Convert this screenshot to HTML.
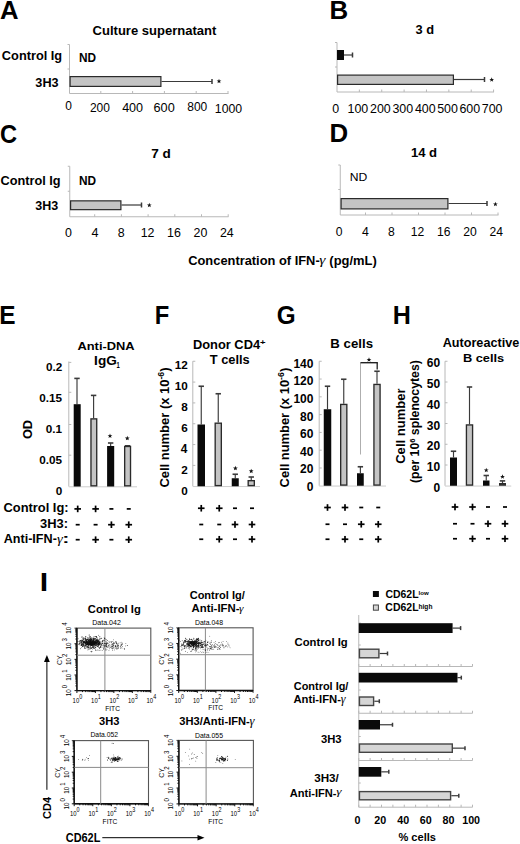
<!DOCTYPE html>
<html><head><meta charset="utf-8"><style>
html,body{margin:0;padding:0;background:#fff;}
body{width:520px;height:844px;overflow:hidden;}
svg{display:block;font-family:"Liberation Sans",sans-serif;}
</style></head><body>
<svg width="520" height="844" viewBox="0 0 520 844">
<rect width="520" height="844" fill="#fff"/>
<text x="0.06" y="18.75" font-size="25.51" font-weight="700" textLength="18.54" lengthAdjust="spacingAndGlyphs" fill="#000">A</text>
<text x="329.42" y="18.75" font-size="25.87" font-weight="700" textLength="18.71" lengthAdjust="spacingAndGlyphs" fill="#000">B</text>
<text x="-0.05" y="142.50" font-size="26.43" font-weight="700" textLength="17.09" lengthAdjust="spacingAndGlyphs" fill="#000">C</text>
<text x="329.62" y="141.90" font-size="25.51" font-weight="700" textLength="18.67" lengthAdjust="spacingAndGlyphs" fill="#000">D</text>
<text x="-0.69" y="324.20" font-size="25.94" font-weight="700" textLength="16.29" lengthAdjust="spacingAndGlyphs" fill="#000">E</text>
<text x="154.86" y="324.20" font-size="25.94" font-weight="700" textLength="14.49" lengthAdjust="spacingAndGlyphs" fill="#000">F</text>
<text x="276.83" y="324.20" font-size="25.57" font-weight="700" textLength="18.90" lengthAdjust="spacingAndGlyphs" fill="#000">G</text>
<text x="392.67" y="324.20" font-size="25.51" font-weight="700" textLength="18.12" lengthAdjust="spacingAndGlyphs" fill="#000">H</text>
<text x="39.83" y="590.80" font-size="25.94" font-weight="700" textLength="8.43" lengthAdjust="spacingAndGlyphs" fill="#000">I</text>
<text x="92.58" y="35.20" font-size="12.28" font-weight="700" textLength="123.67" lengthAdjust="spacingAndGlyphs" fill="#000">Culture supernatant</text>
<text x="1.89" y="60.30" font-size="12.69" font-weight="700" textLength="60.26" lengthAdjust="spacingAndGlyphs" fill="#000">Control Ig</text>
<text x="79.03" y="61.50" font-size="12.17" font-weight="700" textLength="17.09" lengthAdjust="spacingAndGlyphs" fill="#000">ND</text>
<text x="35.38" y="86.60" font-size="12.43" font-weight="700" textLength="23.25" lengthAdjust="spacingAndGlyphs" fill="#000">3H3</text>
<line x1="69.50" y1="44.50" x2="69.50" y2="93.50" stroke="#b8b8b8" stroke-width="1.00"/>
<line x1="67.50" y1="44.50" x2="69.50" y2="44.50" stroke="#b8b8b8" stroke-width="1.00"/>
<line x1="67.50" y1="69.00" x2="69.50" y2="69.00" stroke="#b8b8b8" stroke-width="1.00"/>
<line x1="69.50" y1="93.50" x2="228.50" y2="93.50" stroke="#b8b8b8" stroke-width="1.00"/>
<line x1="100.80" y1="91.00" x2="100.80" y2="93.50" stroke="#b8b8b8" stroke-width="1.00"/>
<line x1="132.60" y1="91.00" x2="132.60" y2="93.50" stroke="#b8b8b8" stroke-width="1.00"/>
<line x1="164.40" y1="91.00" x2="164.40" y2="93.50" stroke="#b8b8b8" stroke-width="1.00"/>
<line x1="196.20" y1="91.00" x2="196.20" y2="93.50" stroke="#b8b8b8" stroke-width="1.00"/>
<line x1="228.00" y1="91.00" x2="228.00" y2="93.50" stroke="#b8b8b8" stroke-width="1.00"/>
<text x="65.27" y="110.30" font-size="12.00" font-weight="400" textLength="6.67" lengthAdjust="spacingAndGlyphs" fill="#000">0</text>
<text x="89.90" y="111.90" font-size="12.00" font-weight="400" textLength="20.02" lengthAdjust="spacingAndGlyphs" fill="#000">200</text>
<text x="122.13" y="111.70" font-size="12.57" font-weight="400" textLength="20.98" lengthAdjust="spacingAndGlyphs" fill="#000">400</text>
<text x="153.50" y="111.70" font-size="12.71" font-weight="400" textLength="21.21" lengthAdjust="spacingAndGlyphs" fill="#000">600</text>
<text x="187.28" y="111.40" font-size="12.00" font-weight="400" textLength="20.02" lengthAdjust="spacingAndGlyphs" fill="#000">800</text>
<text x="214.87" y="112.50" font-size="12.29" font-weight="400" textLength="27.33" lengthAdjust="spacingAndGlyphs" fill="#000">1000</text>
<rect x="70.10" y="76.60" width="90.80" height="9.80" fill="#c4c4c4" stroke="#2a2a2a" stroke-width="1.20"/>
<line x1="161.50" y1="81.50" x2="212.00" y2="81.50" stroke="#3a3a3a" stroke-width="1.20"/>
<line x1="212.00" y1="79.00" x2="212.00" y2="84.00" stroke="#3a3a3a" stroke-width="1.50"/>
<polygon points="219.00,78.75 219.62,80.40 221.38,80.48 220.00,81.57 220.47,83.27 219.00,82.30 217.53,83.27 218.00,81.57 216.62,80.48 218.38,80.40" fill="#111"/>
<text x="415.58" y="33.80" font-size="12.28" font-weight="700" textLength="18.55" lengthAdjust="spacingAndGlyphs" fill="#000">3 d</text>
<line x1="337.00" y1="42.50" x2="337.00" y2="92.00" stroke="#b8b8b8" stroke-width="1.00"/>
<line x1="335.00" y1="42.50" x2="337.00" y2="42.50" stroke="#b8b8b8" stroke-width="1.00"/>
<line x1="335.00" y1="67.00" x2="337.00" y2="67.00" stroke="#b8b8b8" stroke-width="1.00"/>
<line x1="337.00" y1="92.00" x2="494.00" y2="92.00" stroke="#b8b8b8" stroke-width="1.00"/>
<line x1="359.37" y1="89.50" x2="359.37" y2="92.00" stroke="#b8b8b8" stroke-width="1.00"/>
<line x1="381.74" y1="89.50" x2="381.74" y2="92.00" stroke="#b8b8b8" stroke-width="1.00"/>
<line x1="404.11" y1="89.50" x2="404.11" y2="92.00" stroke="#b8b8b8" stroke-width="1.00"/>
<line x1="426.48" y1="89.50" x2="426.48" y2="92.00" stroke="#b8b8b8" stroke-width="1.00"/>
<line x1="448.85" y1="89.50" x2="448.85" y2="92.00" stroke="#b8b8b8" stroke-width="1.00"/>
<line x1="471.22" y1="89.50" x2="471.22" y2="92.00" stroke="#b8b8b8" stroke-width="1.00"/>
<line x1="493.59" y1="89.50" x2="493.59" y2="92.00" stroke="#b8b8b8" stroke-width="1.00"/>
<text x="332.30" y="112.60" font-size="12.43" font-weight="400" textLength="6.91" lengthAdjust="spacingAndGlyphs" fill="#000">0</text>
<text x="347.54" y="112.60" font-size="12.43" font-weight="400" textLength="20.74" lengthAdjust="spacingAndGlyphs" fill="#000">100</text>
<text x="370.04" y="112.60" font-size="12.43" font-weight="400" textLength="20.74" lengthAdjust="spacingAndGlyphs" fill="#000">200</text>
<text x="392.45" y="112.60" font-size="12.43" font-weight="400" textLength="20.74" lengthAdjust="spacingAndGlyphs" fill="#000">300</text>
<text x="414.90" y="112.60" font-size="12.43" font-weight="400" textLength="20.74" lengthAdjust="spacingAndGlyphs" fill="#000">400</text>
<text x="437.15" y="112.60" font-size="12.43" font-weight="400" textLength="20.74" lengthAdjust="spacingAndGlyphs" fill="#000">500</text>
<text x="459.44" y="112.60" font-size="12.43" font-weight="400" textLength="20.74" lengthAdjust="spacingAndGlyphs" fill="#000">600</text>
<text x="481.79" y="112.60" font-size="12.43" font-weight="400" textLength="20.74" lengthAdjust="spacingAndGlyphs" fill="#000">700</text>
<rect x="337.00" y="50.00" width="7.00" height="10.00" fill="#0a0a0a"/>
<line x1="344.00" y1="55.00" x2="352.50" y2="55.00" stroke="#3a3a3a" stroke-width="1.20"/>
<line x1="352.50" y1="52.50" x2="352.50" y2="57.50" stroke="#3a3a3a" stroke-width="1.50"/>
<rect x="337.60" y="75.10" width="115.80" height="9.30" fill="#c4c4c4" stroke="#2a2a2a" stroke-width="1.20"/>
<line x1="454.00" y1="79.50" x2="484.50" y2="79.50" stroke="#3a3a3a" stroke-width="1.20"/>
<line x1="484.50" y1="77.00" x2="484.50" y2="82.00" stroke="#3a3a3a" stroke-width="1.50"/>
<polygon points="491.70,77.25 492.32,78.90 494.08,78.98 492.70,80.07 493.17,81.77 491.70,80.80 490.23,81.77 490.70,80.07 489.32,78.98 491.08,78.90" fill="#111"/>
<text x="151.29" y="157.80" font-size="12.69" font-weight="700" textLength="19.59" lengthAdjust="spacingAndGlyphs" fill="#000">7 d</text>
<text x="0.49" y="185.40" font-size="13.10" font-weight="700" textLength="60.15" lengthAdjust="spacingAndGlyphs" fill="#000">Control Ig</text>
<text x="79.03" y="185.00" font-size="12.03" font-weight="700" textLength="17.09" lengthAdjust="spacingAndGlyphs" fill="#000">ND</text>
<text x="35.29" y="209.90" font-size="12.00" font-weight="700" textLength="22.94" lengthAdjust="spacingAndGlyphs" fill="#000">3H3</text>
<line x1="69.75" y1="166.25" x2="69.75" y2="216.75" stroke="#b8b8b8" stroke-width="1.00"/>
<line x1="67.75" y1="166.25" x2="69.75" y2="166.25" stroke="#b8b8b8" stroke-width="1.00"/>
<line x1="67.75" y1="191.25" x2="69.75" y2="191.25" stroke="#b8b8b8" stroke-width="1.00"/>
<line x1="69.75" y1="216.75" x2="228.50" y2="216.75" stroke="#b8b8b8" stroke-width="1.00"/>
<line x1="94.70" y1="214.25" x2="94.70" y2="216.75" stroke="#b8b8b8" stroke-width="1.00"/>
<line x1="121.40" y1="214.25" x2="121.40" y2="216.75" stroke="#b8b8b8" stroke-width="1.00"/>
<line x1="148.10" y1="214.25" x2="148.10" y2="216.75" stroke="#b8b8b8" stroke-width="1.00"/>
<line x1="174.80" y1="214.25" x2="174.80" y2="216.75" stroke="#b8b8b8" stroke-width="1.00"/>
<line x1="201.50" y1="214.25" x2="201.50" y2="216.75" stroke="#b8b8b8" stroke-width="1.00"/>
<line x1="228.20" y1="214.25" x2="228.20" y2="216.75" stroke="#b8b8b8" stroke-width="1.00"/>
<text x="65.05" y="236.60" font-size="12.43" font-weight="400" textLength="6.91" lengthAdjust="spacingAndGlyphs" fill="#000">0</text>
<text x="91.43" y="236.60" font-size="12.61" font-weight="400" textLength="7.01" lengthAdjust="spacingAndGlyphs" fill="#000">4</text>
<text x="117.82" y="236.60" font-size="12.43" font-weight="400" textLength="6.91" lengthAdjust="spacingAndGlyphs" fill="#000">8</text>
<text x="140.65" y="236.60" font-size="12.43" font-weight="400" textLength="13.82" lengthAdjust="spacingAndGlyphs" fill="#000">12</text>
<text x="167.02" y="236.60" font-size="12.43" font-weight="400" textLength="13.82" lengthAdjust="spacingAndGlyphs" fill="#000">16</text>
<text x="193.54" y="236.60" font-size="12.43" font-weight="400" textLength="13.82" lengthAdjust="spacingAndGlyphs" fill="#000">20</text>
<text x="219.88" y="236.60" font-size="12.43" font-weight="400" textLength="13.82" lengthAdjust="spacingAndGlyphs" fill="#000">24</text>
<rect x="70.60" y="200.85" width="50.30" height="8.80" fill="#c4c4c4" stroke="#2a2a2a" stroke-width="1.20"/>
<line x1="121.50" y1="205.00" x2="141.50" y2="205.00" stroke="#3a3a3a" stroke-width="1.20"/>
<line x1="141.50" y1="202.50" x2="141.50" y2="207.50" stroke="#3a3a3a" stroke-width="1.50"/>
<polygon points="149.30,202.75 149.92,204.40 151.68,204.48 150.30,205.57 150.77,207.27 149.30,206.30 147.83,207.27 148.30,205.57 146.92,204.48 148.68,204.40" fill="#111"/>
<text x="410.90" y="156.50" font-size="12.41" font-weight="700" textLength="26.22" lengthAdjust="spacingAndGlyphs" fill="#000">14 d</text>
<text x="349.78" y="181.25" font-size="11.59" font-weight="400" textLength="17.57" lengthAdjust="spacingAndGlyphs" fill="#000">ND</text>
<line x1="340.25" y1="165.00" x2="340.25" y2="215.00" stroke="#b8b8b8" stroke-width="1.00"/>
<line x1="338.25" y1="165.00" x2="340.25" y2="165.00" stroke="#b8b8b8" stroke-width="1.00"/>
<line x1="338.25" y1="189.50" x2="340.25" y2="189.50" stroke="#b8b8b8" stroke-width="1.00"/>
<line x1="340.25" y1="215.00" x2="498.50" y2="215.00" stroke="#b8b8b8" stroke-width="1.00"/>
<line x1="365.50" y1="212.50" x2="365.50" y2="215.00" stroke="#b8b8b8" stroke-width="1.00"/>
<line x1="392.00" y1="212.50" x2="392.00" y2="215.00" stroke="#b8b8b8" stroke-width="1.00"/>
<line x1="418.50" y1="212.50" x2="418.50" y2="215.00" stroke="#b8b8b8" stroke-width="1.00"/>
<line x1="445.00" y1="212.50" x2="445.00" y2="215.00" stroke="#b8b8b8" stroke-width="1.00"/>
<line x1="471.50" y1="212.50" x2="471.50" y2="215.00" stroke="#b8b8b8" stroke-width="1.00"/>
<line x1="498.00" y1="212.50" x2="498.00" y2="215.00" stroke="#b8b8b8" stroke-width="1.00"/>
<text x="335.73" y="235.80" font-size="12.14" font-weight="400" textLength="6.75" lengthAdjust="spacingAndGlyphs" fill="#000">0</text>
<text x="361.91" y="235.80" font-size="12.32" font-weight="400" textLength="6.85" lengthAdjust="spacingAndGlyphs" fill="#000">4</text>
<text x="388.10" y="235.80" font-size="12.14" font-weight="400" textLength="6.75" lengthAdjust="spacingAndGlyphs" fill="#000">8</text>
<text x="410.81" y="235.80" font-size="12.14" font-weight="400" textLength="13.51" lengthAdjust="spacingAndGlyphs" fill="#000">12</text>
<text x="436.98" y="235.80" font-size="12.14" font-weight="400" textLength="13.51" lengthAdjust="spacingAndGlyphs" fill="#000">16</text>
<text x="463.30" y="235.80" font-size="12.14" font-weight="400" textLength="13.51" lengthAdjust="spacingAndGlyphs" fill="#000">20</text>
<text x="489.44" y="235.80" font-size="12.14" font-weight="400" textLength="13.51" lengthAdjust="spacingAndGlyphs" fill="#000">24</text>
<rect x="341.10" y="198.60" width="106.80" height="10.30" fill="#c4c4c4" stroke="#2a2a2a" stroke-width="1.20"/>
<line x1="448.50" y1="203.50" x2="487.00" y2="203.50" stroke="#3a3a3a" stroke-width="1.20"/>
<line x1="487.00" y1="201.00" x2="487.00" y2="206.00" stroke="#3a3a3a" stroke-width="1.50"/>
<polygon points="495.40,201.75 496.02,203.40 497.78,203.48 496.40,204.57 496.87,206.27 495.40,205.30 493.93,206.27 494.40,204.57 493.02,203.48 494.78,203.40" fill="#111"/>
<text x="188.24" y="264.50" font-size="12.41" font-weight="700" textLength="131.43" lengthAdjust="spacingAndGlyphs" fill="#000">Concentration of IFN-</text>
<text x="319.29" y="263.95" font-size="11.85" font-family="Liberation Serif" font-style="italic" textLength="6.19" lengthAdjust="spacingAndGlyphs">γ</text>
<text x="329.35" y="264.50" font-size="12.83" font-weight="700" textLength="47.49" lengthAdjust="spacingAndGlyphs" fill="#000">(pg/mL)</text>
<text x="77.48" y="349.60" font-size="11.45" font-weight="700" textLength="57.19" lengthAdjust="spacingAndGlyphs" fill="#000">Anti-DNA</text>
<text x="94.12" y="364.80" font-size="12.00" font-weight="700" textLength="22.62" lengthAdjust="spacingAndGlyphs" fill="#000">IgG</text>
<text x="116.52" y="368.20" font-size="8.84" font-weight="700" textLength="3.23" lengthAdjust="spacingAndGlyphs" fill="#000">1</text>
<line x1="68.80" y1="361.50" x2="68.80" y2="486.50" stroke="#b8b8b8" stroke-width="1.00"/>
<line x1="68.80" y1="486.80" x2="137.00" y2="486.80" stroke="#cdcdcd" stroke-width="1.00"/>
<line x1="68.80" y1="362.40" x2="71.30" y2="362.40" stroke="#b8b8b8" stroke-width="1.00"/>
<line x1="68.80" y1="392.30" x2="71.30" y2="392.30" stroke="#b8b8b8" stroke-width="1.00"/>
<line x1="68.80" y1="424.50" x2="71.30" y2="424.50" stroke="#b8b8b8" stroke-width="1.00"/>
<line x1="68.80" y1="455.20" x2="71.30" y2="455.20" stroke="#b8b8b8" stroke-width="1.00"/>
<text x="45.89" y="370.70" font-size="11.71" font-weight="700" textLength="16.28" lengthAdjust="spacingAndGlyphs" fill="#000">0.2</text>
<text x="39.21" y="401.85" font-size="11.71" font-weight="700" textLength="22.80" lengthAdjust="spacingAndGlyphs" fill="#000">0.15</text>
<text x="45.71" y="433.20" font-size="11.71" font-weight="700" textLength="16.28" lengthAdjust="spacingAndGlyphs" fill="#000">0.1</text>
<text x="39.21" y="463.85" font-size="11.71" font-weight="700" textLength="22.80" lengthAdjust="spacingAndGlyphs" fill="#000">0.05</text>
<text x="55.67" y="495.10" font-size="11.71" font-weight="700" textLength="6.52" lengthAdjust="spacingAndGlyphs" fill="#000">0</text>
<line x1="77.00" y1="404.20" x2="77.00" y2="378.40" stroke="#3a3a3a" stroke-width="1.15"/>
<line x1="74.30" y1="378.40" x2="79.70" y2="378.40" stroke="#3a3a3a" stroke-width="1.60"/>
<rect x="73.70" y="404.20" width="7.00" height="82.30" fill="#0a0a0a"/>
<line x1="93.60" y1="418.20" x2="93.60" y2="395.40" stroke="#3a3a3a" stroke-width="1.15"/>
<line x1="90.90" y1="395.40" x2="96.30" y2="395.40" stroke="#3a3a3a" stroke-width="1.60"/>
<rect x="90.97" y="418.88" width="5.75" height="66.95" fill="#c4c4c4" stroke="#2a2a2a" stroke-width="1.35"/>
<line x1="110.65" y1="446.00" x2="110.65" y2="443.00" stroke="#3a3a3a" stroke-width="1.15"/>
<line x1="107.95" y1="443.00" x2="113.35" y2="443.00" stroke="#3a3a3a" stroke-width="1.60"/>
<rect x="107.10" y="446.00" width="7.10" height="40.50" fill="#0a0a0a"/>
<line x1="127.60" y1="445.80" x2="127.60" y2="445.80" stroke="#3a3a3a" stroke-width="1.15"/>
<line x1="124.90" y1="445.80" x2="130.30" y2="445.80" stroke="#3a3a3a" stroke-width="1.60"/>
<rect x="124.67" y="446.48" width="5.85" height="39.35" fill="#c4c4c4" stroke="#2a2a2a" stroke-width="1.35"/>
<polygon points="110.00,433.55 110.62,435.20 112.38,435.28 111.00,436.37 111.47,438.07 110.00,437.10 108.53,438.07 109.00,436.37 107.62,435.28 109.38,435.20" fill="#111"/>
<polygon points="127.30,435.85 127.92,437.50 129.68,437.58 128.30,438.67 128.77,440.37 127.30,439.40 125.83,440.37 126.30,438.67 124.92,437.58 126.68,437.50" fill="#111"/>
<g transform="translate(32.3,438.6) rotate(-90)">
<text x="-0.51" y="0.00" font-size="13.14" font-weight="700" textLength="19.23" lengthAdjust="spacingAndGlyphs" fill="#000">OD</text>
</g>
<text x="3.48" y="512.30" font-size="12.55" font-weight="700" textLength="65.09" lengthAdjust="spacingAndGlyphs" fill="#000">Control Ig:</text>
<text x="40.08" y="527.90" font-size="11.86" font-weight="700" textLength="27.98" lengthAdjust="spacingAndGlyphs" fill="#000">3H3:</text>
<text x="3.69" y="542.60" font-size="12.14" font-weight="700" textLength="53.17" lengthAdjust="spacingAndGlyphs" fill="#000">Anti-IFN-</text>
<text x="57.01" y="542.53" font-size="12.89" font-family="Liberation Serif" font-style="italic" textLength="5.79" lengthAdjust="spacingAndGlyphs">γ</text>
<text x="62.26" y="542.60" font-size="12.67" font-weight="700" textLength="7.14" lengthAdjust="spacingAndGlyphs" fill="#000">:</text>
<rect x="74.40" y="508.05" width="6.60" height="1.70" fill="#000"/>
<rect x="76.85" y="505.60" width="1.70" height="6.60" fill="#000"/>
<rect x="92.30" y="508.05" width="6.60" height="1.70" fill="#000"/>
<rect x="94.75" y="505.60" width="1.70" height="6.60" fill="#000"/>
<rect x="109.40" y="508.05" width="4.00" height="1.70" fill="#000"/>
<rect x="126.75" y="508.05" width="4.00" height="1.70" fill="#000"/>
<rect x="75.70" y="523.85" width="4.00" height="1.70" fill="#000"/>
<rect x="93.60" y="523.85" width="4.00" height="1.70" fill="#000"/>
<rect x="108.10" y="523.85" width="6.60" height="1.70" fill="#000"/>
<rect x="110.55" y="521.40" width="1.70" height="6.60" fill="#000"/>
<rect x="125.45" y="523.85" width="6.60" height="1.70" fill="#000"/>
<rect x="127.90" y="521.40" width="1.70" height="6.60" fill="#000"/>
<rect x="75.70" y="538.85" width="4.00" height="1.70" fill="#000"/>
<rect x="92.30" y="538.85" width="6.60" height="1.70" fill="#000"/>
<rect x="94.75" y="536.40" width="1.70" height="6.60" fill="#000"/>
<rect x="109.40" y="538.85" width="4.00" height="1.70" fill="#000"/>
<rect x="125.45" y="538.85" width="6.60" height="1.70" fill="#000"/>
<rect x="127.90" y="536.40" width="1.70" height="6.60" fill="#000"/>
<text x="192.96" y="348.80" font-size="12.00" font-weight="700" textLength="67.13" lengthAdjust="spacingAndGlyphs" fill="#000">Donor CD4</text>
<text x="260.02" y="344.60" font-size="7.86" font-weight="700" textLength="5.55" lengthAdjust="spacingAndGlyphs" fill="#000">+</text>
<text x="209.87" y="364.30" font-size="12.00" font-weight="700" textLength="39.88" lengthAdjust="spacingAndGlyphs" fill="#000">T cells</text>
<line x1="192.80" y1="361.25" x2="192.80" y2="486.25" stroke="#b8b8b8" stroke-width="1.00"/>
<line x1="192.80" y1="486.55" x2="260.00" y2="486.55" stroke="#cdcdcd" stroke-width="1.00"/>
<line x1="192.80" y1="361.25" x2="195.30" y2="361.25" stroke="#b8b8b8" stroke-width="1.00"/>
<line x1="192.80" y1="382.08" x2="195.30" y2="382.08" stroke="#b8b8b8" stroke-width="1.00"/>
<line x1="192.80" y1="402.91" x2="195.30" y2="402.91" stroke="#b8b8b8" stroke-width="1.00"/>
<line x1="192.80" y1="423.74" x2="195.30" y2="423.74" stroke="#b8b8b8" stroke-width="1.00"/>
<line x1="192.80" y1="444.57" x2="195.30" y2="444.57" stroke="#b8b8b8" stroke-width="1.00"/>
<line x1="192.80" y1="465.40" x2="195.30" y2="465.40" stroke="#b8b8b8" stroke-width="1.00"/>
<text x="174.87" y="368.70" font-size="11.71" font-weight="700" textLength="13.03" lengthAdjust="spacingAndGlyphs" fill="#000">12</text>
<text x="174.87" y="389.68" font-size="11.71" font-weight="700" textLength="13.03" lengthAdjust="spacingAndGlyphs" fill="#000">10</text>
<text x="181.25" y="410.66" font-size="11.71" font-weight="700" textLength="6.52" lengthAdjust="spacingAndGlyphs" fill="#000">8</text>
<text x="181.31" y="431.64" font-size="11.71" font-weight="700" textLength="6.52" lengthAdjust="spacingAndGlyphs" fill="#000">6</text>
<text x="180.86" y="452.62" font-size="11.88" font-weight="700" textLength="6.61" lengthAdjust="spacingAndGlyphs" fill="#000">4</text>
<text x="181.37" y="473.60" font-size="11.71" font-weight="700" textLength="6.52" lengthAdjust="spacingAndGlyphs" fill="#000">2</text>
<text x="181.37" y="494.58" font-size="11.71" font-weight="700" textLength="6.52" lengthAdjust="spacingAndGlyphs" fill="#000">0</text>
<line x1="201.25" y1="424.50" x2="201.25" y2="386.25" stroke="#3a3a3a" stroke-width="1.15"/>
<line x1="198.55" y1="386.25" x2="203.95" y2="386.25" stroke="#3a3a3a" stroke-width="1.60"/>
<rect x="197.50" y="424.50" width="7.50" height="61.75" fill="#0a0a0a"/>
<line x1="218.25" y1="422.50" x2="218.25" y2="393.75" stroke="#3a3a3a" stroke-width="1.15"/>
<line x1="215.55" y1="393.75" x2="220.95" y2="393.75" stroke="#3a3a3a" stroke-width="1.60"/>
<rect x="215.18" y="423.18" width="6.15" height="62.40" fill="#c4c4c4" stroke="#2a2a2a" stroke-width="1.35"/>
<line x1="235.25" y1="478.25" x2="235.25" y2="474.25" stroke="#3a3a3a" stroke-width="1.15"/>
<line x1="232.55" y1="474.25" x2="237.95" y2="474.25" stroke="#3a3a3a" stroke-width="1.60"/>
<rect x="231.75" y="478.25" width="7.00" height="8.00" fill="#0a0a0a"/>
<line x1="251.25" y1="480.00" x2="251.25" y2="477.00" stroke="#3a3a3a" stroke-width="1.15"/>
<line x1="248.55" y1="477.00" x2="253.95" y2="477.00" stroke="#3a3a3a" stroke-width="1.60"/>
<rect x="248.18" y="480.68" width="6.15" height="4.90" fill="#c4c4c4" stroke="#2a2a2a" stroke-width="1.35"/>
<polygon points="235.40,465.85 236.02,467.50 237.78,467.58 236.40,468.67 236.87,470.37 235.40,469.40 233.93,470.37 234.40,468.67 233.02,467.58 234.78,467.50" fill="#111"/>
<polygon points="251.20,468.65 251.82,470.30 253.58,470.38 252.20,471.47 252.67,473.17 251.20,472.20 249.73,473.17 250.20,471.47 248.82,470.38 250.58,470.30" fill="#111"/>
<rect x="197.95" y="507.40" width="6.60" height="1.70" fill="#000"/>
<rect x="200.40" y="504.95" width="1.70" height="6.60" fill="#000"/>
<rect x="215.95" y="507.40" width="6.60" height="1.70" fill="#000"/>
<rect x="218.40" y="504.95" width="1.70" height="6.60" fill="#000"/>
<rect x="233.00" y="507.40" width="4.00" height="1.70" fill="#000"/>
<rect x="250.00" y="507.40" width="4.00" height="1.70" fill="#000"/>
<rect x="199.25" y="523.65" width="4.00" height="1.70" fill="#000"/>
<rect x="217.25" y="523.65" width="4.00" height="1.70" fill="#000"/>
<rect x="231.70" y="523.65" width="6.60" height="1.70" fill="#000"/>
<rect x="234.15" y="521.20" width="1.70" height="6.60" fill="#000"/>
<rect x="248.70" y="523.65" width="6.60" height="1.70" fill="#000"/>
<rect x="251.15" y="521.20" width="1.70" height="6.60" fill="#000"/>
<rect x="199.25" y="538.40" width="4.00" height="1.70" fill="#000"/>
<rect x="215.95" y="538.40" width="6.60" height="1.70" fill="#000"/>
<rect x="218.40" y="535.95" width="1.70" height="6.60" fill="#000"/>
<rect x="233.00" y="538.40" width="4.00" height="1.70" fill="#000"/>
<rect x="248.70" y="538.40" width="6.60" height="1.70" fill="#000"/>
<rect x="251.15" y="535.95" width="1.70" height="6.60" fill="#000"/>
<text x="330.39" y="348.25" font-size="12.07" font-weight="700" textLength="42.63" lengthAdjust="spacingAndGlyphs" fill="#000">B cells</text>
<line x1="319.20" y1="361.25" x2="319.20" y2="485.75" stroke="#b8b8b8" stroke-width="1.00"/>
<line x1="319.20" y1="486.05" x2="386.00" y2="486.05" stroke="#cdcdcd" stroke-width="1.00"/>
<line x1="319.20" y1="361.25" x2="321.70" y2="361.25" stroke="#b8b8b8" stroke-width="1.00"/>
<line x1="319.20" y1="379.04" x2="321.70" y2="379.04" stroke="#b8b8b8" stroke-width="1.00"/>
<line x1="319.20" y1="396.83" x2="321.70" y2="396.83" stroke="#b8b8b8" stroke-width="1.00"/>
<line x1="319.20" y1="414.62" x2="321.70" y2="414.62" stroke="#b8b8b8" stroke-width="1.00"/>
<line x1="319.20" y1="432.41" x2="321.70" y2="432.41" stroke="#b8b8b8" stroke-width="1.00"/>
<line x1="319.20" y1="450.20" x2="321.70" y2="450.20" stroke="#b8b8b8" stroke-width="1.00"/>
<line x1="319.20" y1="467.99" x2="321.70" y2="467.99" stroke="#b8b8b8" stroke-width="1.00"/>
<text x="293.40" y="367.75" font-size="12.00" font-weight="700" textLength="20.02" lengthAdjust="spacingAndGlyphs" fill="#000">140</text>
<text x="293.40" y="385.35" font-size="12.00" font-weight="700" textLength="20.02" lengthAdjust="spacingAndGlyphs" fill="#000">120</text>
<text x="293.40" y="402.95" font-size="12.00" font-weight="700" textLength="20.02" lengthAdjust="spacingAndGlyphs" fill="#000">100</text>
<text x="300.06" y="420.55" font-size="12.00" font-weight="700" textLength="13.35" lengthAdjust="spacingAndGlyphs" fill="#000">80</text>
<text x="300.06" y="438.15" font-size="12.00" font-weight="700" textLength="13.35" lengthAdjust="spacingAndGlyphs" fill="#000">60</text>
<text x="300.06" y="455.75" font-size="12.00" font-weight="700" textLength="13.35" lengthAdjust="spacingAndGlyphs" fill="#000">40</text>
<text x="300.06" y="473.35" font-size="12.00" font-weight="700" textLength="13.35" lengthAdjust="spacingAndGlyphs" fill="#000">20</text>
<text x="306.72" y="490.95" font-size="12.00" font-weight="700" textLength="6.67" lengthAdjust="spacingAndGlyphs" fill="#000">0</text>
<line x1="327.50" y1="409.25" x2="327.50" y2="386.25" stroke="#3a3a3a" stroke-width="1.15"/>
<line x1="324.80" y1="386.25" x2="330.20" y2="386.25" stroke="#3a3a3a" stroke-width="1.60"/>
<rect x="323.75" y="409.25" width="7.50" height="76.50" fill="#0a0a0a"/>
<line x1="343.75" y1="403.75" x2="343.75" y2="379.25" stroke="#3a3a3a" stroke-width="1.15"/>
<line x1="341.05" y1="379.25" x2="346.45" y2="379.25" stroke="#3a3a3a" stroke-width="1.60"/>
<rect x="340.68" y="404.43" width="6.15" height="80.65" fill="#c4c4c4" stroke="#2a2a2a" stroke-width="1.35"/>
<line x1="360.38" y1="473.25" x2="360.38" y2="466.75" stroke="#3a3a3a" stroke-width="1.15"/>
<line x1="357.68" y1="466.75" x2="363.07" y2="466.75" stroke="#3a3a3a" stroke-width="1.60"/>
<rect x="357.00" y="473.25" width="6.75" height="12.50" fill="#0a0a0a"/>
<line x1="377.00" y1="383.75" x2="377.00" y2="371.25" stroke="#3a3a3a" stroke-width="1.15"/>
<line x1="374.30" y1="371.25" x2="379.70" y2="371.25" stroke="#3a3a3a" stroke-width="1.60"/>
<rect x="373.93" y="384.43" width="6.15" height="100.65" fill="#c4c4c4" stroke="#2a2a2a" stroke-width="1.35"/>
<line x1="360.50" y1="362.50" x2="360.50" y2="454.50" stroke="#999" stroke-width="0.80"/>
<line x1="360.50" y1="362.70" x2="377.80" y2="362.70" stroke="#222" stroke-width="1.40"/>
<line x1="377.20" y1="362.50" x2="377.20" y2="369.40" stroke="#222" stroke-width="1.30"/>
<polygon points="369.00,357.25 369.62,358.90 371.38,358.98 370.00,360.07 370.47,361.77 369.00,360.80 367.53,361.77 368.00,360.07 366.62,358.98 368.38,358.90" fill="#111"/>
<rect x="324.20" y="506.65" width="6.60" height="1.70" fill="#000"/>
<rect x="326.65" y="504.20" width="1.70" height="6.60" fill="#000"/>
<rect x="341.70" y="506.65" width="6.60" height="1.70" fill="#000"/>
<rect x="344.15" y="504.20" width="1.70" height="6.60" fill="#000"/>
<rect x="359.25" y="506.65" width="4.00" height="1.70" fill="#000"/>
<rect x="376.25" y="506.65" width="4.00" height="1.70" fill="#000"/>
<rect x="325.50" y="523.40" width="4.00" height="1.70" fill="#000"/>
<rect x="343.00" y="523.40" width="4.00" height="1.70" fill="#000"/>
<rect x="357.95" y="523.40" width="6.60" height="1.70" fill="#000"/>
<rect x="360.40" y="520.95" width="1.70" height="6.60" fill="#000"/>
<rect x="374.95" y="523.40" width="6.60" height="1.70" fill="#000"/>
<rect x="377.40" y="520.95" width="1.70" height="6.60" fill="#000"/>
<rect x="325.50" y="538.40" width="4.00" height="1.70" fill="#000"/>
<rect x="341.70" y="538.40" width="6.60" height="1.70" fill="#000"/>
<rect x="344.15" y="535.95" width="1.70" height="6.60" fill="#000"/>
<rect x="359.25" y="538.40" width="4.00" height="1.70" fill="#000"/>
<rect x="374.95" y="538.40" width="6.60" height="1.70" fill="#000"/>
<rect x="377.40" y="535.95" width="1.70" height="6.60" fill="#000"/>
<text x="442.68" y="346.75" font-size="12.76" font-weight="700" textLength="76.54" lengthAdjust="spacingAndGlyphs" fill="#000">Autoreactive</text>
<text x="462.92" y="362.00" font-size="11.38" font-weight="700" textLength="41.34" lengthAdjust="spacingAndGlyphs" fill="#000">B cells</text>
<line x1="445.00" y1="361.25" x2="445.00" y2="485.75" stroke="#b8b8b8" stroke-width="1.00"/>
<line x1="445.00" y1="486.05" x2="511.25" y2="486.05" stroke="#cdcdcd" stroke-width="1.00"/>
<line x1="445.00" y1="361.25" x2="447.50" y2="361.25" stroke="#b8b8b8" stroke-width="1.00"/>
<line x1="445.00" y1="382.00" x2="447.50" y2="382.00" stroke="#b8b8b8" stroke-width="1.00"/>
<line x1="445.00" y1="402.75" x2="447.50" y2="402.75" stroke="#b8b8b8" stroke-width="1.00"/>
<line x1="445.00" y1="423.50" x2="447.50" y2="423.50" stroke="#b8b8b8" stroke-width="1.00"/>
<line x1="445.00" y1="444.25" x2="447.50" y2="444.25" stroke="#b8b8b8" stroke-width="1.00"/>
<line x1="445.00" y1="465.00" x2="447.50" y2="465.00" stroke="#b8b8b8" stroke-width="1.00"/>
<text x="426.76" y="366.80" font-size="12.00" font-weight="700" textLength="13.35" lengthAdjust="spacingAndGlyphs" fill="#000">60</text>
<text x="426.76" y="387.70" font-size="12.00" font-weight="700" textLength="13.35" lengthAdjust="spacingAndGlyphs" fill="#000">50</text>
<text x="426.76" y="408.60" font-size="12.00" font-weight="700" textLength="13.35" lengthAdjust="spacingAndGlyphs" fill="#000">40</text>
<text x="426.76" y="429.50" font-size="12.00" font-weight="700" textLength="13.35" lengthAdjust="spacingAndGlyphs" fill="#000">30</text>
<text x="426.76" y="450.40" font-size="12.00" font-weight="700" textLength="13.35" lengthAdjust="spacingAndGlyphs" fill="#000">20</text>
<text x="426.76" y="471.30" font-size="12.00" font-weight="700" textLength="13.35" lengthAdjust="spacingAndGlyphs" fill="#000">10</text>
<text x="433.42" y="492.20" font-size="12.00" font-weight="700" textLength="6.67" lengthAdjust="spacingAndGlyphs" fill="#000">0</text>
<line x1="453.50" y1="457.50" x2="453.50" y2="451.25" stroke="#3a3a3a" stroke-width="1.15"/>
<line x1="450.80" y1="451.25" x2="456.20" y2="451.25" stroke="#3a3a3a" stroke-width="1.60"/>
<rect x="450.00" y="457.50" width="7.00" height="28.25" fill="#0a0a0a"/>
<line x1="469.50" y1="424.25" x2="469.50" y2="387.00" stroke="#3a3a3a" stroke-width="1.15"/>
<line x1="466.80" y1="387.00" x2="472.20" y2="387.00" stroke="#3a3a3a" stroke-width="1.60"/>
<rect x="466.43" y="424.93" width="6.15" height="60.15" fill="#c4c4c4" stroke="#2a2a2a" stroke-width="1.35"/>
<line x1="486.25" y1="480.50" x2="486.25" y2="475.50" stroke="#3a3a3a" stroke-width="1.15"/>
<line x1="483.55" y1="475.50" x2="488.95" y2="475.50" stroke="#3a3a3a" stroke-width="1.60"/>
<rect x="483.00" y="480.50" width="6.50" height="5.25" fill="#0a0a0a"/>
<line x1="502.50" y1="483.00" x2="502.50" y2="480.90" stroke="#3a3a3a" stroke-width="1.15"/>
<line x1="499.80" y1="480.90" x2="505.20" y2="480.90" stroke="#3a3a3a" stroke-width="1.60"/>
<rect x="499.68" y="483.68" width="5.65" height="1.40" fill="#c4c4c4" stroke="#2a2a2a" stroke-width="1.35"/>
<polygon points="486.25,467.75 486.87,469.40 488.63,469.48 487.25,470.57 487.72,472.27 486.25,471.30 484.78,472.27 485.25,470.57 483.87,469.48 485.63,469.40" fill="#111"/>
<polygon points="502.50,474.25 503.12,475.90 504.88,475.98 503.50,477.07 503.97,478.77 502.50,477.80 501.03,478.77 501.50,477.07 500.12,475.98 501.88,475.90" fill="#111"/>
<rect x="451.70" y="506.15" width="6.60" height="1.70" fill="#000"/>
<rect x="454.15" y="503.70" width="1.70" height="6.60" fill="#000"/>
<rect x="469.20" y="506.15" width="6.60" height="1.70" fill="#000"/>
<rect x="471.65" y="503.70" width="1.70" height="6.60" fill="#000"/>
<rect x="486.00" y="506.15" width="4.00" height="1.70" fill="#000"/>
<rect x="503.00" y="506.15" width="4.00" height="1.70" fill="#000"/>
<rect x="453.00" y="522.90" width="4.00" height="1.70" fill="#000"/>
<rect x="470.50" y="522.90" width="4.00" height="1.70" fill="#000"/>
<rect x="484.70" y="522.90" width="6.60" height="1.70" fill="#000"/>
<rect x="487.15" y="520.45" width="1.70" height="6.60" fill="#000"/>
<rect x="501.70" y="522.90" width="6.60" height="1.70" fill="#000"/>
<rect x="504.15" y="520.45" width="1.70" height="6.60" fill="#000"/>
<rect x="453.00" y="537.90" width="4.00" height="1.70" fill="#000"/>
<rect x="469.20" y="537.90" width="6.60" height="1.70" fill="#000"/>
<rect x="471.65" y="535.45" width="1.70" height="6.60" fill="#000"/>
<rect x="486.00" y="537.90" width="4.00" height="1.70" fill="#000"/>
<rect x="501.70" y="537.90" width="6.60" height="1.70" fill="#000"/>
<rect x="504.15" y="535.45" width="1.70" height="6.60" fill="#000"/>
<g transform="translate(168.50,487.60) rotate(-90)">
<text x="0" y="0" font-size="12.2" font-weight="700" textLength="120.20" lengthAdjust="spacingAndGlyphs">Cell number (x 10<tspan dy="-4.6" font-size="8.3">-6</tspan><tspan dy="4.6">)</tspan></text>
</g>
<g transform="translate(289.00,487.40) rotate(-90)">
<text x="0" y="0" font-size="12.2" font-weight="700" textLength="119.60" lengthAdjust="spacingAndGlyphs">Cell number (x 10<tspan dy="-4.6" font-size="8.3">-6</tspan><tspan dy="4.6">)</tspan></text>
</g>
<g transform="translate(405.30,463.80) rotate(-90)">
<text x="0" y="0" font-size="12" font-weight="700" textLength="75.4" lengthAdjust="spacingAndGlyphs">Cell number</text>
</g>
<g transform="translate(419.20,483.00) rotate(-90)">
<text x="0" y="0" font-size="12" font-weight="700" textLength="122.8" lengthAdjust="spacingAndGlyphs">(per 10<tspan dy="-4.5" font-size="7.5">6</tspan><tspan dy="4.5"> splenocytes)</tspan></text>
</g>
<text x="87.80" y="613.00" font-size="10.00" font-weight="700" textLength="52.94" lengthAdjust="spacingAndGlyphs" fill="#000">Control Ig</text>
<text x="92.24" y="624.70" font-size="7.57" font-weight="400" textLength="28.61" lengthAdjust="spacingAndGlyphs" fill="#000">Data.042</text>
<rect x="76.90" y="628.10" width="73.90" height="62.50" fill="none" stroke="#555" stroke-width="1.10"/>
<line x1="76.90" y1="628.10" x2="76.90" y2="690.60" stroke="#111" stroke-width="1.40"/>
<line x1="76.90" y1="690.60" x2="150.80" y2="690.60" stroke="#111" stroke-width="1.40"/>
<line x1="104.90" y1="628.10" x2="104.90" y2="690.60" stroke="#8a8a8a" stroke-width="1.00"/>
<line x1="76.90" y1="655.20" x2="150.80" y2="655.20" stroke="#8a8a8a" stroke-width="1.00"/>
<line x1="74.50" y1="690.60" x2="76.90" y2="690.60" stroke="#111" stroke-width="1.00"/>
<line x1="76.90" y1="690.60" x2="76.90" y2="693.00" stroke="#111" stroke-width="1.00"/>
<line x1="75.40" y1="685.90" x2="76.90" y2="685.90" stroke="#111" stroke-width="1.00"/>
<line x1="82.46" y1="690.60" x2="82.46" y2="692.10" stroke="#111" stroke-width="1.00"/>
<line x1="75.40" y1="683.14" x2="76.90" y2="683.14" stroke="#111" stroke-width="1.00"/>
<line x1="85.71" y1="690.60" x2="85.71" y2="692.10" stroke="#111" stroke-width="1.00"/>
<line x1="75.40" y1="681.19" x2="76.90" y2="681.19" stroke="#111" stroke-width="1.00"/>
<line x1="88.02" y1="690.60" x2="88.02" y2="692.10" stroke="#111" stroke-width="1.00"/>
<line x1="75.40" y1="679.68" x2="76.90" y2="679.68" stroke="#111" stroke-width="1.00"/>
<line x1="89.81" y1="690.60" x2="89.81" y2="692.10" stroke="#111" stroke-width="1.00"/>
<line x1="75.40" y1="678.44" x2="76.90" y2="678.44" stroke="#111" stroke-width="1.00"/>
<line x1="91.28" y1="690.60" x2="91.28" y2="692.10" stroke="#111" stroke-width="1.00"/>
<line x1="75.40" y1="677.40" x2="76.90" y2="677.40" stroke="#111" stroke-width="1.00"/>
<line x1="92.51" y1="690.60" x2="92.51" y2="692.10" stroke="#111" stroke-width="1.00"/>
<line x1="75.40" y1="676.49" x2="76.90" y2="676.49" stroke="#111" stroke-width="1.00"/>
<line x1="93.58" y1="690.60" x2="93.58" y2="692.10" stroke="#111" stroke-width="1.00"/>
<line x1="75.40" y1="675.69" x2="76.90" y2="675.69" stroke="#111" stroke-width="1.00"/>
<line x1="94.53" y1="690.60" x2="94.53" y2="692.10" stroke="#111" stroke-width="1.00"/>
<line x1="74.50" y1="674.98" x2="76.90" y2="674.98" stroke="#111" stroke-width="1.00"/>
<line x1="95.38" y1="690.60" x2="95.38" y2="693.00" stroke="#111" stroke-width="1.00"/>
<line x1="75.40" y1="670.27" x2="76.90" y2="670.27" stroke="#111" stroke-width="1.00"/>
<line x1="100.94" y1="690.60" x2="100.94" y2="692.10" stroke="#111" stroke-width="1.00"/>
<line x1="75.40" y1="667.52" x2="76.90" y2="667.52" stroke="#111" stroke-width="1.00"/>
<line x1="104.19" y1="690.60" x2="104.19" y2="692.10" stroke="#111" stroke-width="1.00"/>
<line x1="75.40" y1="665.57" x2="76.90" y2="665.57" stroke="#111" stroke-width="1.00"/>
<line x1="106.50" y1="690.60" x2="106.50" y2="692.10" stroke="#111" stroke-width="1.00"/>
<line x1="75.40" y1="664.05" x2="76.90" y2="664.05" stroke="#111" stroke-width="1.00"/>
<line x1="108.29" y1="690.60" x2="108.29" y2="692.10" stroke="#111" stroke-width="1.00"/>
<line x1="75.40" y1="662.82" x2="76.90" y2="662.82" stroke="#111" stroke-width="1.00"/>
<line x1="109.75" y1="690.60" x2="109.75" y2="692.10" stroke="#111" stroke-width="1.00"/>
<line x1="75.40" y1="661.77" x2="76.90" y2="661.77" stroke="#111" stroke-width="1.00"/>
<line x1="110.99" y1="690.60" x2="110.99" y2="692.10" stroke="#111" stroke-width="1.00"/>
<line x1="75.40" y1="660.86" x2="76.90" y2="660.86" stroke="#111" stroke-width="1.00"/>
<line x1="112.06" y1="690.60" x2="112.06" y2="692.10" stroke="#111" stroke-width="1.00"/>
<line x1="75.40" y1="660.06" x2="76.90" y2="660.06" stroke="#111" stroke-width="1.00"/>
<line x1="113.00" y1="690.60" x2="113.00" y2="692.10" stroke="#111" stroke-width="1.00"/>
<line x1="74.50" y1="659.35" x2="76.90" y2="659.35" stroke="#111" stroke-width="1.00"/>
<line x1="113.85" y1="690.60" x2="113.85" y2="693.00" stroke="#111" stroke-width="1.00"/>
<line x1="75.40" y1="654.65" x2="76.90" y2="654.65" stroke="#111" stroke-width="1.00"/>
<line x1="119.41" y1="690.60" x2="119.41" y2="692.10" stroke="#111" stroke-width="1.00"/>
<line x1="75.40" y1="651.89" x2="76.90" y2="651.89" stroke="#111" stroke-width="1.00"/>
<line x1="122.66" y1="690.60" x2="122.66" y2="692.10" stroke="#111" stroke-width="1.00"/>
<line x1="75.40" y1="649.94" x2="76.90" y2="649.94" stroke="#111" stroke-width="1.00"/>
<line x1="124.97" y1="690.60" x2="124.97" y2="692.10" stroke="#111" stroke-width="1.00"/>
<line x1="75.40" y1="648.43" x2="76.90" y2="648.43" stroke="#111" stroke-width="1.00"/>
<line x1="126.76" y1="690.60" x2="126.76" y2="692.10" stroke="#111" stroke-width="1.00"/>
<line x1="75.40" y1="647.19" x2="76.90" y2="647.19" stroke="#111" stroke-width="1.00"/>
<line x1="128.23" y1="690.60" x2="128.23" y2="692.10" stroke="#111" stroke-width="1.00"/>
<line x1="75.40" y1="646.15" x2="76.90" y2="646.15" stroke="#111" stroke-width="1.00"/>
<line x1="129.46" y1="690.60" x2="129.46" y2="692.10" stroke="#111" stroke-width="1.00"/>
<line x1="75.40" y1="645.24" x2="76.90" y2="645.24" stroke="#111" stroke-width="1.00"/>
<line x1="130.53" y1="690.60" x2="130.53" y2="692.10" stroke="#111" stroke-width="1.00"/>
<line x1="75.40" y1="644.44" x2="76.90" y2="644.44" stroke="#111" stroke-width="1.00"/>
<line x1="131.48" y1="690.60" x2="131.48" y2="692.10" stroke="#111" stroke-width="1.00"/>
<line x1="74.50" y1="643.73" x2="76.90" y2="643.73" stroke="#111" stroke-width="1.00"/>
<line x1="132.33" y1="690.60" x2="132.33" y2="693.00" stroke="#111" stroke-width="1.00"/>
<line x1="75.40" y1="639.02" x2="76.90" y2="639.02" stroke="#111" stroke-width="1.00"/>
<line x1="137.89" y1="690.60" x2="137.89" y2="692.10" stroke="#111" stroke-width="1.00"/>
<line x1="75.40" y1="636.27" x2="76.90" y2="636.27" stroke="#111" stroke-width="1.00"/>
<line x1="141.14" y1="690.60" x2="141.14" y2="692.10" stroke="#111" stroke-width="1.00"/>
<line x1="75.40" y1="634.32" x2="76.90" y2="634.32" stroke="#111" stroke-width="1.00"/>
<line x1="143.45" y1="690.60" x2="143.45" y2="692.10" stroke="#111" stroke-width="1.00"/>
<line x1="75.40" y1="632.80" x2="76.90" y2="632.80" stroke="#111" stroke-width="1.00"/>
<line x1="145.24" y1="690.60" x2="145.24" y2="692.10" stroke="#111" stroke-width="1.00"/>
<line x1="75.40" y1="631.57" x2="76.90" y2="631.57" stroke="#111" stroke-width="1.00"/>
<line x1="146.70" y1="690.60" x2="146.70" y2="692.10" stroke="#111" stroke-width="1.00"/>
<line x1="75.40" y1="630.52" x2="76.90" y2="630.52" stroke="#111" stroke-width="1.00"/>
<line x1="147.94" y1="690.60" x2="147.94" y2="692.10" stroke="#111" stroke-width="1.00"/>
<line x1="75.40" y1="629.61" x2="76.90" y2="629.61" stroke="#111" stroke-width="1.00"/>
<line x1="149.01" y1="690.60" x2="149.01" y2="692.10" stroke="#111" stroke-width="1.00"/>
<line x1="75.40" y1="628.81" x2="76.90" y2="628.81" stroke="#111" stroke-width="1.00"/>
<line x1="149.95" y1="690.60" x2="149.95" y2="692.10" stroke="#111" stroke-width="1.00"/>
<line x1="74.50" y1="628.10" x2="76.90" y2="628.10" stroke="#111" stroke-width="0.80"/>
<line x1="150.80" y1="690.60" x2="150.80" y2="693.00" stroke="#111" stroke-width="0.80"/>
<g transform="translate(71.30,692.80) rotate(-90) scale(0.85,1)" fill="#000"><text x="0" y="0" font-size="7.4" text-anchor="middle">10</text><text x="5.3" y="-3.9" font-size="7.2">0</text></g>
<g transform="translate(71.30,677.18) rotate(-90) scale(0.85,1)" fill="#000"><text x="0" y="0" font-size="7.4" text-anchor="middle">10</text><text x="5.3" y="-3.9" font-size="7.2">1</text></g>
<g transform="translate(71.30,661.55) rotate(-90) scale(0.85,1)" fill="#000"><text x="0" y="0" font-size="7.4" text-anchor="middle">10</text><text x="5.3" y="-3.9" font-size="7.2">2</text></g>
<g transform="translate(71.30,645.93) rotate(-90) scale(0.85,1)" fill="#000"><text x="0" y="0" font-size="7.4" text-anchor="middle">10</text><text x="5.3" y="-3.9" font-size="7.2">3</text></g>
<g transform="translate(71.30,630.30) rotate(-90) scale(0.85,1)" fill="#000"><text x="0" y="0" font-size="7.4" text-anchor="middle">10</text><text x="5.3" y="-3.9" font-size="7.2">4</text></g>
<g transform="translate(62.30,660.15) rotate(-90)"><text x="0" y="0" font-size="7" text-anchor="middle" fill="#222">CY</text></g>
<g transform="translate(75.90,702.70) scale(0.78,1)" fill="#000"><text x="0" y="0" font-size="7.6" text-anchor="middle">10</text><text x="4.4" y="-3.9" font-size="7">0</text></g>
<g transform="translate(94.38,702.70) scale(0.78,1)" fill="#000"><text x="0" y="0" font-size="7.6" text-anchor="middle">10</text><text x="4.4" y="-3.9" font-size="7">1</text></g>
<g transform="translate(112.85,702.70) scale(0.78,1)" fill="#000"><text x="0" y="0" font-size="7.6" text-anchor="middle">10</text><text x="4.4" y="-3.9" font-size="7">2</text></g>
<g transform="translate(131.33,702.70) scale(0.78,1)" fill="#000"><text x="0" y="0" font-size="7.6" text-anchor="middle">10</text><text x="4.4" y="-3.9" font-size="7">3</text></g>
<g transform="translate(149.80,702.70) scale(0.78,1)" fill="#000"><text x="0" y="0" font-size="7.6" text-anchor="middle">10</text><text x="4.4" y="-3.9" font-size="7">4</text></g>
<text x="105.17" y="710.80" font-size="7.71" font-weight="400" textLength="14.81" lengthAdjust="spacingAndGlyphs" fill="#000">FITC</text>
<circle cx="89.77" cy="643.63" r="0.50" fill="#111"/>
<circle cx="89.91" cy="641.81" r="0.50" fill="#111"/>
<circle cx="86.54" cy="642.03" r="0.50" fill="#111"/>
<circle cx="96.34" cy="643.43" r="0.50" fill="#111"/>
<circle cx="95.98" cy="643.05" r="0.50" fill="#111"/>
<circle cx="92.89" cy="642.91" r="0.50" fill="#111"/>
<circle cx="83.00" cy="644.38" r="0.50" fill="#111"/>
<circle cx="93.43" cy="643.60" r="0.50" fill="#111"/>
<circle cx="82.88" cy="638.66" r="0.50" fill="#111"/>
<circle cx="86.73" cy="641.47" r="0.50" fill="#111"/>
<circle cx="92.47" cy="642.40" r="0.50" fill="#111"/>
<circle cx="93.50" cy="641.09" r="0.50" fill="#111"/>
<circle cx="92.48" cy="643.37" r="0.50" fill="#111"/>
<circle cx="87.83" cy="646.28" r="0.50" fill="#111"/>
<circle cx="93.67" cy="645.13" r="0.50" fill="#111"/>
<circle cx="88.02" cy="640.87" r="0.50" fill="#111"/>
<circle cx="89.35" cy="642.27" r="0.50" fill="#111"/>
<circle cx="94.03" cy="643.05" r="0.50" fill="#111"/>
<circle cx="88.85" cy="640.39" r="0.50" fill="#111"/>
<circle cx="88.50" cy="645.19" r="0.50" fill="#111"/>
<circle cx="87.12" cy="643.04" r="0.50" fill="#111"/>
<circle cx="93.05" cy="639.22" r="0.50" fill="#111"/>
<circle cx="91.23" cy="645.37" r="0.50" fill="#111"/>
<circle cx="81.33" cy="641.79" r="0.50" fill="#111"/>
<circle cx="90.49" cy="640.70" r="0.50" fill="#111"/>
<circle cx="93.39" cy="642.36" r="0.50" fill="#111"/>
<circle cx="83.97" cy="644.32" r="0.50" fill="#111"/>
<circle cx="94.21" cy="644.58" r="0.50" fill="#111"/>
<circle cx="97.91" cy="643.30" r="0.50" fill="#111"/>
<circle cx="91.57" cy="639.64" r="0.50" fill="#111"/>
<circle cx="93.95" cy="641.15" r="0.50" fill="#111"/>
<circle cx="88.83" cy="639.72" r="0.50" fill="#111"/>
<circle cx="86.36" cy="641.33" r="0.50" fill="#111"/>
<circle cx="97.19" cy="638.03" r="0.50" fill="#111"/>
<circle cx="84.00" cy="643.03" r="0.50" fill="#111"/>
<circle cx="97.93" cy="643.77" r="0.50" fill="#111"/>
<circle cx="81.88" cy="636.96" r="0.50" fill="#111"/>
<circle cx="92.72" cy="640.88" r="0.50" fill="#111"/>
<circle cx="85.63" cy="644.65" r="0.50" fill="#111"/>
<circle cx="96.29" cy="642.85" r="0.50" fill="#111"/>
<circle cx="92.18" cy="643.46" r="0.50" fill="#111"/>
<circle cx="98.65" cy="643.86" r="0.50" fill="#111"/>
<circle cx="93.49" cy="643.71" r="0.50" fill="#111"/>
<circle cx="83.47" cy="645.32" r="0.50" fill="#111"/>
<circle cx="95.58" cy="643.67" r="0.50" fill="#111"/>
<circle cx="81.53" cy="641.11" r="0.50" fill="#111"/>
<circle cx="95.04" cy="638.52" r="0.50" fill="#111"/>
<circle cx="90.12" cy="644.74" r="0.50" fill="#111"/>
<circle cx="84.71" cy="646.04" r="0.50" fill="#111"/>
<circle cx="93.65" cy="642.17" r="0.50" fill="#111"/>
<circle cx="92.56" cy="643.93" r="0.50" fill="#111"/>
<circle cx="91.58" cy="645.02" r="0.50" fill="#111"/>
<circle cx="87.82" cy="641.59" r="0.50" fill="#111"/>
<circle cx="96.00" cy="642.56" r="0.50" fill="#111"/>
<circle cx="86.77" cy="644.58" r="0.50" fill="#111"/>
<circle cx="98.03" cy="641.52" r="0.50" fill="#111"/>
<circle cx="84.38" cy="642.20" r="0.50" fill="#111"/>
<circle cx="90.28" cy="641.84" r="0.50" fill="#111"/>
<circle cx="97.74" cy="640.24" r="0.50" fill="#111"/>
<circle cx="97.05" cy="639.71" r="0.50" fill="#111"/>
<circle cx="87.22" cy="643.89" r="0.50" fill="#111"/>
<circle cx="96.42" cy="644.39" r="0.50" fill="#111"/>
<circle cx="92.66" cy="642.81" r="0.50" fill="#111"/>
<circle cx="91.73" cy="643.77" r="0.50" fill="#111"/>
<circle cx="90.15" cy="643.11" r="0.50" fill="#111"/>
<circle cx="93.75" cy="642.50" r="0.50" fill="#111"/>
<circle cx="94.67" cy="643.74" r="0.50" fill="#111"/>
<circle cx="100.65" cy="643.21" r="0.50" fill="#111"/>
<circle cx="88.95" cy="641.68" r="0.50" fill="#111"/>
<circle cx="90.94" cy="644.53" r="0.50" fill="#111"/>
<circle cx="89.38" cy="643.35" r="0.50" fill="#111"/>
<circle cx="99.82" cy="636.86" r="0.50" fill="#111"/>
<circle cx="85.61" cy="643.04" r="0.50" fill="#111"/>
<circle cx="92.91" cy="643.02" r="0.50" fill="#111"/>
<circle cx="88.93" cy="643.94" r="0.50" fill="#111"/>
<circle cx="92.35" cy="641.35" r="0.50" fill="#111"/>
<circle cx="102.66" cy="643.28" r="0.50" fill="#111"/>
<circle cx="88.34" cy="642.28" r="0.50" fill="#111"/>
<circle cx="89.92" cy="642.36" r="0.50" fill="#111"/>
<circle cx="77.91" cy="641.43" r="0.50" fill="#111"/>
<circle cx="95.84" cy="639.93" r="0.50" fill="#111"/>
<circle cx="90.68" cy="644.60" r="0.50" fill="#111"/>
<circle cx="95.11" cy="645.78" r="0.50" fill="#111"/>
<circle cx="82.83" cy="641.72" r="0.50" fill="#111"/>
<circle cx="89.36" cy="643.87" r="0.50" fill="#111"/>
<circle cx="96.24" cy="636.60" r="0.50" fill="#111"/>
<circle cx="96.23" cy="639.32" r="0.50" fill="#111"/>
<circle cx="94.28" cy="639.22" r="0.50" fill="#111"/>
<circle cx="91.84" cy="645.13" r="0.50" fill="#111"/>
<circle cx="90.28" cy="642.92" r="0.50" fill="#111"/>
<circle cx="94.83" cy="642.81" r="0.50" fill="#111"/>
<circle cx="90.58" cy="645.87" r="0.50" fill="#111"/>
<circle cx="96.03" cy="641.85" r="0.50" fill="#111"/>
<circle cx="104.18" cy="639.98" r="0.50" fill="#111"/>
<circle cx="95.39" cy="641.92" r="0.50" fill="#111"/>
<circle cx="91.64" cy="644.05" r="0.50" fill="#111"/>
<circle cx="92.07" cy="643.91" r="0.50" fill="#111"/>
<circle cx="83.67" cy="639.18" r="0.50" fill="#111"/>
<circle cx="93.95" cy="640.38" r="0.50" fill="#111"/>
<circle cx="86.07" cy="639.27" r="0.50" fill="#111"/>
<circle cx="97.08" cy="644.14" r="0.50" fill="#111"/>
<circle cx="98.07" cy="640.44" r="0.50" fill="#111"/>
<circle cx="91.00" cy="639.99" r="0.50" fill="#111"/>
<circle cx="94.68" cy="646.00" r="0.50" fill="#111"/>
<circle cx="86.73" cy="645.93" r="0.50" fill="#111"/>
<circle cx="95.74" cy="642.11" r="0.50" fill="#111"/>
<circle cx="81.53" cy="645.59" r="0.50" fill="#111"/>
<circle cx="90.54" cy="641.17" r="0.50" fill="#111"/>
<circle cx="92.92" cy="643.40" r="0.50" fill="#111"/>
<circle cx="98.19" cy="640.26" r="0.50" fill="#111"/>
<circle cx="96.45" cy="645.77" r="0.50" fill="#111"/>
<circle cx="97.97" cy="642.10" r="0.50" fill="#111"/>
<circle cx="87.43" cy="644.74" r="0.50" fill="#111"/>
<circle cx="91.55" cy="642.77" r="0.50" fill="#111"/>
<circle cx="97.84" cy="641.92" r="0.50" fill="#111"/>
<circle cx="79.98" cy="641.65" r="0.50" fill="#111"/>
<circle cx="82.10" cy="644.30" r="0.50" fill="#111"/>
<circle cx="92.52" cy="641.16" r="0.50" fill="#111"/>
<circle cx="90.95" cy="644.33" r="0.50" fill="#111"/>
<circle cx="91.38" cy="645.42" r="0.50" fill="#111"/>
<circle cx="90.71" cy="644.79" r="0.50" fill="#111"/>
<circle cx="98.16" cy="646.04" r="0.50" fill="#111"/>
<circle cx="87.78" cy="644.44" r="0.50" fill="#111"/>
<circle cx="82.00" cy="640.12" r="0.50" fill="#111"/>
<circle cx="81.58" cy="644.85" r="0.50" fill="#111"/>
<circle cx="85.09" cy="642.47" r="0.50" fill="#111"/>
<circle cx="90.08" cy="642.44" r="0.50" fill="#111"/>
<circle cx="88.16" cy="643.01" r="0.50" fill="#111"/>
<circle cx="99.60" cy="642.60" r="0.50" fill="#111"/>
<circle cx="93.55" cy="644.70" r="0.50" fill="#111"/>
<circle cx="90.05" cy="639.73" r="0.50" fill="#111"/>
<circle cx="88.33" cy="644.86" r="0.50" fill="#111"/>
<circle cx="83.10" cy="641.18" r="0.50" fill="#111"/>
<circle cx="95.84" cy="644.24" r="0.50" fill="#111"/>
<circle cx="91.04" cy="644.27" r="0.50" fill="#111"/>
<circle cx="91.80" cy="639.91" r="0.50" fill="#111"/>
<circle cx="83.49" cy="641.09" r="0.50" fill="#111"/>
<circle cx="95.43" cy="641.26" r="0.50" fill="#111"/>
<circle cx="86.67" cy="640.80" r="0.50" fill="#111"/>
<circle cx="83.65" cy="642.24" r="0.50" fill="#111"/>
<circle cx="85.34" cy="643.30" r="0.50" fill="#111"/>
<circle cx="79.67" cy="643.22" r="0.50" fill="#111"/>
<circle cx="87.92" cy="638.23" r="0.50" fill="#111"/>
<circle cx="94.48" cy="641.89" r="0.50" fill="#111"/>
<circle cx="80.30" cy="640.57" r="0.50" fill="#111"/>
<circle cx="92.40" cy="641.49" r="0.50" fill="#111"/>
<circle cx="94.74" cy="644.14" r="0.50" fill="#111"/>
<circle cx="94.20" cy="643.22" r="0.50" fill="#111"/>
<circle cx="97.40" cy="643.95" r="0.50" fill="#111"/>
<circle cx="93.17" cy="637.92" r="0.50" fill="#111"/>
<circle cx="95.30" cy="645.38" r="0.50" fill="#111"/>
<circle cx="89.57" cy="641.47" r="0.50" fill="#111"/>
<circle cx="100.31" cy="638.63" r="0.50" fill="#111"/>
<circle cx="93.25" cy="647.83" r="0.50" fill="#111"/>
<circle cx="86.55" cy="644.02" r="0.50" fill="#111"/>
<circle cx="100.05" cy="642.24" r="0.50" fill="#111"/>
<circle cx="93.69" cy="644.49" r="0.50" fill="#111"/>
<circle cx="86.65" cy="642.30" r="0.50" fill="#111"/>
<circle cx="92.41" cy="644.32" r="0.50" fill="#111"/>
<circle cx="90.83" cy="642.07" r="0.50" fill="#111"/>
<circle cx="86.12" cy="641.71" r="0.50" fill="#111"/>
<circle cx="95.28" cy="642.72" r="0.50" fill="#111"/>
<circle cx="86.91" cy="640.65" r="0.50" fill="#111"/>
<circle cx="103.80" cy="645.01" r="0.50" fill="#111"/>
<circle cx="94.06" cy="636.80" r="0.50" fill="#111"/>
<circle cx="93.98" cy="643.56" r="0.50" fill="#111"/>
<circle cx="99.08" cy="643.44" r="0.50" fill="#111"/>
<circle cx="90.68" cy="643.65" r="0.50" fill="#111"/>
<circle cx="81.67" cy="644.77" r="0.50" fill="#111"/>
<circle cx="92.56" cy="640.96" r="0.50" fill="#111"/>
<circle cx="97.36" cy="646.48" r="0.50" fill="#111"/>
<circle cx="84.27" cy="641.03" r="0.50" fill="#111"/>
<circle cx="92.40" cy="642.90" r="0.50" fill="#111"/>
<circle cx="89.09" cy="640.36" r="0.50" fill="#111"/>
<circle cx="101.18" cy="644.78" r="0.50" fill="#111"/>
<circle cx="85.27" cy="639.54" r="0.50" fill="#111"/>
<circle cx="99.18" cy="644.68" r="0.50" fill="#111"/>
<circle cx="99.74" cy="644.28" r="0.50" fill="#111"/>
<circle cx="86.81" cy="643.07" r="0.50" fill="#111"/>
<circle cx="80.63" cy="640.85" r="0.50" fill="#111"/>
<circle cx="90.72" cy="643.65" r="0.50" fill="#111"/>
<circle cx="87.51" cy="642.23" r="0.50" fill="#111"/>
<circle cx="93.20" cy="643.33" r="0.50" fill="#111"/>
<circle cx="94.06" cy="642.96" r="0.50" fill="#111"/>
<circle cx="89.45" cy="644.24" r="0.50" fill="#111"/>
<circle cx="91.24" cy="640.68" r="0.50" fill="#111"/>
<circle cx="88.00" cy="642.50" r="0.50" fill="#111"/>
<circle cx="90.47" cy="642.85" r="0.50" fill="#111"/>
<circle cx="91.00" cy="642.89" r="0.50" fill="#111"/>
<circle cx="90.36" cy="639.73" r="0.50" fill="#111"/>
<circle cx="93.02" cy="644.82" r="0.50" fill="#111"/>
<circle cx="93.09" cy="642.08" r="0.50" fill="#111"/>
<circle cx="93.14" cy="640.38" r="0.50" fill="#111"/>
<circle cx="81.90" cy="642.63" r="0.50" fill="#111"/>
<circle cx="86.53" cy="644.13" r="0.50" fill="#111"/>
<circle cx="85.80" cy="636.72" r="0.50" fill="#111"/>
<circle cx="86.01" cy="645.97" r="0.50" fill="#111"/>
<circle cx="89.17" cy="639.49" r="0.50" fill="#111"/>
<circle cx="87.34" cy="643.65" r="0.50" fill="#111"/>
<circle cx="93.38" cy="642.89" r="0.50" fill="#111"/>
<circle cx="98.12" cy="644.05" r="0.50" fill="#111"/>
<circle cx="90.90" cy="643.81" r="0.50" fill="#111"/>
<circle cx="98.94" cy="644.64" r="0.50" fill="#111"/>
<circle cx="95.91" cy="640.12" r="0.50" fill="#111"/>
<circle cx="90.29" cy="644.11" r="0.50" fill="#111"/>
<circle cx="89.58" cy="644.85" r="0.50" fill="#111"/>
<circle cx="93.86" cy="644.50" r="0.50" fill="#111"/>
<circle cx="89.98" cy="648.10" r="0.50" fill="#111"/>
<circle cx="96.95" cy="642.03" r="0.50" fill="#111"/>
<circle cx="91.43" cy="648.21" r="0.50" fill="#111"/>
<circle cx="89.35" cy="644.42" r="0.50" fill="#111"/>
<circle cx="95.71" cy="642.51" r="0.50" fill="#111"/>
<circle cx="85.40" cy="642.91" r="0.50" fill="#111"/>
<circle cx="92.73" cy="644.99" r="0.50" fill="#111"/>
<circle cx="94.76" cy="642.55" r="0.50" fill="#111"/>
<circle cx="95.10" cy="643.69" r="0.50" fill="#111"/>
<circle cx="91.99" cy="642.62" r="0.50" fill="#111"/>
<circle cx="89.83" cy="644.01" r="0.50" fill="#111"/>
<circle cx="85.94" cy="641.12" r="0.50" fill="#111"/>
<circle cx="91.02" cy="639.28" r="0.50" fill="#111"/>
<circle cx="88.91" cy="638.08" r="0.50" fill="#111"/>
<circle cx="87.72" cy="643.75" r="0.50" fill="#111"/>
<circle cx="93.72" cy="642.38" r="0.50" fill="#111"/>
<circle cx="89.89" cy="639.38" r="0.50" fill="#111"/>
<circle cx="99.77" cy="643.64" r="0.50" fill="#111"/>
<circle cx="96.25" cy="640.56" r="0.50" fill="#111"/>
<circle cx="90.11" cy="638.50" r="0.50" fill="#111"/>
<circle cx="94.75" cy="644.56" r="0.50" fill="#111"/>
<circle cx="81.89" cy="642.39" r="0.50" fill="#111"/>
<circle cx="94.03" cy="638.62" r="0.50" fill="#111"/>
<circle cx="82.24" cy="640.16" r="0.50" fill="#111"/>
<circle cx="87.98" cy="639.41" r="0.50" fill="#111"/>
<circle cx="91.15" cy="643.05" r="0.50" fill="#111"/>
<circle cx="94.04" cy="644.04" r="0.50" fill="#111"/>
<circle cx="98.21" cy="645.06" r="0.50" fill="#111"/>
<circle cx="84.70" cy="641.39" r="0.50" fill="#111"/>
<circle cx="85.91" cy="640.13" r="0.50" fill="#111"/>
<circle cx="90.61" cy="642.51" r="0.50" fill="#111"/>
<circle cx="93.35" cy="639.01" r="0.50" fill="#111"/>
<circle cx="85.06" cy="642.45" r="0.50" fill="#111"/>
<circle cx="90.04" cy="641.82" r="0.50" fill="#111"/>
<circle cx="90.70" cy="640.83" r="0.50" fill="#111"/>
<circle cx="94.37" cy="643.28" r="0.50" fill="#111"/>
<circle cx="90.58" cy="641.02" r="0.50" fill="#111"/>
<circle cx="90.16" cy="636.51" r="0.50" fill="#111"/>
<circle cx="86.29" cy="642.58" r="0.50" fill="#111"/>
<circle cx="83.78" cy="642.94" r="0.50" fill="#111"/>
<circle cx="91.71" cy="639.47" r="0.50" fill="#111"/>
<circle cx="89.80" cy="641.81" r="0.50" fill="#111"/>
<circle cx="93.21" cy="643.85" r="0.50" fill="#111"/>
<circle cx="90.83" cy="640.63" r="0.50" fill="#111"/>
<circle cx="90.31" cy="642.36" r="0.50" fill="#111"/>
<circle cx="94.53" cy="643.15" r="0.50" fill="#111"/>
<circle cx="87.53" cy="639.52" r="0.50" fill="#111"/>
<circle cx="89.21" cy="640.87" r="0.50" fill="#111"/>
<circle cx="85.66" cy="642.24" r="0.50" fill="#111"/>
<circle cx="88.64" cy="642.73" r="0.50" fill="#111"/>
<circle cx="93.51" cy="641.59" r="0.50" fill="#111"/>
<circle cx="102.16" cy="641.79" r="0.50" fill="#111"/>
<circle cx="96.29" cy="642.77" r="0.50" fill="#111"/>
<circle cx="96.36" cy="637.27" r="0.50" fill="#111"/>
<circle cx="87.39" cy="643.04" r="0.50" fill="#111"/>
<circle cx="93.89" cy="647.64" r="0.50" fill="#111"/>
<circle cx="92.55" cy="645.32" r="0.50" fill="#111"/>
<circle cx="94.68" cy="644.58" r="0.50" fill="#111"/>
<circle cx="93.45" cy="642.16" r="0.50" fill="#111"/>
<circle cx="93.44" cy="640.13" r="0.50" fill="#111"/>
<circle cx="96.67" cy="640.26" r="0.50" fill="#111"/>
<circle cx="92.20" cy="647.17" r="0.50" fill="#111"/>
<circle cx="89.93" cy="642.54" r="0.50" fill="#111"/>
<circle cx="96.58" cy="642.56" r="0.50" fill="#111"/>
<circle cx="87.12" cy="643.07" r="0.50" fill="#111"/>
<circle cx="93.79" cy="644.06" r="0.50" fill="#111"/>
<circle cx="87.29" cy="646.36" r="0.50" fill="#111"/>
<circle cx="99.00" cy="642.54" r="0.50" fill="#111"/>
<circle cx="92.29" cy="641.56" r="0.50" fill="#111"/>
<circle cx="97.79" cy="640.95" r="0.50" fill="#111"/>
<circle cx="94.24" cy="641.44" r="0.50" fill="#111"/>
<circle cx="87.67" cy="644.08" r="0.50" fill="#111"/>
<circle cx="97.40" cy="642.48" r="0.50" fill="#111"/>
<circle cx="87.75" cy="644.29" r="0.50" fill="#111"/>
<circle cx="90.76" cy="643.18" r="0.50" fill="#111"/>
<circle cx="98.31" cy="644.99" r="0.50" fill="#111"/>
<circle cx="88.50" cy="647.52" r="0.50" fill="#111"/>
<circle cx="91.02" cy="644.23" r="0.50" fill="#111"/>
<circle cx="87.89" cy="642.40" r="0.50" fill="#111"/>
<circle cx="82.60" cy="646.43" r="0.50" fill="#111"/>
<circle cx="97.56" cy="639.83" r="0.50" fill="#111"/>
<circle cx="83.78" cy="638.93" r="0.50" fill="#111"/>
<circle cx="96.64" cy="641.49" r="0.50" fill="#111"/>
<circle cx="90.71" cy="641.81" r="0.50" fill="#111"/>
<circle cx="90.42" cy="640.11" r="0.50" fill="#111"/>
<circle cx="91.12" cy="639.34" r="0.50" fill="#111"/>
<circle cx="90.66" cy="643.18" r="0.50" fill="#111"/>
<circle cx="93.24" cy="641.99" r="0.50" fill="#111"/>
<circle cx="86.66" cy="642.85" r="0.50" fill="#111"/>
<circle cx="88.67" cy="645.94" r="0.50" fill="#111"/>
<circle cx="94.69" cy="642.25" r="0.50" fill="#111"/>
<circle cx="88.74" cy="640.95" r="0.50" fill="#111"/>
<circle cx="86.50" cy="641.72" r="0.50" fill="#111"/>
<circle cx="92.41" cy="643.63" r="0.50" fill="#111"/>
<circle cx="93.73" cy="647.12" r="0.50" fill="#111"/>
<circle cx="87.62" cy="642.53" r="0.50" fill="#111"/>
<circle cx="104.41" cy="638.39" r="0.50" fill="#111"/>
<circle cx="88.50" cy="642.87" r="0.50" fill="#111"/>
<circle cx="91.74" cy="643.40" r="0.50" fill="#111"/>
<circle cx="89.85" cy="643.31" r="0.50" fill="#111"/>
<circle cx="91.25" cy="644.20" r="0.50" fill="#111"/>
<circle cx="81.92" cy="640.55" r="0.50" fill="#111"/>
<circle cx="90.99" cy="640.23" r="0.50" fill="#111"/>
<circle cx="85.99" cy="643.88" r="0.50" fill="#111"/>
<circle cx="87.88" cy="643.90" r="0.50" fill="#111"/>
<circle cx="94.58" cy="643.17" r="0.50" fill="#111"/>
<circle cx="93.44" cy="642.27" r="0.50" fill="#111"/>
<circle cx="84.24" cy="642.43" r="0.50" fill="#111"/>
<circle cx="93.18" cy="641.34" r="0.50" fill="#111"/>
<circle cx="90.52" cy="644.15" r="0.50" fill="#111"/>
<circle cx="86.79" cy="643.91" r="0.50" fill="#111"/>
<circle cx="99.94" cy="641.28" r="0.50" fill="#111"/>
<circle cx="91.70" cy="642.17" r="0.50" fill="#111"/>
<circle cx="98.39" cy="643.20" r="0.50" fill="#111"/>
<circle cx="95.31" cy="640.98" r="0.50" fill="#111"/>
<circle cx="90.92" cy="642.48" r="0.50" fill="#111"/>
<circle cx="82.48" cy="645.67" r="0.50" fill="#111"/>
<circle cx="95.32" cy="638.65" r="0.50" fill="#111"/>
<circle cx="94.57" cy="642.21" r="0.50" fill="#111"/>
<circle cx="93.15" cy="643.31" r="0.50" fill="#111"/>
<circle cx="83.80" cy="642.03" r="0.50" fill="#111"/>
<circle cx="98.16" cy="641.24" r="0.50" fill="#111"/>
<circle cx="86.09" cy="639.51" r="0.50" fill="#111"/>
<circle cx="85.14" cy="643.24" r="0.50" fill="#111"/>
<circle cx="99.12" cy="643.44" r="0.50" fill="#111"/>
<circle cx="92.18" cy="647.41" r="0.50" fill="#111"/>
<circle cx="88.51" cy="641.02" r="0.50" fill="#111"/>
<circle cx="93.54" cy="643.71" r="0.50" fill="#111"/>
<circle cx="86.13" cy="639.93" r="0.50" fill="#111"/>
<circle cx="92.40" cy="643.04" r="0.50" fill="#111"/>
<circle cx="84.73" cy="642.06" r="0.50" fill="#111"/>
<circle cx="88.40" cy="643.51" r="0.50" fill="#111"/>
<circle cx="90.44" cy="642.31" r="0.50" fill="#111"/>
<circle cx="89.30" cy="644.82" r="0.50" fill="#111"/>
<circle cx="97.68" cy="641.69" r="0.50" fill="#111"/>
<circle cx="95.06" cy="640.83" r="0.50" fill="#111"/>
<circle cx="91.35" cy="644.15" r="0.50" fill="#111"/>
<circle cx="98.27" cy="641.66" r="0.50" fill="#111"/>
<circle cx="90.64" cy="642.93" r="0.50" fill="#111"/>
<circle cx="83.81" cy="642.53" r="0.50" fill="#111"/>
<circle cx="87.76" cy="643.32" r="0.50" fill="#111"/>
<circle cx="85.58" cy="638.15" r="0.50" fill="#111"/>
<circle cx="91.18" cy="643.07" r="0.50" fill="#111"/>
<circle cx="88.37" cy="644.46" r="0.50" fill="#111"/>
<circle cx="89.69" cy="641.17" r="0.50" fill="#111"/>
<circle cx="93.29" cy="639.05" r="0.50" fill="#111"/>
<circle cx="87.75" cy="642.45" r="0.50" fill="#111"/>
<circle cx="95.07" cy="642.14" r="0.50" fill="#111"/>
<circle cx="92.48" cy="641.06" r="0.50" fill="#111"/>
<circle cx="92.45" cy="646.16" r="0.50" fill="#111"/>
<circle cx="87.71" cy="647.71" r="0.50" fill="#111"/>
<circle cx="87.91" cy="642.54" r="0.50" fill="#111"/>
<circle cx="91.83" cy="644.75" r="0.50" fill="#111"/>
<circle cx="85.06" cy="637.88" r="0.50" fill="#111"/>
<circle cx="93.91" cy="644.25" r="0.50" fill="#111"/>
<circle cx="93.99" cy="648.29" r="0.50" fill="#111"/>
<circle cx="91.98" cy="643.06" r="0.50" fill="#111"/>
<circle cx="95.46" cy="643.31" r="0.50" fill="#111"/>
<circle cx="98.99" cy="639.78" r="0.50" fill="#111"/>
<circle cx="89.20" cy="634.92" r="0.50" fill="#111"/>
<circle cx="94.90" cy="641.68" r="0.50" fill="#111"/>
<circle cx="95.44" cy="647.24" r="0.50" fill="#111"/>
<circle cx="90.97" cy="641.94" r="0.50" fill="#111"/>
<circle cx="88.60" cy="640.66" r="0.50" fill="#111"/>
<circle cx="87.97" cy="643.91" r="0.50" fill="#111"/>
<circle cx="91.18" cy="642.65" r="0.50" fill="#111"/>
<circle cx="90.17" cy="644.51" r="0.50" fill="#111"/>
<circle cx="93.37" cy="642.19" r="0.50" fill="#111"/>
<circle cx="94.19" cy="642.17" r="0.50" fill="#111"/>
<circle cx="85.47" cy="645.70" r="0.50" fill="#111"/>
<circle cx="93.23" cy="640.39" r="0.50" fill="#111"/>
<circle cx="96.18" cy="643.26" r="0.50" fill="#111"/>
<circle cx="83.49" cy="646.04" r="0.50" fill="#111"/>
<circle cx="92.60" cy="644.46" r="0.50" fill="#111"/>
<circle cx="91.95" cy="642.17" r="0.50" fill="#111"/>
<circle cx="83.57" cy="644.64" r="0.50" fill="#111"/>
<circle cx="91.14" cy="641.87" r="0.50" fill="#111"/>
<circle cx="92.68" cy="642.67" r="0.50" fill="#111"/>
<circle cx="94.24" cy="641.68" r="0.50" fill="#111"/>
<circle cx="90.82" cy="637.79" r="0.50" fill="#111"/>
<circle cx="88.97" cy="643.99" r="0.50" fill="#111"/>
<circle cx="97.42" cy="641.70" r="0.50" fill="#111"/>
<circle cx="90.42" cy="645.98" r="0.50" fill="#111"/>
<circle cx="89.44" cy="644.11" r="0.50" fill="#111"/>
<circle cx="99.06" cy="642.59" r="0.50" fill="#111"/>
<circle cx="96.89" cy="640.94" r="0.50" fill="#111"/>
<circle cx="92.00" cy="642.33" r="0.50" fill="#111"/>
<circle cx="91.55" cy="644.99" r="0.50" fill="#111"/>
<circle cx="102.47" cy="641.04" r="0.50" fill="#111"/>
<circle cx="88.24" cy="643.59" r="0.50" fill="#111"/>
<circle cx="85.94" cy="643.59" r="0.50" fill="#111"/>
<circle cx="93.75" cy="641.89" r="0.50" fill="#111"/>
<circle cx="93.55" cy="639.09" r="0.50" fill="#111"/>
<circle cx="94.65" cy="639.10" r="0.50" fill="#111"/>
<circle cx="87.66" cy="641.28" r="0.50" fill="#111"/>
<circle cx="89.07" cy="644.39" r="0.50" fill="#111"/>
<circle cx="91.39" cy="641.63" r="0.50" fill="#111"/>
<circle cx="93.61" cy="645.98" r="0.50" fill="#111"/>
<circle cx="91.03" cy="643.30" r="0.50" fill="#111"/>
<circle cx="96.95" cy="643.09" r="0.50" fill="#111"/>
<circle cx="84.84" cy="647.98" r="0.50" fill="#111"/>
<circle cx="101.60" cy="638.13" r="0.50" fill="#111"/>
<circle cx="90.81" cy="643.42" r="0.50" fill="#111"/>
<circle cx="95.64" cy="643.97" r="0.50" fill="#111"/>
<circle cx="89.69" cy="640.18" r="0.50" fill="#111"/>
<circle cx="91.49" cy="644.77" r="0.50" fill="#111"/>
<circle cx="85.77" cy="640.24" r="0.50" fill="#111"/>
<circle cx="90.88" cy="638.24" r="0.50" fill="#111"/>
<circle cx="89.75" cy="641.54" r="0.50" fill="#111"/>
<circle cx="93.16" cy="640.96" r="0.50" fill="#111"/>
<circle cx="86.77" cy="641.63" r="0.50" fill="#111"/>
<circle cx="90.76" cy="641.04" r="0.50" fill="#111"/>
<circle cx="91.06" cy="644.15" r="0.50" fill="#111"/>
<circle cx="90.93" cy="647.26" r="0.42" fill="#111"/>
<circle cx="81.08" cy="641.95" r="0.42" fill="#111"/>
<circle cx="81.38" cy="642.92" r="0.42" fill="#111"/>
<circle cx="87.61" cy="639.60" r="0.42" fill="#111"/>
<circle cx="87.32" cy="642.93" r="0.42" fill="#111"/>
<circle cx="90.97" cy="638.33" r="0.42" fill="#111"/>
<circle cx="89.04" cy="643.52" r="0.42" fill="#111"/>
<circle cx="87.37" cy="644.10" r="0.42" fill="#111"/>
<circle cx="91.52" cy="642.44" r="0.42" fill="#111"/>
<circle cx="89.37" cy="641.98" r="0.42" fill="#111"/>
<circle cx="88.64" cy="640.97" r="0.42" fill="#111"/>
<circle cx="84.46" cy="647.33" r="0.42" fill="#111"/>
<circle cx="87.23" cy="642.60" r="0.42" fill="#111"/>
<circle cx="79.28" cy="641.02" r="0.42" fill="#111"/>
<circle cx="85.97" cy="645.35" r="0.42" fill="#111"/>
<circle cx="87.13" cy="644.31" r="0.42" fill="#111"/>
<circle cx="84.79" cy="646.38" r="0.42" fill="#111"/>
<circle cx="83.05" cy="641.63" r="0.42" fill="#111"/>
<circle cx="89.44" cy="643.16" r="0.42" fill="#111"/>
<circle cx="83.61" cy="641.56" r="0.42" fill="#111"/>
<circle cx="83.72" cy="644.56" r="0.42" fill="#111"/>
<circle cx="86.77" cy="639.98" r="0.42" fill="#111"/>
<circle cx="87.13" cy="643.45" r="0.42" fill="#111"/>
<circle cx="80.00" cy="644.93" r="0.42" fill="#111"/>
<circle cx="83.60" cy="642.16" r="0.42" fill="#111"/>
<circle cx="88.98" cy="646.30" r="0.42" fill="#111"/>
<circle cx="81.56" cy="644.10" r="0.42" fill="#111"/>
<circle cx="80.62" cy="648.79" r="0.42" fill="#111"/>
<circle cx="82.53" cy="645.99" r="0.42" fill="#111"/>
<circle cx="81.76" cy="645.03" r="0.42" fill="#111"/>
<circle cx="96.09" cy="636.65" r="0.42" fill="#111"/>
<circle cx="82.83" cy="644.25" r="0.42" fill="#111"/>
<circle cx="84.54" cy="641.33" r="0.42" fill="#111"/>
<circle cx="95.76" cy="643.20" r="0.42" fill="#111"/>
<circle cx="82.11" cy="643.36" r="0.42" fill="#111"/>
<circle cx="91.30" cy="643.29" r="0.42" fill="#111"/>
<circle cx="78.04" cy="638.76" r="0.42" fill="#111"/>
<circle cx="90.91" cy="644.85" r="0.42" fill="#111"/>
<circle cx="80.92" cy="645.15" r="0.42" fill="#111"/>
<circle cx="87.48" cy="644.62" r="0.42" fill="#111"/>
<circle cx="89.50" cy="644.83" r="0.42" fill="#111"/>
<circle cx="89.41" cy="636.86" r="0.42" fill="#111"/>
<circle cx="85.85" cy="644.23" r="0.42" fill="#111"/>
<circle cx="97.76" cy="640.62" r="0.42" fill="#111"/>
<circle cx="83.35" cy="643.09" r="0.42" fill="#111"/>
<circle cx="89.43" cy="641.89" r="0.42" fill="#111"/>
<circle cx="90.74" cy="641.03" r="0.42" fill="#111"/>
<circle cx="86.33" cy="641.68" r="0.42" fill="#111"/>
<circle cx="85.79" cy="641.27" r="0.42" fill="#111"/>
<circle cx="86.52" cy="641.60" r="0.42" fill="#111"/>
<circle cx="86.00" cy="645.48" r="0.42" fill="#111"/>
<circle cx="80.11" cy="642.72" r="0.42" fill="#111"/>
<circle cx="87.70" cy="644.32" r="0.42" fill="#111"/>
<circle cx="83.32" cy="637.73" r="0.42" fill="#111"/>
<circle cx="91.21" cy="643.82" r="0.42" fill="#111"/>
<circle cx="85.07" cy="642.30" r="0.42" fill="#111"/>
<circle cx="86.32" cy="641.94" r="0.42" fill="#111"/>
<circle cx="79.88" cy="641.15" r="0.42" fill="#111"/>
<circle cx="82.02" cy="641.47" r="0.42" fill="#111"/>
<circle cx="79.21" cy="644.59" r="0.42" fill="#111"/>
<circle cx="78.45" cy="644.65" r="0.42" fill="#111"/>
<circle cx="79.93" cy="643.88" r="0.42" fill="#111"/>
<circle cx="91.87" cy="643.51" r="0.42" fill="#111"/>
<circle cx="81.35" cy="643.12" r="0.42" fill="#111"/>
<circle cx="85.74" cy="638.67" r="0.42" fill="#111"/>
<circle cx="81.96" cy="643.41" r="0.42" fill="#111"/>
<circle cx="82.65" cy="643.20" r="0.42" fill="#111"/>
<circle cx="88.67" cy="644.92" r="0.42" fill="#111"/>
<circle cx="89.53" cy="644.47" r="0.42" fill="#111"/>
<circle cx="83.56" cy="642.95" r="0.42" fill="#111"/>
<circle cx="83.64" cy="642.22" r="0.42" fill="#111"/>
<circle cx="84.10" cy="638.69" r="0.42" fill="#111"/>
<circle cx="83.33" cy="642.94" r="0.42" fill="#111"/>
<circle cx="80.13" cy="642.94" r="0.42" fill="#111"/>
<circle cx="87.58" cy="642.59" r="0.42" fill="#111"/>
<circle cx="95.38" cy="636.48" r="0.42" fill="#111"/>
<circle cx="83.97" cy="638.44" r="0.42" fill="#111"/>
<circle cx="89.90" cy="649.64" r="0.42" fill="#111"/>
<circle cx="87.60" cy="642.24" r="0.42" fill="#111"/>
<circle cx="87.76" cy="637.39" r="0.42" fill="#111"/>
<circle cx="89.26" cy="643.93" r="0.42" fill="#111"/>
<circle cx="85.11" cy="641.53" r="0.42" fill="#111"/>
<circle cx="88.19" cy="641.79" r="0.42" fill="#111"/>
<circle cx="98.78" cy="641.97" r="0.40" fill="#111"/>
<circle cx="79.03" cy="643.41" r="0.40" fill="#111"/>
<circle cx="98.62" cy="645.76" r="0.40" fill="#111"/>
<circle cx="89.99" cy="643.40" r="0.40" fill="#111"/>
<circle cx="101.94" cy="643.94" r="0.40" fill="#111"/>
<circle cx="106.94" cy="649.47" r="0.40" fill="#111"/>
<circle cx="89.73" cy="637.74" r="0.40" fill="#111"/>
<circle cx="103.85" cy="648.09" r="0.40" fill="#111"/>
<circle cx="104.38" cy="645.94" r="0.40" fill="#111"/>
<circle cx="92.05" cy="641.36" r="0.40" fill="#111"/>
<circle cx="104.11" cy="640.77" r="0.40" fill="#111"/>
<circle cx="82.49" cy="640.51" r="0.40" fill="#111"/>
<circle cx="116.94" cy="649.27" r="0.40" fill="#111"/>
<circle cx="91.51" cy="641.31" r="0.40" fill="#111"/>
<circle cx="98.85" cy="641.25" r="0.40" fill="#111"/>
<circle cx="107.48" cy="643.27" r="0.40" fill="#111"/>
<circle cx="88.31" cy="647.43" r="0.40" fill="#111"/>
<circle cx="92.33" cy="644.16" r="0.40" fill="#111"/>
<circle cx="96.90" cy="642.56" r="0.40" fill="#111"/>
<circle cx="99.60" cy="641.42" r="0.40" fill="#111"/>
<circle cx="82.24" cy="636.88" r="0.40" fill="#111"/>
<circle cx="86.87" cy="641.22" r="0.40" fill="#111"/>
<circle cx="96.82" cy="643.67" r="0.40" fill="#111"/>
<circle cx="101.45" cy="643.86" r="0.40" fill="#111"/>
<circle cx="90.65" cy="641.37" r="0.40" fill="#111"/>
<circle cx="80.05" cy="642.99" r="0.40" fill="#111"/>
<circle cx="100.88" cy="645.09" r="0.40" fill="#111"/>
<circle cx="96.03" cy="642.98" r="0.40" fill="#111"/>
<circle cx="104.49" cy="643.55" r="0.40" fill="#111"/>
<circle cx="102.90" cy="645.25" r="0.40" fill="#111"/>
<circle cx="98.71" cy="647.42" r="0.40" fill="#111"/>
<circle cx="92.42" cy="642.42" r="0.40" fill="#111"/>
<circle cx="90.54" cy="641.11" r="0.40" fill="#111"/>
<circle cx="109.45" cy="648.78" r="0.40" fill="#111"/>
<circle cx="97.18" cy="645.20" r="0.40" fill="#111"/>
<circle cx="106.40" cy="645.92" r="0.40" fill="#111"/>
<circle cx="106.64" cy="639.71" r="0.40" fill="#111"/>
<circle cx="91.88" cy="644.86" r="0.40" fill="#111"/>
<circle cx="108.48" cy="643.81" r="0.40" fill="#111"/>
<circle cx="90.13" cy="642.44" r="0.40" fill="#111"/>
<circle cx="91.72" cy="640.93" r="0.40" fill="#111"/>
<circle cx="109.01" cy="641.62" r="0.40" fill="#111"/>
<circle cx="97.16" cy="649.99" r="0.40" fill="#111"/>
<circle cx="106.48" cy="644.51" r="0.40" fill="#111"/>
<circle cx="92.10" cy="644.73" r="0.40" fill="#111"/>
<circle cx="109.97" cy="645.37" r="0.40" fill="#111"/>
<circle cx="107.09" cy="643.79" r="0.40" fill="#111"/>
<circle cx="101.13" cy="642.90" r="0.40" fill="#111"/>
<circle cx="100.42" cy="647.40" r="0.40" fill="#111"/>
<circle cx="85.55" cy="643.31" r="0.40" fill="#111"/>
<circle cx="98.92" cy="641.79" r="0.40" fill="#111"/>
<circle cx="94.54" cy="645.86" r="0.40" fill="#111"/>
<circle cx="113.01" cy="645.39" r="0.40" fill="#111"/>
<circle cx="99.61" cy="638.85" r="0.40" fill="#111"/>
<circle cx="112.42" cy="643.73" r="0.40" fill="#111"/>
<circle cx="96.73" cy="640.14" r="0.40" fill="#111"/>
<circle cx="96.55" cy="640.21" r="0.40" fill="#111"/>
<circle cx="97.57" cy="644.90" r="0.40" fill="#111"/>
<circle cx="97.25" cy="644.34" r="0.40" fill="#111"/>
<circle cx="90.19" cy="647.79" r="0.40" fill="#111"/>
<circle cx="91.77" cy="638.05" r="0.40" fill="#111"/>
<circle cx="95.50" cy="641.21" r="0.40" fill="#111"/>
<circle cx="88.92" cy="642.44" r="0.40" fill="#111"/>
<circle cx="99.33" cy="639.95" r="0.40" fill="#111"/>
<circle cx="95.90" cy="647.78" r="0.40" fill="#111"/>
<circle cx="102.46" cy="643.04" r="0.40" fill="#111"/>
<circle cx="98.02" cy="643.14" r="0.40" fill="#111"/>
<circle cx="96.62" cy="645.70" r="0.40" fill="#111"/>
<circle cx="96.26" cy="636.29" r="0.40" fill="#111"/>
<circle cx="96.83" cy="640.83" r="0.40" fill="#111"/>
<circle cx="102.21" cy="641.67" r="0.40" fill="#111"/>
<circle cx="98.19" cy="650.03" r="0.40" fill="#111"/>
<circle cx="88.62" cy="640.13" r="0.40" fill="#111"/>
<circle cx="85.71" cy="636.32" r="0.40" fill="#111"/>
<circle cx="81.97" cy="644.59" r="0.40" fill="#111"/>
<circle cx="91.90" cy="637.90" r="0.40" fill="#111"/>
<circle cx="85.14" cy="645.35" r="0.40" fill="#111"/>
<circle cx="90.80" cy="642.40" r="0.40" fill="#111"/>
<circle cx="99.64" cy="647.57" r="0.40" fill="#111"/>
<circle cx="112.53" cy="646.60" r="0.40" fill="#111"/>
<circle cx="98.15" cy="644.05" r="0.40" fill="#111"/>
<circle cx="111.42" cy="647.79" r="0.40" fill="#111"/>
<circle cx="94.52" cy="644.87" r="0.40" fill="#111"/>
<circle cx="99.30" cy="643.66" r="0.40" fill="#111"/>
<circle cx="93.00" cy="639.52" r="0.40" fill="#111"/>
<circle cx="92.73" cy="638.87" r="0.40" fill="#111"/>
<circle cx="106.79" cy="645.11" r="0.40" fill="#111"/>
<circle cx="87.35" cy="647.69" r="0.40" fill="#111"/>
<circle cx="104.13" cy="637.77" r="0.40" fill="#111"/>
<circle cx="111.73" cy="645.93" r="0.40" fill="#111"/>
<circle cx="113.51" cy="639.81" r="0.40" fill="#111"/>
<circle cx="101.25" cy="644.77" r="0.40" fill="#111"/>
<circle cx="98.61" cy="644.01" r="0.40" fill="#111"/>
<circle cx="105.43" cy="639.02" r="0.40" fill="#111"/>
<circle cx="87.06" cy="639.32" r="0.40" fill="#111"/>
<circle cx="92.54" cy="641.68" r="0.40" fill="#111"/>
<circle cx="99.94" cy="644.30" r="0.40" fill="#111"/>
<circle cx="97.25" cy="641.47" r="0.40" fill="#111"/>
<circle cx="93.46" cy="646.36" r="0.40" fill="#111"/>
<circle cx="103.11" cy="643.80" r="0.40" fill="#111"/>
<circle cx="94.42" cy="648.16" r="0.40" fill="#111"/>
<circle cx="92.25" cy="645.45" r="0.40" fill="#111"/>
<circle cx="106.23" cy="642.70" r="0.40" fill="#111"/>
<circle cx="103.60" cy="640.15" r="0.40" fill="#111"/>
<circle cx="105.10" cy="644.10" r="0.40" fill="#111"/>
<circle cx="84.31" cy="645.51" r="0.40" fill="#111"/>
<circle cx="89.86" cy="647.35" r="0.40" fill="#111"/>
<circle cx="91.57" cy="643.01" r="0.40" fill="#111"/>
<circle cx="99.26" cy="642.50" r="0.40" fill="#111"/>
<circle cx="99.08" cy="641.84" r="0.40" fill="#111"/>
<circle cx="102.37" cy="643.52" r="0.40" fill="#111"/>
<circle cx="98.69" cy="635.24" r="0.40" fill="#111"/>
<circle cx="106.29" cy="643.60" r="0.40" fill="#111"/>
<circle cx="82.74" cy="643.79" r="0.40" fill="#111"/>
<circle cx="100.74" cy="646.71" r="0.40" fill="#111"/>
<circle cx="88.34" cy="648.14" r="0.40" fill="#111"/>
<circle cx="95.73" cy="650.68" r="0.40" fill="#111"/>
<circle cx="95.83" cy="645.54" r="0.40" fill="#111"/>
<circle cx="94.07" cy="640.15" r="0.40" fill="#111"/>
<circle cx="105.77" cy="646.22" r="0.40" fill="#111"/>
<circle cx="120.77" cy="646.89" r="0.42" fill="#111"/>
<circle cx="105.99" cy="641.34" r="0.42" fill="#111"/>
<circle cx="105.45" cy="643.51" r="0.42" fill="#111"/>
<circle cx="104.29" cy="646.28" r="0.42" fill="#111"/>
<circle cx="112.29" cy="644.41" r="0.42" fill="#111"/>
<circle cx="111.21" cy="644.68" r="0.42" fill="#111"/>
<circle cx="111.49" cy="646.65" r="0.42" fill="#111"/>
<circle cx="116.72" cy="643.49" r="0.42" fill="#111"/>
<circle cx="99.45" cy="648.14" r="0.42" fill="#111"/>
<circle cx="110.80" cy="647.43" r="0.42" fill="#111"/>
<circle cx="98.50" cy="644.27" r="0.42" fill="#111"/>
<circle cx="110.19" cy="641.83" r="0.42" fill="#111"/>
<circle cx="106.39" cy="646.59" r="0.42" fill="#111"/>
<circle cx="117.55" cy="648.51" r="0.42" fill="#111"/>
<circle cx="103.95" cy="641.92" r="0.42" fill="#111"/>
<circle cx="113.64" cy="647.07" r="0.42" fill="#111"/>
<circle cx="111.35" cy="642.14" r="0.42" fill="#111"/>
<circle cx="115.47" cy="646.74" r="0.42" fill="#111"/>
<circle cx="113.87" cy="643.93" r="0.42" fill="#111"/>
<circle cx="112.13" cy="646.74" r="0.42" fill="#111"/>
<circle cx="106.09" cy="640.94" r="0.42" fill="#111"/>
<circle cx="112.30" cy="646.06" r="0.42" fill="#111"/>
<circle cx="110.09" cy="646.96" r="0.42" fill="#111"/>
<circle cx="105.89" cy="644.82" r="0.42" fill="#111"/>
<circle cx="107.86" cy="646.26" r="0.42" fill="#111"/>
<circle cx="121.17" cy="644.45" r="0.42" fill="#111"/>
<circle cx="124.38" cy="648.36" r="0.42" fill="#111"/>
<circle cx="115.53" cy="646.29" r="0.42" fill="#111"/>
<circle cx="122.40" cy="644.60" r="0.42" fill="#111"/>
<circle cx="109.22" cy="642.66" r="0.42" fill="#111"/>
<circle cx="113.31" cy="647.96" r="0.42" fill="#111"/>
<circle cx="113.73" cy="645.93" r="0.42" fill="#111"/>
<circle cx="108.60" cy="645.37" r="0.42" fill="#111"/>
<circle cx="100.02" cy="647.31" r="0.42" fill="#111"/>
<circle cx="107.13" cy="642.57" r="0.42" fill="#111"/>
<circle cx="104.74" cy="643.19" r="0.42" fill="#111"/>
<circle cx="115.99" cy="647.33" r="0.42" fill="#111"/>
<circle cx="100.50" cy="647.04" r="0.42" fill="#111"/>
<circle cx="116.22" cy="643.73" r="0.42" fill="#111"/>
<circle cx="99.59" cy="643.36" r="0.42" fill="#111"/>
<circle cx="105.56" cy="645.75" r="0.42" fill="#111"/>
<circle cx="107.50" cy="640.54" r="0.42" fill="#111"/>
<circle cx="111.64" cy="641.62" r="0.42" fill="#111"/>
<circle cx="116.34" cy="642.34" r="0.42" fill="#111"/>
<circle cx="105.15" cy="643.12" r="0.42" fill="#111"/>
<circle cx="106.20" cy="647.86" r="0.42" fill="#111"/>
<circle cx="115.96" cy="646.32" r="0.42" fill="#111"/>
<circle cx="112.24" cy="641.59" r="0.42" fill="#111"/>
<circle cx="106.36" cy="643.79" r="0.42" fill="#111"/>
<circle cx="103.16" cy="646.12" r="0.42" fill="#111"/>
<circle cx="104.81" cy="643.44" r="0.42" fill="#111"/>
<circle cx="102.69" cy="640.47" r="0.42" fill="#111"/>
<circle cx="114.17" cy="647.93" r="0.42" fill="#111"/>
<circle cx="111.22" cy="642.85" r="0.42" fill="#111"/>
<circle cx="91.06" cy="645.38" r="0.42" fill="#111"/>
<circle cx="118.51" cy="645.65" r="0.42" fill="#111"/>
<circle cx="116.49" cy="648.25" r="0.42" fill="#111"/>
<circle cx="117.89" cy="644.03" r="0.42" fill="#111"/>
<circle cx="117.37" cy="646.71" r="0.42" fill="#111"/>
<circle cx="99.24" cy="644.11" r="0.42" fill="#111"/>
<circle cx="100.03" cy="644.76" r="0.42" fill="#111"/>
<circle cx="114.05" cy="642.65" r="0.42" fill="#111"/>
<circle cx="95.61" cy="647.86" r="0.42" fill="#111"/>
<circle cx="112.64" cy="648.24" r="0.42" fill="#111"/>
<circle cx="100.73" cy="647.33" r="0.42" fill="#111"/>
<circle cx="124.52" cy="649.42" r="0.42" fill="#111"/>
<circle cx="108.53" cy="645.59" r="0.42" fill="#111"/>
<circle cx="108.92" cy="647.20" r="0.42" fill="#111"/>
<circle cx="117.26" cy="645.19" r="0.42" fill="#111"/>
<circle cx="100.49" cy="646.63" r="0.42" fill="#111"/>
<circle cx="106.71" cy="646.38" r="0.42" fill="#111"/>
<circle cx="111.84" cy="648.57" r="0.42" fill="#111"/>
<circle cx="117.96" cy="644.01" r="0.42" fill="#111"/>
<circle cx="112.44" cy="648.88" r="0.42" fill="#111"/>
<circle cx="106.24" cy="645.95" r="0.42" fill="#111"/>
<circle cx="118.34" cy="647.77" r="0.42" fill="#111"/>
<circle cx="113.63" cy="642.10" r="0.42" fill="#111"/>
<circle cx="101.17" cy="645.54" r="0.42" fill="#111"/>
<circle cx="112.71" cy="650.60" r="0.42" fill="#111"/>
<circle cx="103.97" cy="647.50" r="0.42" fill="#111"/>
<circle cx="115.39" cy="641.32" r="0.42" fill="#111"/>
<circle cx="104.27" cy="645.37" r="0.42" fill="#111"/>
<circle cx="106.55" cy="644.66" r="0.42" fill="#111"/>
<circle cx="113.29" cy="643.22" r="0.42" fill="#111"/>
<circle cx="113.26" cy="643.60" r="0.42" fill="#111"/>
<circle cx="106.19" cy="646.18" r="0.42" fill="#111"/>
<circle cx="105.99" cy="645.63" r="0.42" fill="#111"/>
<circle cx="121.20" cy="645.06" r="0.42" fill="#111"/>
<circle cx="108.98" cy="646.62" r="0.42" fill="#111"/>
<circle cx="107.44" cy="647.38" r="0.42" fill="#111"/>
<circle cx="101.02" cy="646.36" r="0.42" fill="#111"/>
<circle cx="106.42" cy="643.24" r="0.42" fill="#111"/>
<circle cx="122.39" cy="643.13" r="0.42" fill="#111"/>
<circle cx="122.30" cy="646.45" r="0.42" fill="#111"/>
<circle cx="120.17" cy="642.85" r="0.42" fill="#111"/>
<circle cx="118.39" cy="648.20" r="0.42" fill="#111"/>
<circle cx="109.19" cy="644.72" r="0.42" fill="#111"/>
<circle cx="127.19" cy="645.39" r="0.42" fill="#111"/>
<circle cx="107.04" cy="643.61" r="0.42" fill="#111"/>
<circle cx="113.12" cy="645.73" r="0.42" fill="#111"/>
<circle cx="120.71" cy="648.60" r="0.40" fill="#111"/>
<circle cx="118.69" cy="646.35" r="0.40" fill="#111"/>
<circle cx="125.84" cy="643.69" r="0.40" fill="#111"/>
<circle cx="124.15" cy="648.80" r="0.40" fill="#111"/>
<circle cx="114.58" cy="643.52" r="0.40" fill="#111"/>
<circle cx="115.85" cy="642.18" r="0.40" fill="#111"/>
<circle cx="121.81" cy="642.16" r="0.40" fill="#111"/>
<circle cx="122.00" cy="648.12" r="0.40" fill="#111"/>
<circle cx="113.54" cy="644.93" r="0.40" fill="#111"/>
<circle cx="112.33" cy="646.90" r="0.40" fill="#111"/>
<circle cx="117.05" cy="645.02" r="0.40" fill="#111"/>
<circle cx="120.22" cy="646.48" r="0.40" fill="#111"/>
<circle cx="118.61" cy="645.53" r="0.40" fill="#111"/>
<circle cx="117.81" cy="645.71" r="0.40" fill="#111"/>
<circle cx="115.31" cy="645.61" r="0.40" fill="#111"/>
<circle cx="112.27" cy="644.62" r="0.40" fill="#111"/>
<circle cx="127.66" cy="645.64" r="0.40" fill="#111"/>
<circle cx="114.96" cy="645.96" r="0.40" fill="#111"/>
<circle cx="116.11" cy="642.53" r="0.40" fill="#111"/>
<circle cx="117.05" cy="646.83" r="0.40" fill="#111"/>
<circle cx="121.54" cy="645.33" r="0.40" fill="#111"/>
<circle cx="116.29" cy="643.56" r="0.40" fill="#111"/>
<circle cx="125.40" cy="645.94" r="0.40" fill="#111"/>
<circle cx="116.19" cy="641.70" r="0.40" fill="#111"/>
<circle cx="114.52" cy="649.96" r="0.40" fill="#111"/>
<circle cx="115.40" cy="645.36" r="0.40" fill="#111"/>
<circle cx="120.84" cy="645.22" r="0.40" fill="#111"/>
<circle cx="118.89" cy="643.03" r="0.40" fill="#111"/>
<circle cx="115.80" cy="648.54" r="0.40" fill="#111"/>
<circle cx="116.97" cy="647.02" r="0.40" fill="#111"/>
<circle cx="113.22" cy="645.01" r="0.40" fill="#111"/>
<circle cx="121.04" cy="647.37" r="0.40" fill="#111"/>
<circle cx="115.51" cy="646.57" r="0.40" fill="#111"/>
<circle cx="121.54" cy="644.17" r="0.40" fill="#111"/>
<circle cx="121.91" cy="643.88" r="0.40" fill="#111"/>
<circle cx="87.84" cy="649.97" r="0.40" fill="#111"/>
<circle cx="86.00" cy="647.81" r="0.40" fill="#111"/>
<circle cx="91.17" cy="651.14" r="0.40" fill="#111"/>
<circle cx="91.36" cy="651.90" r="0.40" fill="#111"/>
<circle cx="84.56" cy="648.03" r="0.40" fill="#111"/>
<circle cx="108.96" cy="650.60" r="0.40" fill="#111"/>
<circle cx="103.51" cy="648.76" r="0.40" fill="#111"/>
<circle cx="102.24" cy="650.39" r="0.40" fill="#111"/>
<circle cx="100.84" cy="650.04" r="0.40" fill="#111"/>
<circle cx="105.86" cy="649.03" r="0.40" fill="#111"/>
<circle cx="86.33" cy="647.78" r="0.40" fill="#111"/>
<circle cx="105.45" cy="648.89" r="0.40" fill="#111"/>
<circle cx="85.61" cy="648.59" r="0.40" fill="#111"/>
<circle cx="90.99" cy="648.09" r="0.40" fill="#111"/>
<circle cx="92.39" cy="649.06" r="0.40" fill="#111"/>
<circle cx="90.04" cy="648.56" r="0.40" fill="#111"/>
<circle cx="95.33" cy="649.31" r="0.40" fill="#111"/>
<circle cx="96.03" cy="650.37" r="0.40" fill="#111"/>
<circle cx="98.06" cy="646.72" r="0.40" fill="#111"/>
<circle cx="90.18" cy="648.81" r="0.40" fill="#111"/>
<circle cx="101.97" cy="647.63" r="0.40" fill="#111"/>
<circle cx="88.57" cy="649.56" r="0.40" fill="#111"/>
<circle cx="91.97" cy="651.49" r="0.40" fill="#111"/>
<circle cx="91.02" cy="651.45" r="0.40" fill="#111"/>
<circle cx="81.81" cy="647.28" r="0.40" fill="#111"/>
<circle cx="105.97" cy="650.65" r="0.40" fill="#111"/>
<circle cx="99.39" cy="650.18" r="0.40" fill="#111"/>
<circle cx="99.36" cy="648.18" r="0.40" fill="#111"/>
<circle cx="103.54" cy="649.20" r="0.40" fill="#111"/>
<text x="189.66" y="598.90" font-size="11.03" font-weight="700" textLength="55.19" lengthAdjust="spacingAndGlyphs" fill="#000">Control Ig/</text>
<text x="191.62" y="612.30" font-size="10.62" font-weight="700" textLength="47.79" lengthAdjust="spacingAndGlyphs" fill="#000">Anti-IFN-</text>
<text x="239.07" y="612.01" font-size="11.11" font-family="Liberation Serif" font-style="italic" textLength="4.49" lengthAdjust="spacingAndGlyphs">γ</text>
<text x="195.05" y="624.90" font-size="6.71" font-weight="400" textLength="27.97" lengthAdjust="spacingAndGlyphs" fill="#000">Data.048</text>
<rect x="178.70" y="627.80" width="74.40" height="62.70" fill="none" stroke="#555" stroke-width="1.10"/>
<line x1="178.70" y1="627.80" x2="178.70" y2="690.50" stroke="#111" stroke-width="1.40"/>
<line x1="178.70" y1="690.50" x2="253.10" y2="690.50" stroke="#111" stroke-width="1.40"/>
<line x1="205.40" y1="627.80" x2="205.40" y2="690.50" stroke="#8a8a8a" stroke-width="1.00"/>
<line x1="178.70" y1="654.70" x2="253.10" y2="654.70" stroke="#8a8a8a" stroke-width="1.00"/>
<line x1="176.30" y1="690.50" x2="178.70" y2="690.50" stroke="#111" stroke-width="1.00"/>
<line x1="178.70" y1="690.50" x2="178.70" y2="692.90" stroke="#111" stroke-width="1.00"/>
<line x1="177.20" y1="685.78" x2="178.70" y2="685.78" stroke="#111" stroke-width="1.00"/>
<line x1="184.30" y1="690.50" x2="184.30" y2="692.00" stroke="#111" stroke-width="1.00"/>
<line x1="177.20" y1="683.02" x2="178.70" y2="683.02" stroke="#111" stroke-width="1.00"/>
<line x1="187.57" y1="690.50" x2="187.57" y2="692.00" stroke="#111" stroke-width="1.00"/>
<line x1="177.20" y1="681.06" x2="178.70" y2="681.06" stroke="#111" stroke-width="1.00"/>
<line x1="189.90" y1="690.50" x2="189.90" y2="692.00" stroke="#111" stroke-width="1.00"/>
<line x1="177.20" y1="679.54" x2="178.70" y2="679.54" stroke="#111" stroke-width="1.00"/>
<line x1="191.70" y1="690.50" x2="191.70" y2="692.00" stroke="#111" stroke-width="1.00"/>
<line x1="177.20" y1="678.30" x2="178.70" y2="678.30" stroke="#111" stroke-width="1.00"/>
<line x1="193.17" y1="690.50" x2="193.17" y2="692.00" stroke="#111" stroke-width="1.00"/>
<line x1="177.20" y1="677.25" x2="178.70" y2="677.25" stroke="#111" stroke-width="1.00"/>
<line x1="194.42" y1="690.50" x2="194.42" y2="692.00" stroke="#111" stroke-width="1.00"/>
<line x1="177.20" y1="676.34" x2="178.70" y2="676.34" stroke="#111" stroke-width="1.00"/>
<line x1="195.50" y1="690.50" x2="195.50" y2="692.00" stroke="#111" stroke-width="1.00"/>
<line x1="177.20" y1="675.54" x2="178.70" y2="675.54" stroke="#111" stroke-width="1.00"/>
<line x1="196.45" y1="690.50" x2="196.45" y2="692.00" stroke="#111" stroke-width="1.00"/>
<line x1="176.30" y1="674.83" x2="178.70" y2="674.83" stroke="#111" stroke-width="1.00"/>
<line x1="197.30" y1="690.50" x2="197.30" y2="692.90" stroke="#111" stroke-width="1.00"/>
<line x1="177.20" y1="670.11" x2="178.70" y2="670.11" stroke="#111" stroke-width="1.00"/>
<line x1="202.90" y1="690.50" x2="202.90" y2="692.00" stroke="#111" stroke-width="1.00"/>
<line x1="177.20" y1="667.35" x2="178.70" y2="667.35" stroke="#111" stroke-width="1.00"/>
<line x1="206.17" y1="690.50" x2="206.17" y2="692.00" stroke="#111" stroke-width="1.00"/>
<line x1="177.20" y1="665.39" x2="178.70" y2="665.39" stroke="#111" stroke-width="1.00"/>
<line x1="208.50" y1="690.50" x2="208.50" y2="692.00" stroke="#111" stroke-width="1.00"/>
<line x1="177.20" y1="663.87" x2="178.70" y2="663.87" stroke="#111" stroke-width="1.00"/>
<line x1="210.30" y1="690.50" x2="210.30" y2="692.00" stroke="#111" stroke-width="1.00"/>
<line x1="177.20" y1="662.63" x2="178.70" y2="662.63" stroke="#111" stroke-width="1.00"/>
<line x1="211.77" y1="690.50" x2="211.77" y2="692.00" stroke="#111" stroke-width="1.00"/>
<line x1="177.20" y1="661.58" x2="178.70" y2="661.58" stroke="#111" stroke-width="1.00"/>
<line x1="213.02" y1="690.50" x2="213.02" y2="692.00" stroke="#111" stroke-width="1.00"/>
<line x1="177.20" y1="660.67" x2="178.70" y2="660.67" stroke="#111" stroke-width="1.00"/>
<line x1="214.10" y1="690.50" x2="214.10" y2="692.00" stroke="#111" stroke-width="1.00"/>
<line x1="177.20" y1="659.87" x2="178.70" y2="659.87" stroke="#111" stroke-width="1.00"/>
<line x1="215.05" y1="690.50" x2="215.05" y2="692.00" stroke="#111" stroke-width="1.00"/>
<line x1="176.30" y1="659.15" x2="178.70" y2="659.15" stroke="#111" stroke-width="1.00"/>
<line x1="215.90" y1="690.50" x2="215.90" y2="692.90" stroke="#111" stroke-width="1.00"/>
<line x1="177.20" y1="654.43" x2="178.70" y2="654.43" stroke="#111" stroke-width="1.00"/>
<line x1="221.50" y1="690.50" x2="221.50" y2="692.00" stroke="#111" stroke-width="1.00"/>
<line x1="177.20" y1="651.67" x2="178.70" y2="651.67" stroke="#111" stroke-width="1.00"/>
<line x1="224.77" y1="690.50" x2="224.77" y2="692.00" stroke="#111" stroke-width="1.00"/>
<line x1="177.20" y1="649.71" x2="178.70" y2="649.71" stroke="#111" stroke-width="1.00"/>
<line x1="227.10" y1="690.50" x2="227.10" y2="692.00" stroke="#111" stroke-width="1.00"/>
<line x1="177.20" y1="648.19" x2="178.70" y2="648.19" stroke="#111" stroke-width="1.00"/>
<line x1="228.90" y1="690.50" x2="228.90" y2="692.00" stroke="#111" stroke-width="1.00"/>
<line x1="177.20" y1="646.95" x2="178.70" y2="646.95" stroke="#111" stroke-width="1.00"/>
<line x1="230.37" y1="690.50" x2="230.37" y2="692.00" stroke="#111" stroke-width="1.00"/>
<line x1="177.20" y1="645.90" x2="178.70" y2="645.90" stroke="#111" stroke-width="1.00"/>
<line x1="231.62" y1="690.50" x2="231.62" y2="692.00" stroke="#111" stroke-width="1.00"/>
<line x1="177.20" y1="644.99" x2="178.70" y2="644.99" stroke="#111" stroke-width="1.00"/>
<line x1="232.70" y1="690.50" x2="232.70" y2="692.00" stroke="#111" stroke-width="1.00"/>
<line x1="177.20" y1="644.19" x2="178.70" y2="644.19" stroke="#111" stroke-width="1.00"/>
<line x1="233.65" y1="690.50" x2="233.65" y2="692.00" stroke="#111" stroke-width="1.00"/>
<line x1="176.30" y1="643.47" x2="178.70" y2="643.47" stroke="#111" stroke-width="1.00"/>
<line x1="234.50" y1="690.50" x2="234.50" y2="692.90" stroke="#111" stroke-width="1.00"/>
<line x1="177.20" y1="638.76" x2="178.70" y2="638.76" stroke="#111" stroke-width="1.00"/>
<line x1="240.10" y1="690.50" x2="240.10" y2="692.00" stroke="#111" stroke-width="1.00"/>
<line x1="177.20" y1="636.00" x2="178.70" y2="636.00" stroke="#111" stroke-width="1.00"/>
<line x1="243.37" y1="690.50" x2="243.37" y2="692.00" stroke="#111" stroke-width="1.00"/>
<line x1="177.20" y1="634.04" x2="178.70" y2="634.04" stroke="#111" stroke-width="1.00"/>
<line x1="245.70" y1="690.50" x2="245.70" y2="692.00" stroke="#111" stroke-width="1.00"/>
<line x1="177.20" y1="632.52" x2="178.70" y2="632.52" stroke="#111" stroke-width="1.00"/>
<line x1="247.50" y1="690.50" x2="247.50" y2="692.00" stroke="#111" stroke-width="1.00"/>
<line x1="177.20" y1="631.28" x2="178.70" y2="631.28" stroke="#111" stroke-width="1.00"/>
<line x1="248.97" y1="690.50" x2="248.97" y2="692.00" stroke="#111" stroke-width="1.00"/>
<line x1="177.20" y1="630.23" x2="178.70" y2="630.23" stroke="#111" stroke-width="1.00"/>
<line x1="250.22" y1="690.50" x2="250.22" y2="692.00" stroke="#111" stroke-width="1.00"/>
<line x1="177.20" y1="629.32" x2="178.70" y2="629.32" stroke="#111" stroke-width="1.00"/>
<line x1="251.30" y1="690.50" x2="251.30" y2="692.00" stroke="#111" stroke-width="1.00"/>
<line x1="177.20" y1="628.52" x2="178.70" y2="628.52" stroke="#111" stroke-width="1.00"/>
<line x1="252.25" y1="690.50" x2="252.25" y2="692.00" stroke="#111" stroke-width="1.00"/>
<line x1="176.30" y1="627.80" x2="178.70" y2="627.80" stroke="#111" stroke-width="0.80"/>
<line x1="253.10" y1="690.50" x2="253.10" y2="692.90" stroke="#111" stroke-width="0.80"/>
<g transform="translate(173.10,692.70) rotate(-90) scale(0.85,1)" fill="#000"><text x="0" y="0" font-size="7.4" text-anchor="middle">10</text><text x="5.3" y="-3.9" font-size="7.2">0</text></g>
<g transform="translate(173.10,677.03) rotate(-90) scale(0.85,1)" fill="#000"><text x="0" y="0" font-size="7.4" text-anchor="middle">10</text><text x="5.3" y="-3.9" font-size="7.2">1</text></g>
<g transform="translate(173.10,661.35) rotate(-90) scale(0.85,1)" fill="#000"><text x="0" y="0" font-size="7.4" text-anchor="middle">10</text><text x="5.3" y="-3.9" font-size="7.2">2</text></g>
<g transform="translate(173.10,645.67) rotate(-90) scale(0.85,1)" fill="#000"><text x="0" y="0" font-size="7.4" text-anchor="middle">10</text><text x="5.3" y="-3.9" font-size="7.2">3</text></g>
<g transform="translate(173.10,630.00) rotate(-90) scale(0.85,1)" fill="#000"><text x="0" y="0" font-size="7.4" text-anchor="middle">10</text><text x="5.3" y="-3.9" font-size="7.2">4</text></g>
<g transform="translate(164.10,659.95) rotate(-90)"><text x="0" y="0" font-size="7" text-anchor="middle" fill="#222">CY</text></g>
<g transform="translate(177.70,702.60) scale(0.78,1)" fill="#000"><text x="0" y="0" font-size="7.6" text-anchor="middle">10</text><text x="4.4" y="-3.9" font-size="7">0</text></g>
<g transform="translate(196.30,702.60) scale(0.78,1)" fill="#000"><text x="0" y="0" font-size="7.6" text-anchor="middle">10</text><text x="4.4" y="-3.9" font-size="7">1</text></g>
<g transform="translate(214.90,702.60) scale(0.78,1)" fill="#000"><text x="0" y="0" font-size="7.6" text-anchor="middle">10</text><text x="4.4" y="-3.9" font-size="7">2</text></g>
<g transform="translate(233.50,702.60) scale(0.78,1)" fill="#000"><text x="0" y="0" font-size="7.6" text-anchor="middle">10</text><text x="4.4" y="-3.9" font-size="7">3</text></g>
<g transform="translate(252.10,702.60) scale(0.78,1)" fill="#000"><text x="0" y="0" font-size="7.6" text-anchor="middle">10</text><text x="4.4" y="-3.9" font-size="7">4</text></g>
<text x="208.37" y="709.60" font-size="7.71" font-weight="400" textLength="14.81" lengthAdjust="spacingAndGlyphs" fill="#000">FITC</text>
<circle cx="198.03" cy="643.59" r="0.50" fill="#111"/>
<circle cx="184.42" cy="640.57" r="0.50" fill="#111"/>
<circle cx="198.69" cy="643.10" r="0.50" fill="#111"/>
<circle cx="191.68" cy="643.93" r="0.50" fill="#111"/>
<circle cx="191.54" cy="642.20" r="0.50" fill="#111"/>
<circle cx="193.97" cy="643.72" r="0.50" fill="#111"/>
<circle cx="200.48" cy="643.50" r="0.50" fill="#111"/>
<circle cx="202.15" cy="647.37" r="0.50" fill="#111"/>
<circle cx="201.40" cy="645.74" r="0.50" fill="#111"/>
<circle cx="194.10" cy="643.70" r="0.50" fill="#111"/>
<circle cx="192.84" cy="641.79" r="0.50" fill="#111"/>
<circle cx="193.19" cy="641.99" r="0.50" fill="#111"/>
<circle cx="201.04" cy="644.58" r="0.50" fill="#111"/>
<circle cx="191.45" cy="639.19" r="0.50" fill="#111"/>
<circle cx="193.25" cy="642.48" r="0.50" fill="#111"/>
<circle cx="188.51" cy="640.90" r="0.50" fill="#111"/>
<circle cx="183.15" cy="644.65" r="0.50" fill="#111"/>
<circle cx="193.20" cy="649.08" r="0.50" fill="#111"/>
<circle cx="193.36" cy="643.07" r="0.50" fill="#111"/>
<circle cx="200.14" cy="643.69" r="0.50" fill="#111"/>
<circle cx="194.27" cy="642.58" r="0.50" fill="#111"/>
<circle cx="190.72" cy="646.70" r="0.50" fill="#111"/>
<circle cx="198.10" cy="647.18" r="0.50" fill="#111"/>
<circle cx="191.89" cy="643.47" r="0.50" fill="#111"/>
<circle cx="189.45" cy="645.53" r="0.50" fill="#111"/>
<circle cx="187.09" cy="644.64" r="0.50" fill="#111"/>
<circle cx="198.54" cy="646.50" r="0.50" fill="#111"/>
<circle cx="189.18" cy="645.80" r="0.50" fill="#111"/>
<circle cx="190.22" cy="641.73" r="0.50" fill="#111"/>
<circle cx="187.41" cy="645.94" r="0.50" fill="#111"/>
<circle cx="201.08" cy="642.09" r="0.50" fill="#111"/>
<circle cx="190.01" cy="642.65" r="0.50" fill="#111"/>
<circle cx="205.03" cy="645.61" r="0.50" fill="#111"/>
<circle cx="191.00" cy="639.45" r="0.50" fill="#111"/>
<circle cx="190.41" cy="646.01" r="0.50" fill="#111"/>
<circle cx="202.09" cy="642.81" r="0.50" fill="#111"/>
<circle cx="190.32" cy="642.28" r="0.50" fill="#111"/>
<circle cx="184.83" cy="645.40" r="0.50" fill="#111"/>
<circle cx="188.51" cy="645.74" r="0.50" fill="#111"/>
<circle cx="185.65" cy="640.61" r="0.50" fill="#111"/>
<circle cx="194.83" cy="641.72" r="0.50" fill="#111"/>
<circle cx="197.09" cy="643.42" r="0.50" fill="#111"/>
<circle cx="188.10" cy="644.77" r="0.50" fill="#111"/>
<circle cx="197.37" cy="639.19" r="0.50" fill="#111"/>
<circle cx="201.90" cy="644.49" r="0.50" fill="#111"/>
<circle cx="197.00" cy="639.31" r="0.50" fill="#111"/>
<circle cx="190.19" cy="642.63" r="0.50" fill="#111"/>
<circle cx="198.45" cy="640.19" r="0.50" fill="#111"/>
<circle cx="189.43" cy="638.93" r="0.50" fill="#111"/>
<circle cx="192.39" cy="644.16" r="0.50" fill="#111"/>
<circle cx="185.74" cy="642.10" r="0.50" fill="#111"/>
<circle cx="195.85" cy="646.89" r="0.50" fill="#111"/>
<circle cx="196.55" cy="642.73" r="0.50" fill="#111"/>
<circle cx="188.08" cy="641.34" r="0.50" fill="#111"/>
<circle cx="190.44" cy="643.72" r="0.50" fill="#111"/>
<circle cx="193.27" cy="647.07" r="0.50" fill="#111"/>
<circle cx="194.82" cy="641.04" r="0.50" fill="#111"/>
<circle cx="200.60" cy="645.49" r="0.50" fill="#111"/>
<circle cx="193.96" cy="641.81" r="0.50" fill="#111"/>
<circle cx="184.89" cy="641.15" r="0.50" fill="#111"/>
<circle cx="197.69" cy="641.63" r="0.50" fill="#111"/>
<circle cx="187.43" cy="643.83" r="0.50" fill="#111"/>
<circle cx="194.62" cy="644.73" r="0.50" fill="#111"/>
<circle cx="196.52" cy="646.50" r="0.50" fill="#111"/>
<circle cx="189.64" cy="645.55" r="0.50" fill="#111"/>
<circle cx="188.96" cy="644.93" r="0.50" fill="#111"/>
<circle cx="194.32" cy="643.94" r="0.50" fill="#111"/>
<circle cx="197.95" cy="643.36" r="0.50" fill="#111"/>
<circle cx="198.62" cy="645.33" r="0.50" fill="#111"/>
<circle cx="194.12" cy="642.15" r="0.50" fill="#111"/>
<circle cx="190.03" cy="642.24" r="0.50" fill="#111"/>
<circle cx="192.57" cy="643.35" r="0.50" fill="#111"/>
<circle cx="207.21" cy="644.80" r="0.50" fill="#111"/>
<circle cx="197.04" cy="641.51" r="0.50" fill="#111"/>
<circle cx="190.23" cy="642.70" r="0.50" fill="#111"/>
<circle cx="194.38" cy="641.12" r="0.50" fill="#111"/>
<circle cx="200.91" cy="642.16" r="0.50" fill="#111"/>
<circle cx="198.46" cy="638.26" r="0.50" fill="#111"/>
<circle cx="193.47" cy="644.01" r="0.50" fill="#111"/>
<circle cx="194.38" cy="644.72" r="0.50" fill="#111"/>
<circle cx="194.79" cy="643.76" r="0.50" fill="#111"/>
<circle cx="184.79" cy="641.83" r="0.50" fill="#111"/>
<circle cx="182.72" cy="644.78" r="0.50" fill="#111"/>
<circle cx="194.91" cy="642.97" r="0.50" fill="#111"/>
<circle cx="189.72" cy="642.12" r="0.50" fill="#111"/>
<circle cx="201.99" cy="647.21" r="0.50" fill="#111"/>
<circle cx="193.23" cy="646.23" r="0.50" fill="#111"/>
<circle cx="186.20" cy="639.14" r="0.50" fill="#111"/>
<circle cx="191.28" cy="641.48" r="0.50" fill="#111"/>
<circle cx="190.93" cy="643.81" r="0.50" fill="#111"/>
<circle cx="207.41" cy="641.95" r="0.50" fill="#111"/>
<circle cx="193.73" cy="644.01" r="0.50" fill="#111"/>
<circle cx="193.34" cy="645.45" r="0.50" fill="#111"/>
<circle cx="201.67" cy="640.66" r="0.50" fill="#111"/>
<circle cx="194.24" cy="642.82" r="0.50" fill="#111"/>
<circle cx="195.14" cy="640.03" r="0.50" fill="#111"/>
<circle cx="185.41" cy="638.30" r="0.50" fill="#111"/>
<circle cx="195.92" cy="643.82" r="0.50" fill="#111"/>
<circle cx="193.84" cy="638.19" r="0.50" fill="#111"/>
<circle cx="191.78" cy="641.74" r="0.50" fill="#111"/>
<circle cx="187.00" cy="641.39" r="0.50" fill="#111"/>
<circle cx="196.71" cy="644.60" r="0.50" fill="#111"/>
<circle cx="193.40" cy="644.53" r="0.50" fill="#111"/>
<circle cx="190.72" cy="643.56" r="0.50" fill="#111"/>
<circle cx="193.69" cy="644.62" r="0.50" fill="#111"/>
<circle cx="193.18" cy="643.09" r="0.50" fill="#111"/>
<circle cx="192.88" cy="641.98" r="0.50" fill="#111"/>
<circle cx="203.77" cy="644.53" r="0.50" fill="#111"/>
<circle cx="195.47" cy="648.44" r="0.50" fill="#111"/>
<circle cx="199.95" cy="639.98" r="0.50" fill="#111"/>
<circle cx="196.70" cy="645.24" r="0.50" fill="#111"/>
<circle cx="202.17" cy="646.29" r="0.50" fill="#111"/>
<circle cx="197.04" cy="640.81" r="0.50" fill="#111"/>
<circle cx="189.49" cy="643.99" r="0.50" fill="#111"/>
<circle cx="195.82" cy="641.15" r="0.50" fill="#111"/>
<circle cx="191.73" cy="642.52" r="0.50" fill="#111"/>
<circle cx="193.78" cy="644.14" r="0.50" fill="#111"/>
<circle cx="192.18" cy="640.68" r="0.50" fill="#111"/>
<circle cx="199.22" cy="646.91" r="0.50" fill="#111"/>
<circle cx="193.01" cy="645.65" r="0.50" fill="#111"/>
<circle cx="195.54" cy="644.85" r="0.50" fill="#111"/>
<circle cx="195.71" cy="641.72" r="0.50" fill="#111"/>
<circle cx="196.14" cy="645.62" r="0.50" fill="#111"/>
<circle cx="189.38" cy="647.73" r="0.50" fill="#111"/>
<circle cx="203.11" cy="647.41" r="0.50" fill="#111"/>
<circle cx="202.65" cy="645.03" r="0.50" fill="#111"/>
<circle cx="191.94" cy="642.08" r="0.50" fill="#111"/>
<circle cx="189.76" cy="643.66" r="0.50" fill="#111"/>
<circle cx="193.35" cy="644.87" r="0.50" fill="#111"/>
<circle cx="184.21" cy="648.49" r="0.50" fill="#111"/>
<circle cx="203.97" cy="643.34" r="0.50" fill="#111"/>
<circle cx="196.61" cy="644.45" r="0.50" fill="#111"/>
<circle cx="194.76" cy="642.94" r="0.50" fill="#111"/>
<circle cx="192.94" cy="641.59" r="0.50" fill="#111"/>
<circle cx="194.32" cy="643.35" r="0.50" fill="#111"/>
<circle cx="194.97" cy="641.52" r="0.50" fill="#111"/>
<circle cx="193.68" cy="643.51" r="0.50" fill="#111"/>
<circle cx="196.28" cy="641.06" r="0.50" fill="#111"/>
<circle cx="195.43" cy="645.56" r="0.50" fill="#111"/>
<circle cx="196.25" cy="642.59" r="0.50" fill="#111"/>
<circle cx="191.24" cy="642.88" r="0.50" fill="#111"/>
<circle cx="196.85" cy="646.82" r="0.50" fill="#111"/>
<circle cx="192.77" cy="641.99" r="0.50" fill="#111"/>
<circle cx="195.23" cy="643.85" r="0.50" fill="#111"/>
<circle cx="189.32" cy="641.78" r="0.50" fill="#111"/>
<circle cx="193.03" cy="644.88" r="0.50" fill="#111"/>
<circle cx="188.01" cy="641.16" r="0.50" fill="#111"/>
<circle cx="195.80" cy="640.71" r="0.50" fill="#111"/>
<circle cx="194.00" cy="644.17" r="0.50" fill="#111"/>
<circle cx="192.99" cy="641.16" r="0.50" fill="#111"/>
<circle cx="193.22" cy="642.67" r="0.50" fill="#111"/>
<circle cx="195.05" cy="641.55" r="0.50" fill="#111"/>
<circle cx="198.52" cy="639.71" r="0.50" fill="#111"/>
<circle cx="192.69" cy="643.42" r="0.50" fill="#111"/>
<circle cx="197.92" cy="642.06" r="0.50" fill="#111"/>
<circle cx="196.01" cy="642.15" r="0.50" fill="#111"/>
<circle cx="196.90" cy="647.22" r="0.50" fill="#111"/>
<circle cx="191.66" cy="644.37" r="0.50" fill="#111"/>
<circle cx="189.23" cy="645.54" r="0.50" fill="#111"/>
<circle cx="199.07" cy="643.48" r="0.50" fill="#111"/>
<circle cx="188.28" cy="644.29" r="0.50" fill="#111"/>
<circle cx="198.79" cy="645.80" r="0.50" fill="#111"/>
<circle cx="197.24" cy="639.37" r="0.50" fill="#111"/>
<circle cx="190.37" cy="646.53" r="0.50" fill="#111"/>
<circle cx="187.86" cy="645.89" r="0.50" fill="#111"/>
<circle cx="202.16" cy="645.08" r="0.50" fill="#111"/>
<circle cx="198.65" cy="642.67" r="0.50" fill="#111"/>
<circle cx="187.86" cy="643.17" r="0.50" fill="#111"/>
<circle cx="192.59" cy="643.30" r="0.50" fill="#111"/>
<circle cx="196.71" cy="643.08" r="0.50" fill="#111"/>
<circle cx="194.38" cy="644.33" r="0.50" fill="#111"/>
<circle cx="193.48" cy="647.46" r="0.50" fill="#111"/>
<circle cx="195.54" cy="643.59" r="0.50" fill="#111"/>
<circle cx="192.54" cy="642.02" r="0.50" fill="#111"/>
<circle cx="199.68" cy="643.73" r="0.50" fill="#111"/>
<circle cx="188.54" cy="642.16" r="0.50" fill="#111"/>
<circle cx="192.87" cy="642.42" r="0.50" fill="#111"/>
<circle cx="198.49" cy="640.84" r="0.50" fill="#111"/>
<circle cx="195.76" cy="643.72" r="0.50" fill="#111"/>
<circle cx="188.08" cy="643.50" r="0.50" fill="#111"/>
<circle cx="193.07" cy="644.50" r="0.50" fill="#111"/>
<circle cx="191.43" cy="644.07" r="0.50" fill="#111"/>
<circle cx="185.84" cy="641.02" r="0.50" fill="#111"/>
<circle cx="197.11" cy="645.69" r="0.50" fill="#111"/>
<circle cx="193.44" cy="642.08" r="0.50" fill="#111"/>
<circle cx="198.48" cy="638.80" r="0.50" fill="#111"/>
<circle cx="189.82" cy="644.88" r="0.50" fill="#111"/>
<circle cx="196.50" cy="641.13" r="0.50" fill="#111"/>
<circle cx="184.82" cy="646.59" r="0.50" fill="#111"/>
<circle cx="194.20" cy="641.43" r="0.50" fill="#111"/>
<circle cx="193.75" cy="645.38" r="0.50" fill="#111"/>
<circle cx="181.58" cy="645.84" r="0.50" fill="#111"/>
<circle cx="196.90" cy="638.82" r="0.50" fill="#111"/>
<circle cx="197.05" cy="639.48" r="0.50" fill="#111"/>
<circle cx="198.74" cy="644.28" r="0.50" fill="#111"/>
<circle cx="203.86" cy="642.06" r="0.50" fill="#111"/>
<circle cx="193.52" cy="645.70" r="0.50" fill="#111"/>
<circle cx="190.56" cy="641.85" r="0.50" fill="#111"/>
<circle cx="191.79" cy="643.24" r="0.50" fill="#111"/>
<circle cx="188.52" cy="644.47" r="0.50" fill="#111"/>
<circle cx="196.00" cy="643.56" r="0.50" fill="#111"/>
<circle cx="201.32" cy="642.68" r="0.50" fill="#111"/>
<circle cx="199.51" cy="642.20" r="0.50" fill="#111"/>
<circle cx="196.98" cy="639.14" r="0.50" fill="#111"/>
<circle cx="194.41" cy="643.01" r="0.50" fill="#111"/>
<circle cx="191.22" cy="642.06" r="0.50" fill="#111"/>
<circle cx="191.90" cy="641.82" r="0.50" fill="#111"/>
<circle cx="183.41" cy="642.09" r="0.50" fill="#111"/>
<circle cx="190.97" cy="642.25" r="0.50" fill="#111"/>
<circle cx="188.63" cy="643.10" r="0.50" fill="#111"/>
<circle cx="197.11" cy="642.85" r="0.50" fill="#111"/>
<circle cx="191.23" cy="646.39" r="0.50" fill="#111"/>
<circle cx="197.99" cy="645.43" r="0.50" fill="#111"/>
<circle cx="198.82" cy="642.68" r="0.50" fill="#111"/>
<circle cx="192.90" cy="645.85" r="0.50" fill="#111"/>
<circle cx="190.95" cy="643.14" r="0.50" fill="#111"/>
<circle cx="195.24" cy="644.22" r="0.50" fill="#111"/>
<circle cx="192.23" cy="645.56" r="0.50" fill="#111"/>
<circle cx="192.68" cy="645.00" r="0.50" fill="#111"/>
<circle cx="198.42" cy="644.85" r="0.50" fill="#111"/>
<circle cx="196.87" cy="640.85" r="0.50" fill="#111"/>
<circle cx="187.47" cy="642.04" r="0.50" fill="#111"/>
<circle cx="195.69" cy="646.70" r="0.50" fill="#111"/>
<circle cx="187.88" cy="644.07" r="0.50" fill="#111"/>
<circle cx="189.57" cy="641.79" r="0.50" fill="#111"/>
<circle cx="192.23" cy="644.92" r="0.50" fill="#111"/>
<circle cx="194.48" cy="646.00" r="0.50" fill="#111"/>
<circle cx="188.97" cy="645.36" r="0.50" fill="#111"/>
<circle cx="197.78" cy="643.55" r="0.50" fill="#111"/>
<circle cx="195.70" cy="642.16" r="0.50" fill="#111"/>
<circle cx="183.64" cy="642.99" r="0.42" fill="#111"/>
<circle cx="185.43" cy="651.23" r="0.42" fill="#111"/>
<circle cx="186.06" cy="648.13" r="0.42" fill="#111"/>
<circle cx="188.81" cy="644.78" r="0.42" fill="#111"/>
<circle cx="190.97" cy="642.05" r="0.42" fill="#111"/>
<circle cx="191.67" cy="644.94" r="0.42" fill="#111"/>
<circle cx="181.94" cy="645.50" r="0.42" fill="#111"/>
<circle cx="190.21" cy="645.13" r="0.42" fill="#111"/>
<circle cx="194.34" cy="642.96" r="0.42" fill="#111"/>
<circle cx="190.05" cy="645.87" r="0.42" fill="#111"/>
<circle cx="184.40" cy="647.00" r="0.42" fill="#111"/>
<circle cx="182.20" cy="640.75" r="0.42" fill="#111"/>
<circle cx="190.09" cy="641.28" r="0.42" fill="#111"/>
<circle cx="187.53" cy="639.89" r="0.42" fill="#111"/>
<circle cx="188.28" cy="641.17" r="0.42" fill="#111"/>
<circle cx="189.37" cy="640.17" r="0.42" fill="#111"/>
<circle cx="189.79" cy="643.33" r="0.42" fill="#111"/>
<circle cx="188.26" cy="643.83" r="0.42" fill="#111"/>
<circle cx="188.52" cy="640.70" r="0.42" fill="#111"/>
<circle cx="184.26" cy="642.86" r="0.42" fill="#111"/>
<circle cx="189.71" cy="639.04" r="0.42" fill="#111"/>
<circle cx="184.95" cy="642.47" r="0.42" fill="#111"/>
<circle cx="183.77" cy="644.82" r="0.42" fill="#111"/>
<circle cx="187.44" cy="641.95" r="0.42" fill="#111"/>
<circle cx="184.06" cy="646.02" r="0.42" fill="#111"/>
<circle cx="185.36" cy="645.46" r="0.42" fill="#111"/>
<circle cx="189.80" cy="639.27" r="0.42" fill="#111"/>
<circle cx="183.67" cy="644.01" r="0.42" fill="#111"/>
<circle cx="189.37" cy="645.95" r="0.42" fill="#111"/>
<circle cx="191.21" cy="646.59" r="0.42" fill="#111"/>
<circle cx="186.50" cy="643.47" r="0.42" fill="#111"/>
<circle cx="191.10" cy="642.94" r="0.42" fill="#111"/>
<circle cx="192.23" cy="640.03" r="0.42" fill="#111"/>
<circle cx="190.61" cy="643.57" r="0.42" fill="#111"/>
<circle cx="180.13" cy="646.45" r="0.42" fill="#111"/>
<circle cx="189.24" cy="644.05" r="0.42" fill="#111"/>
<circle cx="183.69" cy="642.84" r="0.42" fill="#111"/>
<circle cx="194.05" cy="641.93" r="0.42" fill="#111"/>
<circle cx="183.20" cy="643.67" r="0.42" fill="#111"/>
<circle cx="186.43" cy="641.72" r="0.42" fill="#111"/>
<circle cx="184.63" cy="646.62" r="0.42" fill="#111"/>
<circle cx="182.23" cy="648.89" r="0.42" fill="#111"/>
<circle cx="185.82" cy="641.27" r="0.42" fill="#111"/>
<circle cx="191.15" cy="645.41" r="0.42" fill="#111"/>
<circle cx="183.83" cy="645.87" r="0.42" fill="#111"/>
<circle cx="180.64" cy="641.69" r="0.42" fill="#111"/>
<circle cx="192.51" cy="643.36" r="0.42" fill="#111"/>
<circle cx="182.79" cy="645.28" r="0.42" fill="#111"/>
<circle cx="206.25" cy="644.93" r="0.40" fill="#111"/>
<circle cx="181.74" cy="643.89" r="0.40" fill="#111"/>
<circle cx="201.76" cy="647.46" r="0.40" fill="#111"/>
<circle cx="214.68" cy="644.19" r="0.40" fill="#111"/>
<circle cx="193.66" cy="644.88" r="0.40" fill="#111"/>
<circle cx="208.86" cy="641.99" r="0.40" fill="#111"/>
<circle cx="209.75" cy="636.20" r="0.40" fill="#111"/>
<circle cx="205.18" cy="642.84" r="0.40" fill="#111"/>
<circle cx="202.13" cy="647.20" r="0.40" fill="#111"/>
<circle cx="187.36" cy="644.72" r="0.40" fill="#111"/>
<circle cx="200.17" cy="646.88" r="0.40" fill="#111"/>
<circle cx="189.63" cy="641.83" r="0.40" fill="#111"/>
<circle cx="180.69" cy="653.13" r="0.40" fill="#111"/>
<circle cx="196.27" cy="644.29" r="0.40" fill="#111"/>
<circle cx="184.55" cy="647.98" r="0.40" fill="#111"/>
<circle cx="193.19" cy="649.59" r="0.40" fill="#111"/>
<circle cx="205.67" cy="645.07" r="0.40" fill="#111"/>
<circle cx="204.54" cy="641.44" r="0.40" fill="#111"/>
<circle cx="195.07" cy="643.16" r="0.40" fill="#111"/>
<circle cx="186.58" cy="645.05" r="0.40" fill="#111"/>
<circle cx="196.70" cy="649.59" r="0.40" fill="#111"/>
<circle cx="189.73" cy="643.51" r="0.40" fill="#111"/>
<circle cx="201.80" cy="646.29" r="0.40" fill="#111"/>
<circle cx="198.25" cy="643.48" r="0.40" fill="#111"/>
<circle cx="202.45" cy="646.15" r="0.40" fill="#111"/>
<circle cx="181.41" cy="644.16" r="0.40" fill="#111"/>
<circle cx="185.63" cy="641.22" r="0.40" fill="#111"/>
<circle cx="199.32" cy="645.19" r="0.40" fill="#111"/>
<circle cx="199.02" cy="642.20" r="0.40" fill="#111"/>
<circle cx="196.19" cy="642.08" r="0.40" fill="#111"/>
<circle cx="201.44" cy="647.20" r="0.40" fill="#111"/>
<circle cx="213.80" cy="649.05" r="0.40" fill="#111"/>
<circle cx="190.75" cy="643.54" r="0.40" fill="#111"/>
<circle cx="189.55" cy="645.98" r="0.40" fill="#111"/>
<circle cx="215.82" cy="647.27" r="0.40" fill="#111"/>
<circle cx="186.37" cy="646.65" r="0.40" fill="#111"/>
<circle cx="198.01" cy="645.96" r="0.40" fill="#111"/>
<circle cx="214.03" cy="642.35" r="0.40" fill="#111"/>
<circle cx="190.37" cy="651.29" r="0.40" fill="#111"/>
<circle cx="201.08" cy="642.51" r="0.40" fill="#111"/>
<circle cx="179.74" cy="640.12" r="0.40" fill="#111"/>
<circle cx="198.40" cy="648.18" r="0.40" fill="#111"/>
<circle cx="196.75" cy="642.78" r="0.40" fill="#111"/>
<circle cx="191.33" cy="651.08" r="0.40" fill="#111"/>
<circle cx="182.11" cy="645.56" r="0.40" fill="#111"/>
<circle cx="198.23" cy="646.97" r="0.40" fill="#111"/>
<circle cx="194.36" cy="646.60" r="0.40" fill="#111"/>
<circle cx="205.34" cy="644.53" r="0.40" fill="#111"/>
<circle cx="193.88" cy="644.40" r="0.40" fill="#111"/>
<circle cx="189.32" cy="644.34" r="0.40" fill="#111"/>
<circle cx="195.28" cy="645.67" r="0.40" fill="#111"/>
<circle cx="210.03" cy="649.18" r="0.40" fill="#111"/>
<circle cx="193.99" cy="646.93" r="0.40" fill="#111"/>
<circle cx="200.65" cy="647.44" r="0.40" fill="#111"/>
<circle cx="198.19" cy="645.85" r="0.40" fill="#111"/>
<circle cx="193.78" cy="642.49" r="0.40" fill="#111"/>
<circle cx="205.85" cy="649.16" r="0.40" fill="#111"/>
<circle cx="203.96" cy="646.39" r="0.40" fill="#111"/>
<circle cx="200.40" cy="643.56" r="0.40" fill="#111"/>
<circle cx="181.95" cy="647.12" r="0.40" fill="#111"/>
<circle cx="199.79" cy="643.23" r="0.40" fill="#111"/>
<circle cx="189.32" cy="649.09" r="0.40" fill="#111"/>
<circle cx="181.76" cy="650.64" r="0.40" fill="#111"/>
<circle cx="203.76" cy="652.59" r="0.40" fill="#111"/>
<circle cx="191.54" cy="644.93" r="0.40" fill="#111"/>
<circle cx="193.44" cy="645.50" r="0.40" fill="#111"/>
<circle cx="196.11" cy="642.60" r="0.40" fill="#111"/>
<circle cx="207.67" cy="642.49" r="0.40" fill="#111"/>
<circle cx="193.43" cy="646.77" r="0.40" fill="#111"/>
<circle cx="193.16" cy="643.61" r="0.40" fill="#111"/>
<circle cx="201.20" cy="643.82" r="0.40" fill="#111"/>
<circle cx="186.78" cy="644.67" r="0.40" fill="#111"/>
<circle cx="196.02" cy="650.46" r="0.40" fill="#111"/>
<circle cx="188.13" cy="648.10" r="0.40" fill="#111"/>
<circle cx="190.93" cy="643.86" r="0.40" fill="#111"/>
<circle cx="195.06" cy="645.87" r="0.40" fill="#111"/>
<circle cx="205.77" cy="650.60" r="0.40" fill="#111"/>
<circle cx="192.27" cy="649.26" r="0.40" fill="#111"/>
<circle cx="206.96" cy="647.60" r="0.40" fill="#111"/>
<circle cx="191.17" cy="647.88" r="0.40" fill="#111"/>
<circle cx="197.03" cy="646.13" r="0.40" fill="#111"/>
<circle cx="195.58" cy="647.13" r="0.40" fill="#111"/>
<circle cx="208.04" cy="648.62" r="0.40" fill="#111"/>
<circle cx="196.15" cy="648.19" r="0.40" fill="#111"/>
<circle cx="211.07" cy="642.01" r="0.40" fill="#111"/>
<circle cx="211.25" cy="640.73" r="0.40" fill="#111"/>
<circle cx="202.88" cy="646.90" r="0.40" fill="#111"/>
<circle cx="211.35" cy="645.89" r="0.40" fill="#111"/>
<circle cx="193.67" cy="642.45" r="0.40" fill="#111"/>
<circle cx="186.74" cy="647.45" r="0.40" fill="#111"/>
<circle cx="195.87" cy="642.70" r="0.40" fill="#111"/>
<circle cx="202.79" cy="642.55" r="0.40" fill="#111"/>
<circle cx="194.07" cy="643.53" r="0.40" fill="#111"/>
<circle cx="212.89" cy="649.68" r="0.40" fill="#111"/>
<circle cx="196.58" cy="639.97" r="0.40" fill="#111"/>
<circle cx="200.49" cy="645.23" r="0.40" fill="#111"/>
<circle cx="201.14" cy="646.81" r="0.40" fill="#111"/>
<circle cx="195.12" cy="647.96" r="0.40" fill="#111"/>
<circle cx="205.53" cy="645.67" r="0.40" fill="#111"/>
<circle cx="194.34" cy="643.46" r="0.40" fill="#111"/>
<circle cx="204.23" cy="641.48" r="0.40" fill="#111"/>
<circle cx="196.56" cy="642.60" r="0.40" fill="#111"/>
<circle cx="185.46" cy="646.93" r="0.40" fill="#111"/>
<circle cx="197.77" cy="645.11" r="0.40" fill="#111"/>
<circle cx="205.87" cy="640.22" r="0.40" fill="#111"/>
<circle cx="197.40" cy="645.92" r="0.40" fill="#111"/>
<circle cx="205.49" cy="641.53" r="0.40" fill="#111"/>
<circle cx="204.44" cy="645.70" r="0.40" fill="#111"/>
<circle cx="210.20" cy="648.64" r="0.40" fill="#111"/>
<circle cx="202.95" cy="651.88" r="0.40" fill="#111"/>
<circle cx="197.99" cy="643.64" r="0.40" fill="#111"/>
<circle cx="194.93" cy="641.99" r="0.40" fill="#111"/>
<circle cx="197.74" cy="638.99" r="0.40" fill="#111"/>
<circle cx="197.24" cy="646.36" r="0.40" fill="#111"/>
<circle cx="206.92" cy="643.89" r="0.40" fill="#111"/>
<circle cx="210.50" cy="642.92" r="0.40" fill="#111"/>
<circle cx="196.79" cy="638.99" r="0.40" fill="#111"/>
<circle cx="191.15" cy="642.47" r="0.40" fill="#111"/>
<circle cx="211.13" cy="646.66" r="0.40" fill="#111"/>
<circle cx="188.30" cy="646.67" r="0.40" fill="#111"/>
<circle cx="202.23" cy="644.27" r="0.40" fill="#111"/>
<circle cx="198.20" cy="644.05" r="0.40" fill="#111"/>
<circle cx="193.23" cy="639.46" r="0.40" fill="#111"/>
<circle cx="197.20" cy="649.01" r="0.40" fill="#111"/>
<circle cx="210.59" cy="644.13" r="0.40" fill="#111"/>
<circle cx="191.44" cy="644.34" r="0.40" fill="#111"/>
<circle cx="205.89" cy="646.10" r="0.40" fill="#111"/>
<circle cx="210.01" cy="646.81" r="0.40" fill="#111"/>
<circle cx="212.59" cy="647.16" r="0.40" fill="#111"/>
<circle cx="211.21" cy="642.70" r="0.40" fill="#111"/>
<circle cx="214.40" cy="647.71" r="0.40" fill="#111"/>
<circle cx="206.44" cy="645.76" r="0.40" fill="#111"/>
<circle cx="219.99" cy="645.16" r="0.40" fill="#111"/>
<circle cx="209.56" cy="650.55" r="0.40" fill="#111"/>
<circle cx="219.66" cy="648.30" r="0.40" fill="#111"/>
<circle cx="207.55" cy="649.66" r="0.40" fill="#111"/>
<circle cx="202.70" cy="644.84" r="0.40" fill="#111"/>
<circle cx="219.04" cy="648.98" r="0.40" fill="#111"/>
<circle cx="207.66" cy="644.51" r="0.40" fill="#111"/>
<circle cx="215.34" cy="641.68" r="0.40" fill="#111"/>
<circle cx="218.35" cy="647.25" r="0.40" fill="#111"/>
<circle cx="210.95" cy="647.20" r="0.40" fill="#111"/>
<circle cx="219.28" cy="646.69" r="0.40" fill="#111"/>
<circle cx="217.55" cy="649.38" r="0.40" fill="#111"/>
<circle cx="210.75" cy="646.36" r="0.40" fill="#111"/>
<circle cx="210.45" cy="648.31" r="0.40" fill="#111"/>
<circle cx="211.23" cy="647.06" r="0.40" fill="#111"/>
<circle cx="214.93" cy="646.15" r="0.40" fill="#111"/>
<circle cx="225.65" cy="645.81" r="0.40" fill="#111"/>
<circle cx="223.61" cy="647.84" r="0.40" fill="#111"/>
<circle cx="222.95" cy="645.63" r="0.40" fill="#111"/>
<circle cx="220.29" cy="647.68" r="0.40" fill="#111"/>
<circle cx="209.84" cy="646.60" r="0.40" fill="#111"/>
<circle cx="213.13" cy="645.92" r="0.40" fill="#111"/>
<circle cx="222.81" cy="644.40" r="0.40" fill="#111"/>
<circle cx="202.62" cy="642.13" r="0.40" fill="#111"/>
<circle cx="210.94" cy="644.57" r="0.40" fill="#111"/>
<circle cx="214.10" cy="647.26" r="0.40" fill="#111"/>
<circle cx="225.90" cy="646.69" r="0.40" fill="#111"/>
<circle cx="217.13" cy="644.37" r="0.40" fill="#111"/>
<circle cx="217.92" cy="649.02" r="0.40" fill="#111"/>
<circle cx="223.06" cy="641.66" r="0.40" fill="#111"/>
<circle cx="220.01" cy="649.51" r="0.40" fill="#111"/>
<circle cx="219.58" cy="642.69" r="0.40" fill="#111"/>
<circle cx="211.93" cy="647.30" r="0.40" fill="#111"/>
<circle cx="216.80" cy="644.20" r="0.40" fill="#111"/>
<circle cx="207.99" cy="648.14" r="0.40" fill="#111"/>
<circle cx="205.00" cy="649.18" r="0.40" fill="#111"/>
<circle cx="214.14" cy="646.67" r="0.40" fill="#111"/>
<circle cx="205.01" cy="644.68" r="0.40" fill="#111"/>
<circle cx="218.64" cy="642.74" r="0.40" fill="#111"/>
<circle cx="227.95" cy="642.89" r="0.40" fill="#111"/>
<circle cx="205.77" cy="646.10" r="0.40" fill="#111"/>
<circle cx="217.24" cy="647.62" r="0.40" fill="#111"/>
<circle cx="211.50" cy="645.54" r="0.40" fill="#111"/>
<circle cx="212.41" cy="644.73" r="0.40" fill="#111"/>
<circle cx="196.65" cy="648.13" r="0.40" fill="#111"/>
<circle cx="215.69" cy="646.35" r="0.40" fill="#111"/>
<circle cx="209.77" cy="646.56" r="0.40" fill="#111"/>
<circle cx="213.91" cy="645.83" r="0.40" fill="#111"/>
<circle cx="221.44" cy="642.19" r="0.40" fill="#111"/>
<circle cx="215.69" cy="643.64" r="0.40" fill="#111"/>
<circle cx="211.86" cy="649.31" r="0.40" fill="#111"/>
<circle cx="206.71" cy="645.78" r="0.40" fill="#111"/>
<circle cx="210.02" cy="648.10" r="0.40" fill="#111"/>
<circle cx="207.41" cy="642.28" r="0.40" fill="#111"/>
<circle cx="217.46" cy="645.22" r="0.40" fill="#111"/>
<circle cx="211.85" cy="648.39" r="0.40" fill="#111"/>
<circle cx="208.03" cy="645.18" r="0.40" fill="#111"/>
<circle cx="214.99" cy="646.91" r="0.40" fill="#111"/>
<circle cx="210.53" cy="648.29" r="0.40" fill="#111"/>
<circle cx="229.07" cy="645.10" r="0.40" fill="#111"/>
<circle cx="226.57" cy="641.34" r="0.40" fill="#111"/>
<circle cx="223.46" cy="645.24" r="0.40" fill="#111"/>
<circle cx="214.92" cy="645.25" r="0.40" fill="#111"/>
<circle cx="209.72" cy="643.18" r="0.40" fill="#111"/>
<circle cx="211.35" cy="648.86" r="0.40" fill="#111"/>
<circle cx="228.38" cy="644.90" r="0.35" fill="#111"/>
<circle cx="221.97" cy="644.29" r="0.35" fill="#111"/>
<circle cx="219.39" cy="648.62" r="0.35" fill="#111"/>
<circle cx="226.55" cy="645.70" r="0.35" fill="#111"/>
<circle cx="222.11" cy="643.73" r="0.35" fill="#111"/>
<circle cx="229.06" cy="646.85" r="0.35" fill="#111"/>
<circle cx="220.34" cy="647.21" r="0.35" fill="#111"/>
<circle cx="219.75" cy="646.61" r="0.35" fill="#111"/>
<circle cx="220.31" cy="644.78" r="0.35" fill="#111"/>
<circle cx="225.90" cy="646.25" r="0.35" fill="#111"/>
<circle cx="227.88" cy="644.05" r="0.35" fill="#111"/>
<circle cx="230.06" cy="647.82" r="0.35" fill="#111"/>
<circle cx="223.96" cy="646.30" r="0.35" fill="#111"/>
<circle cx="221.01" cy="645.24" r="0.35" fill="#111"/>
<circle cx="218.93" cy="645.65" r="0.35" fill="#111"/>
<circle cx="224.77" cy="647.82" r="0.35" fill="#111"/>
<circle cx="227.64" cy="646.91" r="0.35" fill="#111"/>
<circle cx="222.61" cy="645.11" r="0.35" fill="#111"/>
<circle cx="222.69" cy="645.88" r="0.35" fill="#111"/>
<circle cx="216.59" cy="646.83" r="0.35" fill="#111"/>
<circle cx="182.97" cy="649.76" r="0.35" fill="#111"/>
<circle cx="195.17" cy="649.76" r="0.35" fill="#111"/>
<circle cx="207.77" cy="650.36" r="0.35" fill="#111"/>
<circle cx="207.07" cy="652.19" r="0.35" fill="#111"/>
<circle cx="191.18" cy="651.08" r="0.35" fill="#111"/>
<circle cx="204.97" cy="650.02" r="0.35" fill="#111"/>
<circle cx="195.68" cy="649.70" r="0.35" fill="#111"/>
<circle cx="195.45" cy="649.99" r="0.35" fill="#111"/>
<circle cx="195.63" cy="651.94" r="0.35" fill="#111"/>
<circle cx="205.70" cy="650.69" r="0.35" fill="#111"/>
<circle cx="196.55" cy="651.73" r="0.35" fill="#111"/>
<circle cx="192.77" cy="648.98" r="0.35" fill="#111"/>
<circle cx="203.53" cy="649.15" r="0.35" fill="#111"/>
<circle cx="202.15" cy="649.11" r="0.35" fill="#111"/>
<circle cx="209.06" cy="649.00" r="0.35" fill="#111"/>
<circle cx="201.52" cy="652.66" r="0.35" fill="#111"/>
<circle cx="187.62" cy="652.64" r="0.35" fill="#111"/>
<circle cx="188.68" cy="647.96" r="0.35" fill="#111"/>
<circle cx="200.54" cy="651.51" r="0.35" fill="#111"/>
<circle cx="193.44" cy="646.86" r="0.35" fill="#111"/>
<circle cx="194.58" cy="650.06" r="0.35" fill="#111"/>
<circle cx="192.09" cy="650.08" r="0.35" fill="#111"/>
<circle cx="181.25" cy="649.68" r="0.35" fill="#111"/>
<circle cx="208.82" cy="652.73" r="0.35" fill="#111"/>
<circle cx="192.22" cy="649.47" r="0.35" fill="#111"/>
<circle cx="198.04" cy="652.03" r="0.35" fill="#111"/>
<circle cx="200.55" cy="648.82" r="0.35" fill="#111"/>
<circle cx="196.24" cy="650.70" r="0.35" fill="#111"/>
<circle cx="206.05" cy="652.22" r="0.35" fill="#111"/>
<circle cx="199.02" cy="652.25" r="0.35" fill="#111"/>
<text x="99.12" y="724.90" font-size="10.86" font-weight="700" textLength="20.36" lengthAdjust="spacingAndGlyphs" fill="#000">3H3</text>
<text x="90.46" y="737.40" font-size="7.43" font-weight="400" textLength="27.57" lengthAdjust="spacingAndGlyphs" fill="#000">Data.052</text>
<rect x="74.20" y="740.60" width="74.30" height="63.20" fill="none" stroke="#555" stroke-width="1.10"/>
<line x1="74.20" y1="740.60" x2="74.20" y2="803.80" stroke="#111" stroke-width="1.40"/>
<line x1="74.20" y1="803.80" x2="148.50" y2="803.80" stroke="#111" stroke-width="1.40"/>
<line x1="100.70" y1="740.60" x2="100.70" y2="803.80" stroke="#8a8a8a" stroke-width="1.00"/>
<line x1="74.20" y1="767.40" x2="148.50" y2="767.40" stroke="#8a8a8a" stroke-width="1.00"/>
<line x1="71.80" y1="803.80" x2="74.20" y2="803.80" stroke="#111" stroke-width="1.00"/>
<line x1="74.20" y1="803.80" x2="74.20" y2="806.20" stroke="#111" stroke-width="1.00"/>
<line x1="72.70" y1="799.04" x2="74.20" y2="799.04" stroke="#111" stroke-width="1.00"/>
<line x1="79.79" y1="803.80" x2="79.79" y2="805.30" stroke="#111" stroke-width="1.00"/>
<line x1="72.70" y1="796.26" x2="74.20" y2="796.26" stroke="#111" stroke-width="1.00"/>
<line x1="83.06" y1="803.80" x2="83.06" y2="805.30" stroke="#111" stroke-width="1.00"/>
<line x1="72.70" y1="794.29" x2="74.20" y2="794.29" stroke="#111" stroke-width="1.00"/>
<line x1="85.38" y1="803.80" x2="85.38" y2="805.30" stroke="#111" stroke-width="1.00"/>
<line x1="72.70" y1="792.76" x2="74.20" y2="792.76" stroke="#111" stroke-width="1.00"/>
<line x1="87.18" y1="803.80" x2="87.18" y2="805.30" stroke="#111" stroke-width="1.00"/>
<line x1="72.70" y1="791.51" x2="74.20" y2="791.51" stroke="#111" stroke-width="1.00"/>
<line x1="88.65" y1="803.80" x2="88.65" y2="805.30" stroke="#111" stroke-width="1.00"/>
<line x1="72.70" y1="790.45" x2="74.20" y2="790.45" stroke="#111" stroke-width="1.00"/>
<line x1="89.90" y1="803.80" x2="89.90" y2="805.30" stroke="#111" stroke-width="1.00"/>
<line x1="72.70" y1="789.53" x2="74.20" y2="789.53" stroke="#111" stroke-width="1.00"/>
<line x1="90.97" y1="803.80" x2="90.97" y2="805.30" stroke="#111" stroke-width="1.00"/>
<line x1="72.70" y1="788.72" x2="74.20" y2="788.72" stroke="#111" stroke-width="1.00"/>
<line x1="91.93" y1="803.80" x2="91.93" y2="805.30" stroke="#111" stroke-width="1.00"/>
<line x1="71.80" y1="788.00" x2="74.20" y2="788.00" stroke="#111" stroke-width="1.00"/>
<line x1="92.78" y1="803.80" x2="92.78" y2="806.20" stroke="#111" stroke-width="1.00"/>
<line x1="72.70" y1="783.24" x2="74.20" y2="783.24" stroke="#111" stroke-width="1.00"/>
<line x1="98.37" y1="803.80" x2="98.37" y2="805.30" stroke="#111" stroke-width="1.00"/>
<line x1="72.70" y1="780.46" x2="74.20" y2="780.46" stroke="#111" stroke-width="1.00"/>
<line x1="101.64" y1="803.80" x2="101.64" y2="805.30" stroke="#111" stroke-width="1.00"/>
<line x1="72.70" y1="778.49" x2="74.20" y2="778.49" stroke="#111" stroke-width="1.00"/>
<line x1="103.96" y1="803.80" x2="103.96" y2="805.30" stroke="#111" stroke-width="1.00"/>
<line x1="72.70" y1="776.96" x2="74.20" y2="776.96" stroke="#111" stroke-width="1.00"/>
<line x1="105.76" y1="803.80" x2="105.76" y2="805.30" stroke="#111" stroke-width="1.00"/>
<line x1="72.70" y1="775.71" x2="74.20" y2="775.71" stroke="#111" stroke-width="1.00"/>
<line x1="107.23" y1="803.80" x2="107.23" y2="805.30" stroke="#111" stroke-width="1.00"/>
<line x1="72.70" y1="774.65" x2="74.20" y2="774.65" stroke="#111" stroke-width="1.00"/>
<line x1="108.47" y1="803.80" x2="108.47" y2="805.30" stroke="#111" stroke-width="1.00"/>
<line x1="72.70" y1="773.73" x2="74.20" y2="773.73" stroke="#111" stroke-width="1.00"/>
<line x1="109.55" y1="803.80" x2="109.55" y2="805.30" stroke="#111" stroke-width="1.00"/>
<line x1="72.70" y1="772.92" x2="74.20" y2="772.92" stroke="#111" stroke-width="1.00"/>
<line x1="110.50" y1="803.80" x2="110.50" y2="805.30" stroke="#111" stroke-width="1.00"/>
<line x1="71.80" y1="772.20" x2="74.20" y2="772.20" stroke="#111" stroke-width="1.00"/>
<line x1="111.35" y1="803.80" x2="111.35" y2="806.20" stroke="#111" stroke-width="1.00"/>
<line x1="72.70" y1="767.44" x2="74.20" y2="767.44" stroke="#111" stroke-width="1.00"/>
<line x1="116.94" y1="803.80" x2="116.94" y2="805.30" stroke="#111" stroke-width="1.00"/>
<line x1="72.70" y1="764.66" x2="74.20" y2="764.66" stroke="#111" stroke-width="1.00"/>
<line x1="120.21" y1="803.80" x2="120.21" y2="805.30" stroke="#111" stroke-width="1.00"/>
<line x1="72.70" y1="762.69" x2="74.20" y2="762.69" stroke="#111" stroke-width="1.00"/>
<line x1="122.53" y1="803.80" x2="122.53" y2="805.30" stroke="#111" stroke-width="1.00"/>
<line x1="72.70" y1="761.16" x2="74.20" y2="761.16" stroke="#111" stroke-width="1.00"/>
<line x1="124.33" y1="803.80" x2="124.33" y2="805.30" stroke="#111" stroke-width="1.00"/>
<line x1="72.70" y1="759.91" x2="74.20" y2="759.91" stroke="#111" stroke-width="1.00"/>
<line x1="125.80" y1="803.80" x2="125.80" y2="805.30" stroke="#111" stroke-width="1.00"/>
<line x1="72.70" y1="758.85" x2="74.20" y2="758.85" stroke="#111" stroke-width="1.00"/>
<line x1="127.05" y1="803.80" x2="127.05" y2="805.30" stroke="#111" stroke-width="1.00"/>
<line x1="72.70" y1="757.93" x2="74.20" y2="757.93" stroke="#111" stroke-width="1.00"/>
<line x1="128.12" y1="803.80" x2="128.12" y2="805.30" stroke="#111" stroke-width="1.00"/>
<line x1="72.70" y1="757.12" x2="74.20" y2="757.12" stroke="#111" stroke-width="1.00"/>
<line x1="129.08" y1="803.80" x2="129.08" y2="805.30" stroke="#111" stroke-width="1.00"/>
<line x1="71.80" y1="756.40" x2="74.20" y2="756.40" stroke="#111" stroke-width="1.00"/>
<line x1="129.93" y1="803.80" x2="129.93" y2="806.20" stroke="#111" stroke-width="1.00"/>
<line x1="72.70" y1="751.64" x2="74.20" y2="751.64" stroke="#111" stroke-width="1.00"/>
<line x1="135.52" y1="803.80" x2="135.52" y2="805.30" stroke="#111" stroke-width="1.00"/>
<line x1="72.70" y1="748.86" x2="74.20" y2="748.86" stroke="#111" stroke-width="1.00"/>
<line x1="138.79" y1="803.80" x2="138.79" y2="805.30" stroke="#111" stroke-width="1.00"/>
<line x1="72.70" y1="746.89" x2="74.20" y2="746.89" stroke="#111" stroke-width="1.00"/>
<line x1="141.11" y1="803.80" x2="141.11" y2="805.30" stroke="#111" stroke-width="1.00"/>
<line x1="72.70" y1="745.36" x2="74.20" y2="745.36" stroke="#111" stroke-width="1.00"/>
<line x1="142.91" y1="803.80" x2="142.91" y2="805.30" stroke="#111" stroke-width="1.00"/>
<line x1="72.70" y1="744.11" x2="74.20" y2="744.11" stroke="#111" stroke-width="1.00"/>
<line x1="144.38" y1="803.80" x2="144.38" y2="805.30" stroke="#111" stroke-width="1.00"/>
<line x1="72.70" y1="743.05" x2="74.20" y2="743.05" stroke="#111" stroke-width="1.00"/>
<line x1="145.62" y1="803.80" x2="145.62" y2="805.30" stroke="#111" stroke-width="1.00"/>
<line x1="72.70" y1="742.13" x2="74.20" y2="742.13" stroke="#111" stroke-width="1.00"/>
<line x1="146.70" y1="803.80" x2="146.70" y2="805.30" stroke="#111" stroke-width="1.00"/>
<line x1="72.70" y1="741.32" x2="74.20" y2="741.32" stroke="#111" stroke-width="1.00"/>
<line x1="147.65" y1="803.80" x2="147.65" y2="805.30" stroke="#111" stroke-width="1.00"/>
<line x1="71.80" y1="740.60" x2="74.20" y2="740.60" stroke="#111" stroke-width="0.80"/>
<line x1="148.50" y1="803.80" x2="148.50" y2="806.20" stroke="#111" stroke-width="0.80"/>
<g transform="translate(68.60,806.00) rotate(-90) scale(0.85,1)" fill="#000"><text x="0" y="0" font-size="7.4" text-anchor="middle">10</text><text x="5.3" y="-3.9" font-size="7.2">0</text></g>
<g transform="translate(68.60,790.20) rotate(-90) scale(0.85,1)" fill="#000"><text x="0" y="0" font-size="7.4" text-anchor="middle">10</text><text x="5.3" y="-3.9" font-size="7.2">1</text></g>
<g transform="translate(68.60,774.40) rotate(-90) scale(0.85,1)" fill="#000"><text x="0" y="0" font-size="7.4" text-anchor="middle">10</text><text x="5.3" y="-3.9" font-size="7.2">2</text></g>
<g transform="translate(68.60,758.60) rotate(-90) scale(0.85,1)" fill="#000"><text x="0" y="0" font-size="7.4" text-anchor="middle">10</text><text x="5.3" y="-3.9" font-size="7.2">3</text></g>
<g transform="translate(68.60,742.80) rotate(-90) scale(0.85,1)" fill="#000"><text x="0" y="0" font-size="7.4" text-anchor="middle">10</text><text x="5.3" y="-3.9" font-size="7.2">4</text></g>
<g transform="translate(59.60,773.00) rotate(-90)"><text x="0" y="0" font-size="7" text-anchor="middle" fill="#222">CY</text></g>
<g transform="translate(73.20,815.90) scale(0.78,1)" fill="#000"><text x="0" y="0" font-size="7.6" text-anchor="middle">10</text><text x="4.4" y="-3.9" font-size="7">0</text></g>
<g transform="translate(91.78,815.90) scale(0.78,1)" fill="#000"><text x="0" y="0" font-size="7.6" text-anchor="middle">10</text><text x="4.4" y="-3.9" font-size="7">1</text></g>
<g transform="translate(110.35,815.90) scale(0.78,1)" fill="#000"><text x="0" y="0" font-size="7.6" text-anchor="middle">10</text><text x="4.4" y="-3.9" font-size="7">2</text></g>
<g transform="translate(128.93,815.90) scale(0.78,1)" fill="#000"><text x="0" y="0" font-size="7.6" text-anchor="middle">10</text><text x="4.4" y="-3.9" font-size="7">3</text></g>
<g transform="translate(147.50,815.90) scale(0.78,1)" fill="#000"><text x="0" y="0" font-size="7.6" text-anchor="middle">10</text><text x="4.4" y="-3.9" font-size="7">4</text></g>
<text x="102.57" y="824.40" font-size="7.71" font-weight="400" textLength="14.81" lengthAdjust="spacingAndGlyphs" fill="#000">FITC</text>
<circle cx="114.86" cy="760.77" r="0.50" fill="#111"/>
<circle cx="114.77" cy="759.46" r="0.50" fill="#111"/>
<circle cx="118.64" cy="757.95" r="0.50" fill="#111"/>
<circle cx="113.98" cy="756.97" r="0.50" fill="#111"/>
<circle cx="116.47" cy="758.94" r="0.50" fill="#111"/>
<circle cx="115.06" cy="759.57" r="0.50" fill="#111"/>
<circle cx="109.91" cy="758.97" r="0.50" fill="#111"/>
<circle cx="116.25" cy="758.69" r="0.50" fill="#111"/>
<circle cx="118.29" cy="761.02" r="0.50" fill="#111"/>
<circle cx="114.72" cy="757.92" r="0.50" fill="#111"/>
<circle cx="114.26" cy="759.11" r="0.50" fill="#111"/>
<circle cx="117.69" cy="758.01" r="0.50" fill="#111"/>
<circle cx="118.88" cy="757.82" r="0.50" fill="#111"/>
<circle cx="118.38" cy="759.49" r="0.50" fill="#111"/>
<circle cx="117.34" cy="761.49" r="0.50" fill="#111"/>
<circle cx="115.24" cy="758.81" r="0.50" fill="#111"/>
<circle cx="117.37" cy="759.99" r="0.50" fill="#111"/>
<circle cx="112.14" cy="759.32" r="0.50" fill="#111"/>
<circle cx="113.86" cy="759.73" r="0.50" fill="#111"/>
<circle cx="119.94" cy="759.06" r="0.50" fill="#111"/>
<circle cx="115.69" cy="759.21" r="0.50" fill="#111"/>
<circle cx="107.49" cy="759.89" r="0.50" fill="#111"/>
<circle cx="117.62" cy="759.19" r="0.50" fill="#111"/>
<circle cx="114.86" cy="758.16" r="0.50" fill="#111"/>
<circle cx="115.48" cy="760.40" r="0.50" fill="#111"/>
<circle cx="115.71" cy="760.55" r="0.50" fill="#111"/>
<circle cx="108.59" cy="758.47" r="0.50" fill="#111"/>
<circle cx="116.79" cy="758.98" r="0.50" fill="#111"/>
<circle cx="111.22" cy="758.23" r="0.50" fill="#111"/>
<circle cx="119.60" cy="757.51" r="0.50" fill="#111"/>
<circle cx="113.15" cy="757.74" r="0.50" fill="#111"/>
<circle cx="114.41" cy="759.74" r="0.50" fill="#111"/>
<circle cx="117.71" cy="756.66" r="0.50" fill="#111"/>
<circle cx="120.20" cy="758.32" r="0.50" fill="#111"/>
<circle cx="114.31" cy="760.92" r="0.50" fill="#111"/>
<circle cx="115.76" cy="757.57" r="0.50" fill="#111"/>
<circle cx="114.16" cy="758.16" r="0.50" fill="#111"/>
<circle cx="113.09" cy="758.62" r="0.50" fill="#111"/>
<circle cx="118.53" cy="759.40" r="0.50" fill="#111"/>
<circle cx="112.02" cy="762.21" r="0.50" fill="#111"/>
<circle cx="113.15" cy="759.13" r="0.50" fill="#111"/>
<circle cx="116.09" cy="759.88" r="0.50" fill="#111"/>
<circle cx="115.05" cy="759.53" r="0.50" fill="#111"/>
<circle cx="122.06" cy="759.11" r="0.50" fill="#111"/>
<circle cx="112.88" cy="759.38" r="0.50" fill="#111"/>
<circle cx="113.69" cy="758.57" r="0.50" fill="#111"/>
<circle cx="116.54" cy="759.39" r="0.50" fill="#111"/>
<circle cx="115.18" cy="759.98" r="0.50" fill="#111"/>
<circle cx="115.44" cy="757.50" r="0.50" fill="#111"/>
<circle cx="118.53" cy="758.58" r="0.50" fill="#111"/>
<circle cx="119.49" cy="758.25" r="0.50" fill="#111"/>
<circle cx="117.65" cy="759.36" r="0.50" fill="#111"/>
<circle cx="108.23" cy="757.28" r="0.50" fill="#111"/>
<circle cx="112.78" cy="760.62" r="0.50" fill="#111"/>
<circle cx="110.56" cy="760.05" r="0.50" fill="#111"/>
<circle cx="119.15" cy="759.57" r="0.50" fill="#111"/>
<circle cx="117.94" cy="758.43" r="0.50" fill="#111"/>
<circle cx="115.97" cy="759.26" r="0.50" fill="#111"/>
<circle cx="117.21" cy="759.81" r="0.50" fill="#111"/>
<circle cx="115.40" cy="758.19" r="0.50" fill="#111"/>
<circle cx="112.30" cy="760.21" r="0.40" fill="#111"/>
<circle cx="107.03" cy="757.33" r="0.40" fill="#111"/>
<circle cx="113.02" cy="758.54" r="0.40" fill="#111"/>
<circle cx="113.70" cy="754.90" r="0.40" fill="#111"/>
<circle cx="113.36" cy="759.07" r="0.40" fill="#111"/>
<circle cx="118.73" cy="756.08" r="0.40" fill="#111"/>
<circle cx="113.53" cy="760.32" r="0.40" fill="#111"/>
<circle cx="117.35" cy="761.57" r="0.40" fill="#111"/>
<circle cx="120.07" cy="757.69" r="0.40" fill="#111"/>
<circle cx="118.06" cy="758.92" r="0.40" fill="#111"/>
<circle cx="111.14" cy="762.15" r="0.40" fill="#111"/>
<circle cx="111.98" cy="758.02" r="0.40" fill="#111"/>
<circle cx="113.04" cy="758.03" r="0.40" fill="#111"/>
<circle cx="119.84" cy="760.16" r="0.40" fill="#111"/>
<circle cx="121.73" cy="760.21" r="0.40" fill="#111"/>
<circle cx="112.04" cy="761.31" r="0.40" fill="#111"/>
<circle cx="111.85" cy="758.70" r="0.40" fill="#111"/>
<circle cx="114.19" cy="759.57" r="0.40" fill="#111"/>
<circle cx="120.75" cy="758.45" r="0.40" fill="#111"/>
<circle cx="116.69" cy="759.45" r="0.40" fill="#111"/>
<circle cx="108.95" cy="757.60" r="0.40" fill="#111"/>
<circle cx="113.94" cy="760.20" r="0.40" fill="#111"/>
<circle cx="116.54" cy="760.33" r="0.40" fill="#111"/>
<circle cx="115.23" cy="758.72" r="0.40" fill="#111"/>
<circle cx="117.05" cy="757.76" r="0.40" fill="#111"/>
<circle cx="82.83" cy="759.49" r="0.40" fill="#111"/>
<circle cx="82.49" cy="759.21" r="0.40" fill="#111"/>
<circle cx="85.12" cy="759.15" r="0.40" fill="#111"/>
<circle cx="87.83" cy="758.77" r="0.40" fill="#111"/>
<circle cx="86.37" cy="757.36" r="0.40" fill="#111"/>
<circle cx="88.56" cy="758.64" r="0.40" fill="#111"/>
<circle cx="89.56" cy="755.64" r="0.40" fill="#111"/>
<circle cx="84.91" cy="760.37" r="0.40" fill="#111"/>
<circle cx="78.59" cy="759.44" r="0.40" fill="#111"/>
<circle cx="88.36" cy="760.16" r="0.40" fill="#111"/>
<circle cx="82.23" cy="760.35" r="0.40" fill="#111"/>
<circle cx="88.57" cy="758.50" r="0.40" fill="#111"/>
<circle cx="113.44" cy="743.46" r="0.40" fill="#111"/>
<circle cx="112.04" cy="743.15" r="0.40" fill="#111"/>
<circle cx="113.06" cy="743.58" r="0.40" fill="#111"/>
<text x="179.32" y="725.10" font-size="10.34" font-weight="700" textLength="70.50" lengthAdjust="spacingAndGlyphs" fill="#000">3H3/Anti-IFN-</text>
<text x="249.45" y="724.95" font-size="11.41" font-family="Liberation Serif" font-style="italic" textLength="4.99" lengthAdjust="spacingAndGlyphs">γ</text>
<text x="195.05" y="737.60" font-size="7.14" font-weight="400" textLength="27.97" lengthAdjust="spacingAndGlyphs" fill="#000">Data.055</text>
<rect x="178.90" y="740.40" width="74.50" height="63.50" fill="none" stroke="#555" stroke-width="1.10"/>
<line x1="178.90" y1="740.40" x2="178.90" y2="803.90" stroke="#111" stroke-width="1.40"/>
<line x1="178.90" y1="803.90" x2="253.40" y2="803.90" stroke="#111" stroke-width="1.40"/>
<line x1="206.10" y1="740.40" x2="206.10" y2="803.90" stroke="#8a8a8a" stroke-width="1.00"/>
<line x1="178.90" y1="767.70" x2="253.40" y2="767.70" stroke="#8a8a8a" stroke-width="1.00"/>
<line x1="176.50" y1="803.90" x2="178.90" y2="803.90" stroke="#111" stroke-width="1.00"/>
<line x1="178.90" y1="803.90" x2="178.90" y2="806.30" stroke="#111" stroke-width="1.00"/>
<line x1="177.40" y1="799.12" x2="178.90" y2="799.12" stroke="#111" stroke-width="1.00"/>
<line x1="184.51" y1="803.90" x2="184.51" y2="805.40" stroke="#111" stroke-width="1.00"/>
<line x1="177.40" y1="796.33" x2="178.90" y2="796.33" stroke="#111" stroke-width="1.00"/>
<line x1="187.79" y1="803.90" x2="187.79" y2="805.40" stroke="#111" stroke-width="1.00"/>
<line x1="177.40" y1="794.34" x2="178.90" y2="794.34" stroke="#111" stroke-width="1.00"/>
<line x1="190.11" y1="803.90" x2="190.11" y2="805.40" stroke="#111" stroke-width="1.00"/>
<line x1="177.40" y1="792.80" x2="178.90" y2="792.80" stroke="#111" stroke-width="1.00"/>
<line x1="191.92" y1="803.90" x2="191.92" y2="805.40" stroke="#111" stroke-width="1.00"/>
<line x1="177.40" y1="791.55" x2="178.90" y2="791.55" stroke="#111" stroke-width="1.00"/>
<line x1="193.39" y1="803.90" x2="193.39" y2="805.40" stroke="#111" stroke-width="1.00"/>
<line x1="177.40" y1="790.48" x2="178.90" y2="790.48" stroke="#111" stroke-width="1.00"/>
<line x1="194.64" y1="803.90" x2="194.64" y2="805.40" stroke="#111" stroke-width="1.00"/>
<line x1="177.40" y1="789.56" x2="178.90" y2="789.56" stroke="#111" stroke-width="1.00"/>
<line x1="195.72" y1="803.90" x2="195.72" y2="805.40" stroke="#111" stroke-width="1.00"/>
<line x1="177.40" y1="788.75" x2="178.90" y2="788.75" stroke="#111" stroke-width="1.00"/>
<line x1="196.67" y1="803.90" x2="196.67" y2="805.40" stroke="#111" stroke-width="1.00"/>
<line x1="176.50" y1="788.02" x2="178.90" y2="788.02" stroke="#111" stroke-width="1.00"/>
<line x1="197.53" y1="803.90" x2="197.53" y2="806.30" stroke="#111" stroke-width="1.00"/>
<line x1="177.40" y1="783.25" x2="178.90" y2="783.25" stroke="#111" stroke-width="1.00"/>
<line x1="203.13" y1="803.90" x2="203.13" y2="805.40" stroke="#111" stroke-width="1.00"/>
<line x1="177.40" y1="780.45" x2="178.90" y2="780.45" stroke="#111" stroke-width="1.00"/>
<line x1="206.41" y1="803.90" x2="206.41" y2="805.40" stroke="#111" stroke-width="1.00"/>
<line x1="177.40" y1="778.47" x2="178.90" y2="778.47" stroke="#111" stroke-width="1.00"/>
<line x1="208.74" y1="803.90" x2="208.74" y2="805.40" stroke="#111" stroke-width="1.00"/>
<line x1="177.40" y1="776.93" x2="178.90" y2="776.93" stroke="#111" stroke-width="1.00"/>
<line x1="210.54" y1="803.90" x2="210.54" y2="805.40" stroke="#111" stroke-width="1.00"/>
<line x1="177.40" y1="775.67" x2="178.90" y2="775.67" stroke="#111" stroke-width="1.00"/>
<line x1="212.02" y1="803.90" x2="212.02" y2="805.40" stroke="#111" stroke-width="1.00"/>
<line x1="177.40" y1="774.61" x2="178.90" y2="774.61" stroke="#111" stroke-width="1.00"/>
<line x1="213.26" y1="803.90" x2="213.26" y2="805.40" stroke="#111" stroke-width="1.00"/>
<line x1="177.40" y1="773.69" x2="178.90" y2="773.69" stroke="#111" stroke-width="1.00"/>
<line x1="214.35" y1="803.90" x2="214.35" y2="805.40" stroke="#111" stroke-width="1.00"/>
<line x1="177.40" y1="772.88" x2="178.90" y2="772.88" stroke="#111" stroke-width="1.00"/>
<line x1="215.30" y1="803.90" x2="215.30" y2="805.40" stroke="#111" stroke-width="1.00"/>
<line x1="176.50" y1="772.15" x2="178.90" y2="772.15" stroke="#111" stroke-width="1.00"/>
<line x1="216.15" y1="803.90" x2="216.15" y2="806.30" stroke="#111" stroke-width="1.00"/>
<line x1="177.40" y1="767.37" x2="178.90" y2="767.37" stroke="#111" stroke-width="1.00"/>
<line x1="221.76" y1="803.90" x2="221.76" y2="805.40" stroke="#111" stroke-width="1.00"/>
<line x1="177.40" y1="764.58" x2="178.90" y2="764.58" stroke="#111" stroke-width="1.00"/>
<line x1="225.04" y1="803.90" x2="225.04" y2="805.40" stroke="#111" stroke-width="1.00"/>
<line x1="177.40" y1="762.59" x2="178.90" y2="762.59" stroke="#111" stroke-width="1.00"/>
<line x1="227.36" y1="803.90" x2="227.36" y2="805.40" stroke="#111" stroke-width="1.00"/>
<line x1="177.40" y1="761.05" x2="178.90" y2="761.05" stroke="#111" stroke-width="1.00"/>
<line x1="229.17" y1="803.90" x2="229.17" y2="805.40" stroke="#111" stroke-width="1.00"/>
<line x1="177.40" y1="759.80" x2="178.90" y2="759.80" stroke="#111" stroke-width="1.00"/>
<line x1="230.64" y1="803.90" x2="230.64" y2="805.40" stroke="#111" stroke-width="1.00"/>
<line x1="177.40" y1="758.73" x2="178.90" y2="758.73" stroke="#111" stroke-width="1.00"/>
<line x1="231.89" y1="803.90" x2="231.89" y2="805.40" stroke="#111" stroke-width="1.00"/>
<line x1="177.40" y1="757.81" x2="178.90" y2="757.81" stroke="#111" stroke-width="1.00"/>
<line x1="232.97" y1="803.90" x2="232.97" y2="805.40" stroke="#111" stroke-width="1.00"/>
<line x1="177.40" y1="757.00" x2="178.90" y2="757.00" stroke="#111" stroke-width="1.00"/>
<line x1="233.92" y1="803.90" x2="233.92" y2="805.40" stroke="#111" stroke-width="1.00"/>
<line x1="176.50" y1="756.27" x2="178.90" y2="756.27" stroke="#111" stroke-width="1.00"/>
<line x1="234.78" y1="803.90" x2="234.78" y2="806.30" stroke="#111" stroke-width="1.00"/>
<line x1="177.40" y1="751.50" x2="178.90" y2="751.50" stroke="#111" stroke-width="1.00"/>
<line x1="240.38" y1="803.90" x2="240.38" y2="805.40" stroke="#111" stroke-width="1.00"/>
<line x1="177.40" y1="748.70" x2="178.90" y2="748.70" stroke="#111" stroke-width="1.00"/>
<line x1="243.66" y1="803.90" x2="243.66" y2="805.40" stroke="#111" stroke-width="1.00"/>
<line x1="177.40" y1="746.72" x2="178.90" y2="746.72" stroke="#111" stroke-width="1.00"/>
<line x1="245.99" y1="803.90" x2="245.99" y2="805.40" stroke="#111" stroke-width="1.00"/>
<line x1="177.40" y1="745.18" x2="178.90" y2="745.18" stroke="#111" stroke-width="1.00"/>
<line x1="247.79" y1="803.90" x2="247.79" y2="805.40" stroke="#111" stroke-width="1.00"/>
<line x1="177.40" y1="743.92" x2="178.90" y2="743.92" stroke="#111" stroke-width="1.00"/>
<line x1="249.27" y1="803.90" x2="249.27" y2="805.40" stroke="#111" stroke-width="1.00"/>
<line x1="177.40" y1="742.86" x2="178.90" y2="742.86" stroke="#111" stroke-width="1.00"/>
<line x1="250.51" y1="803.90" x2="250.51" y2="805.40" stroke="#111" stroke-width="1.00"/>
<line x1="177.40" y1="741.94" x2="178.90" y2="741.94" stroke="#111" stroke-width="1.00"/>
<line x1="251.60" y1="803.90" x2="251.60" y2="805.40" stroke="#111" stroke-width="1.00"/>
<line x1="177.40" y1="741.13" x2="178.90" y2="741.13" stroke="#111" stroke-width="1.00"/>
<line x1="252.55" y1="803.90" x2="252.55" y2="805.40" stroke="#111" stroke-width="1.00"/>
<line x1="176.50" y1="740.40" x2="178.90" y2="740.40" stroke="#111" stroke-width="0.80"/>
<line x1="253.40" y1="803.90" x2="253.40" y2="806.30" stroke="#111" stroke-width="0.80"/>
<g transform="translate(173.30,806.10) rotate(-90) scale(0.85,1)" fill="#000"><text x="0" y="0" font-size="7.4" text-anchor="middle">10</text><text x="5.3" y="-3.9" font-size="7.2">0</text></g>
<g transform="translate(173.30,790.23) rotate(-90) scale(0.85,1)" fill="#000"><text x="0" y="0" font-size="7.4" text-anchor="middle">10</text><text x="5.3" y="-3.9" font-size="7.2">1</text></g>
<g transform="translate(173.30,774.35) rotate(-90) scale(0.85,1)" fill="#000"><text x="0" y="0" font-size="7.4" text-anchor="middle">10</text><text x="5.3" y="-3.9" font-size="7.2">2</text></g>
<g transform="translate(173.30,758.48) rotate(-90) scale(0.85,1)" fill="#000"><text x="0" y="0" font-size="7.4" text-anchor="middle">10</text><text x="5.3" y="-3.9" font-size="7.2">3</text></g>
<g transform="translate(173.30,742.60) rotate(-90) scale(0.85,1)" fill="#000"><text x="0" y="0" font-size="7.4" text-anchor="middle">10</text><text x="5.3" y="-3.9" font-size="7.2">4</text></g>
<g transform="translate(164.30,772.95) rotate(-90)"><text x="0" y="0" font-size="7" text-anchor="middle" fill="#222">CY</text></g>
<g transform="translate(177.90,816.00) scale(0.78,1)" fill="#000"><text x="0" y="0" font-size="7.6" text-anchor="middle">10</text><text x="4.4" y="-3.9" font-size="7">0</text></g>
<g transform="translate(196.53,816.00) scale(0.78,1)" fill="#000"><text x="0" y="0" font-size="7.6" text-anchor="middle">10</text><text x="4.4" y="-3.9" font-size="7">1</text></g>
<g transform="translate(215.15,816.00) scale(0.78,1)" fill="#000"><text x="0" y="0" font-size="7.6" text-anchor="middle">10</text><text x="4.4" y="-3.9" font-size="7">2</text></g>
<g transform="translate(233.78,816.00) scale(0.78,1)" fill="#000"><text x="0" y="0" font-size="7.6" text-anchor="middle">10</text><text x="4.4" y="-3.9" font-size="7">3</text></g>
<g transform="translate(252.40,816.00) scale(0.78,1)" fill="#000"><text x="0" y="0" font-size="7.6" text-anchor="middle">10</text><text x="4.4" y="-3.9" font-size="7">4</text></g>
<text x="208.37" y="823.70" font-size="7.71" font-weight="400" textLength="14.81" lengthAdjust="spacingAndGlyphs" fill="#000">FITC</text>
<circle cx="224.85" cy="759.24" r="0.50" fill="#111"/>
<circle cx="220.45" cy="758.58" r="0.50" fill="#111"/>
<circle cx="224.30" cy="758.45" r="0.50" fill="#111"/>
<circle cx="222.96" cy="759.30" r="0.50" fill="#111"/>
<circle cx="221.55" cy="756.55" r="0.50" fill="#111"/>
<circle cx="222.33" cy="759.01" r="0.50" fill="#111"/>
<circle cx="222.34" cy="758.07" r="0.50" fill="#111"/>
<circle cx="225.04" cy="758.67" r="0.50" fill="#111"/>
<circle cx="220.43" cy="758.11" r="0.50" fill="#111"/>
<circle cx="222.90" cy="757.75" r="0.50" fill="#111"/>
<circle cx="219.48" cy="760.73" r="0.50" fill="#111"/>
<circle cx="225.29" cy="759.82" r="0.50" fill="#111"/>
<circle cx="225.43" cy="759.38" r="0.50" fill="#111"/>
<circle cx="217.76" cy="759.96" r="0.50" fill="#111"/>
<circle cx="225.12" cy="759.27" r="0.50" fill="#111"/>
<circle cx="217.08" cy="760.00" r="0.50" fill="#111"/>
<circle cx="225.44" cy="758.32" r="0.50" fill="#111"/>
<circle cx="222.32" cy="759.55" r="0.50" fill="#111"/>
<circle cx="221.79" cy="759.86" r="0.50" fill="#111"/>
<circle cx="222.20" cy="759.47" r="0.50" fill="#111"/>
<circle cx="222.21" cy="757.37" r="0.50" fill="#111"/>
<circle cx="219.49" cy="761.87" r="0.50" fill="#111"/>
<circle cx="222.70" cy="760.07" r="0.50" fill="#111"/>
<circle cx="224.87" cy="760.46" r="0.50" fill="#111"/>
<circle cx="223.40" cy="758.22" r="0.50" fill="#111"/>
<circle cx="222.05" cy="756.94" r="0.50" fill="#111"/>
<circle cx="221.53" cy="759.68" r="0.50" fill="#111"/>
<circle cx="216.55" cy="758.99" r="0.50" fill="#111"/>
<circle cx="224.08" cy="760.09" r="0.50" fill="#111"/>
<circle cx="219.66" cy="758.17" r="0.50" fill="#111"/>
<circle cx="217.27" cy="757.81" r="0.50" fill="#111"/>
<circle cx="223.35" cy="760.81" r="0.50" fill="#111"/>
<circle cx="219.11" cy="760.14" r="0.50" fill="#111"/>
<circle cx="223.08" cy="758.32" r="0.50" fill="#111"/>
<circle cx="227.54" cy="756.35" r="0.50" fill="#111"/>
<circle cx="221.83" cy="759.01" r="0.50" fill="#111"/>
<circle cx="227.38" cy="760.55" r="0.50" fill="#111"/>
<circle cx="227.72" cy="758.93" r="0.50" fill="#111"/>
<circle cx="224.48" cy="760.13" r="0.50" fill="#111"/>
<circle cx="223.29" cy="759.15" r="0.50" fill="#111"/>
<circle cx="221.54" cy="758.40" r="0.50" fill="#111"/>
<circle cx="218.89" cy="760.69" r="0.50" fill="#111"/>
<circle cx="217.83" cy="755.36" r="0.40" fill="#111"/>
<circle cx="221.28" cy="758.94" r="0.40" fill="#111"/>
<circle cx="220.86" cy="762.18" r="0.40" fill="#111"/>
<circle cx="219.48" cy="758.54" r="0.40" fill="#111"/>
<circle cx="216.37" cy="758.96" r="0.40" fill="#111"/>
<circle cx="217.87" cy="759.36" r="0.40" fill="#111"/>
<circle cx="235.19" cy="759.69" r="0.40" fill="#111"/>
<circle cx="215.83" cy="762.38" r="0.40" fill="#111"/>
<circle cx="224.20" cy="760.43" r="0.40" fill="#111"/>
<circle cx="223.48" cy="760.43" r="0.40" fill="#111"/>
<circle cx="223.28" cy="761.47" r="0.40" fill="#111"/>
<circle cx="224.90" cy="761.36" r="0.40" fill="#111"/>
<circle cx="217.56" cy="759.00" r="0.40" fill="#111"/>
<circle cx="216.45" cy="760.68" r="0.40" fill="#111"/>
<circle cx="224.04" cy="758.18" r="0.40" fill="#111"/>
<circle cx="222.84" cy="763.60" r="0.40" fill="#111"/>
<circle cx="226.02" cy="757.04" r="0.40" fill="#111"/>
<circle cx="219.55" cy="760.11" r="0.40" fill="#111"/>
<circle cx="219.83" cy="759.68" r="0.40" fill="#111"/>
<circle cx="225.74" cy="759.58" r="0.40" fill="#111"/>
<circle cx="189.59" cy="759.09" r="0.40" fill="#111"/>
<circle cx="195.43" cy="757.33" r="0.40" fill="#111"/>
<circle cx="192.69" cy="752.96" r="0.40" fill="#111"/>
<circle cx="188.72" cy="755.97" r="0.40" fill="#111"/>
<circle cx="189.75" cy="749.07" r="0.40" fill="#111"/>
<circle cx="202.71" cy="753.61" r="0.40" fill="#111"/>
<circle cx="191.76" cy="758.55" r="0.40" fill="#111"/>
<circle cx="181.91" cy="760.92" r="0.40" fill="#111"/>
<circle cx="191.51" cy="758.93" r="0.40" fill="#111"/>
<circle cx="193.19" cy="757.89" r="0.40" fill="#111"/>
<circle cx="196.62" cy="757.00" r="0.40" fill="#111"/>
<circle cx="185.32" cy="752.71" r="0.40" fill="#111"/>
<circle cx="195.76" cy="761.12" r="0.40" fill="#111"/>
<circle cx="192.81" cy="758.55" r="0.40" fill="#111"/>
<circle cx="196.95" cy="758.41" r="0.40" fill="#111"/>
<circle cx="201.80" cy="752.62" r="0.40" fill="#111"/>
<circle cx="197.60" cy="756.48" r="0.40" fill="#111"/>
<circle cx="194.17" cy="754.50" r="0.40" fill="#111"/>
<circle cx="191.41" cy="753.99" r="0.40" fill="#111"/>
<circle cx="189.58" cy="764.34" r="0.40" fill="#111"/>
<line x1="46.90" y1="661.00" x2="46.90" y2="789.80" stroke="#000" stroke-width="1.00"/>
<polygon points="46.9,655 44,662 49.8,662" fill="#000"/>
<g transform="translate(50.8,818.5) rotate(-90)">
<text x="-0.44" y="0.00" font-size="11.00" font-weight="700" textLength="22.10" lengthAdjust="spacingAndGlyphs" fill="#000">CD4</text>
</g>
<text x="65.76" y="842.30" font-size="13.14" font-weight="700" textLength="34.59" lengthAdjust="spacingAndGlyphs" fill="#000">CD62L</text>
<line x1="102.30" y1="837.70" x2="198.50" y2="837.70" stroke="#000" stroke-width="1.00"/>
<polygon points="204.5,837.7 197.5,835 197.5,840.4" fill="#000"/>
<rect x="372.90" y="591.00" width="6.00" height="6.00" fill="#0a0a0a"/>
<rect x="373.40" y="605.00" width="5.00" height="5.20" fill="#d6d6d6" stroke="#444" stroke-width="1.00"/>
<text x="385.38" y="598.00" font-size="10.57" font-weight="700" textLength="33.16" lengthAdjust="spacingAndGlyphs" fill="#000">CD62L</text>
<text x="418.57" y="594.50" font-size="5.93" font-weight="700" textLength="10.21" lengthAdjust="spacingAndGlyphs" fill="#000">low</text>
<text x="385.38" y="611.30" font-size="10.00" font-weight="700" textLength="33.16" lengthAdjust="spacingAndGlyphs" fill="#000">CD62L</text>
<text x="418.54" y="608.50" font-size="6.48" font-weight="700" textLength="13.86" lengthAdjust="spacingAndGlyphs" fill="#000">high</text>
<line x1="358.75" y1="615.00" x2="358.75" y2="807.20" stroke="#b8b8b8" stroke-width="1.00"/>
<line x1="358.75" y1="666.50" x2="472.50" y2="666.50" stroke="#b8b8b8" stroke-width="1.00"/>
<line x1="358.75" y1="664.00" x2="358.75" y2="666.50" stroke="#b8b8b8" stroke-width="1.00"/>
<line x1="370.12" y1="664.00" x2="370.12" y2="666.50" stroke="#b8b8b8" stroke-width="1.00"/>
<line x1="381.50" y1="664.00" x2="381.50" y2="666.50" stroke="#b8b8b8" stroke-width="1.00"/>
<line x1="392.88" y1="664.00" x2="392.88" y2="666.50" stroke="#b8b8b8" stroke-width="1.00"/>
<line x1="404.25" y1="664.00" x2="404.25" y2="666.50" stroke="#b8b8b8" stroke-width="1.00"/>
<line x1="415.62" y1="664.00" x2="415.62" y2="666.50" stroke="#b8b8b8" stroke-width="1.00"/>
<line x1="427.00" y1="664.00" x2="427.00" y2="666.50" stroke="#b8b8b8" stroke-width="1.00"/>
<line x1="438.38" y1="664.00" x2="438.38" y2="666.50" stroke="#b8b8b8" stroke-width="1.00"/>
<line x1="449.75" y1="664.00" x2="449.75" y2="666.50" stroke="#b8b8b8" stroke-width="1.00"/>
<line x1="461.12" y1="664.00" x2="461.12" y2="666.50" stroke="#b8b8b8" stroke-width="1.00"/>
<line x1="472.50" y1="664.00" x2="472.50" y2="666.50" stroke="#b8b8b8" stroke-width="1.00"/>
<line x1="358.75" y1="713.25" x2="472.50" y2="713.25" stroke="#b8b8b8" stroke-width="1.00"/>
<line x1="358.75" y1="710.75" x2="358.75" y2="713.25" stroke="#b8b8b8" stroke-width="1.00"/>
<line x1="370.12" y1="710.75" x2="370.12" y2="713.25" stroke="#b8b8b8" stroke-width="1.00"/>
<line x1="381.50" y1="710.75" x2="381.50" y2="713.25" stroke="#b8b8b8" stroke-width="1.00"/>
<line x1="392.88" y1="710.75" x2="392.88" y2="713.25" stroke="#b8b8b8" stroke-width="1.00"/>
<line x1="404.25" y1="710.75" x2="404.25" y2="713.25" stroke="#b8b8b8" stroke-width="1.00"/>
<line x1="415.62" y1="710.75" x2="415.62" y2="713.25" stroke="#b8b8b8" stroke-width="1.00"/>
<line x1="427.00" y1="710.75" x2="427.00" y2="713.25" stroke="#b8b8b8" stroke-width="1.00"/>
<line x1="438.38" y1="710.75" x2="438.38" y2="713.25" stroke="#b8b8b8" stroke-width="1.00"/>
<line x1="449.75" y1="710.75" x2="449.75" y2="713.25" stroke="#b8b8b8" stroke-width="1.00"/>
<line x1="461.12" y1="710.75" x2="461.12" y2="713.25" stroke="#b8b8b8" stroke-width="1.00"/>
<line x1="472.50" y1="710.75" x2="472.50" y2="713.25" stroke="#b8b8b8" stroke-width="1.00"/>
<line x1="358.75" y1="760.50" x2="472.50" y2="760.50" stroke="#b8b8b8" stroke-width="1.00"/>
<line x1="358.75" y1="758.00" x2="358.75" y2="760.50" stroke="#b8b8b8" stroke-width="1.00"/>
<line x1="370.12" y1="758.00" x2="370.12" y2="760.50" stroke="#b8b8b8" stroke-width="1.00"/>
<line x1="381.50" y1="758.00" x2="381.50" y2="760.50" stroke="#b8b8b8" stroke-width="1.00"/>
<line x1="392.88" y1="758.00" x2="392.88" y2="760.50" stroke="#b8b8b8" stroke-width="1.00"/>
<line x1="404.25" y1="758.00" x2="404.25" y2="760.50" stroke="#b8b8b8" stroke-width="1.00"/>
<line x1="415.62" y1="758.00" x2="415.62" y2="760.50" stroke="#b8b8b8" stroke-width="1.00"/>
<line x1="427.00" y1="758.00" x2="427.00" y2="760.50" stroke="#b8b8b8" stroke-width="1.00"/>
<line x1="438.38" y1="758.00" x2="438.38" y2="760.50" stroke="#b8b8b8" stroke-width="1.00"/>
<line x1="449.75" y1="758.00" x2="449.75" y2="760.50" stroke="#b8b8b8" stroke-width="1.00"/>
<line x1="461.12" y1="758.00" x2="461.12" y2="760.50" stroke="#b8b8b8" stroke-width="1.00"/>
<line x1="472.50" y1="758.00" x2="472.50" y2="760.50" stroke="#b8b8b8" stroke-width="1.00"/>
<line x1="358.75" y1="807.20" x2="472.50" y2="807.20" stroke="#b8b8b8" stroke-width="1.00"/>
<line x1="358.75" y1="804.70" x2="358.75" y2="807.20" stroke="#b8b8b8" stroke-width="1.00"/>
<line x1="370.12" y1="804.70" x2="370.12" y2="807.20" stroke="#b8b8b8" stroke-width="1.00"/>
<line x1="381.50" y1="804.70" x2="381.50" y2="807.20" stroke="#b8b8b8" stroke-width="1.00"/>
<line x1="392.88" y1="804.70" x2="392.88" y2="807.20" stroke="#b8b8b8" stroke-width="1.00"/>
<line x1="404.25" y1="804.70" x2="404.25" y2="807.20" stroke="#b8b8b8" stroke-width="1.00"/>
<line x1="415.62" y1="804.70" x2="415.62" y2="807.20" stroke="#b8b8b8" stroke-width="1.00"/>
<line x1="427.00" y1="804.70" x2="427.00" y2="807.20" stroke="#b8b8b8" stroke-width="1.00"/>
<line x1="438.38" y1="804.70" x2="438.38" y2="807.20" stroke="#b8b8b8" stroke-width="1.00"/>
<line x1="449.75" y1="804.70" x2="449.75" y2="807.20" stroke="#b8b8b8" stroke-width="1.00"/>
<line x1="461.12" y1="804.70" x2="461.12" y2="807.20" stroke="#b8b8b8" stroke-width="1.00"/>
<line x1="472.50" y1="804.70" x2="472.50" y2="807.20" stroke="#b8b8b8" stroke-width="1.00"/>
<line x1="358.75" y1="623.00" x2="360.75" y2="623.00" stroke="#b8b8b8" stroke-width="1.00"/>
<line x1="358.75" y1="645.00" x2="360.75" y2="645.00" stroke="#b8b8b8" stroke-width="1.00"/>
<line x1="358.75" y1="690.00" x2="360.75" y2="690.00" stroke="#b8b8b8" stroke-width="1.00"/>
<line x1="358.75" y1="736.50" x2="360.75" y2="736.50" stroke="#b8b8b8" stroke-width="1.00"/>
<line x1="358.75" y1="783.00" x2="360.75" y2="783.00" stroke="#b8b8b8" stroke-width="1.00"/>
<line x1="452.60" y1="628.10" x2="460.60" y2="628.10" stroke="#3a3a3a" stroke-width="1.20"/>
<line x1="460.60" y1="626.10" x2="460.60" y2="630.10" stroke="#3a3a3a" stroke-width="1.50"/>
<rect x="358.75" y="623.20" width="93.85" height="9.80" fill="#0a0a0a"/>
<line x1="379.60" y1="653.50" x2="387.50" y2="653.50" stroke="#3a3a3a" stroke-width="1.20"/>
<line x1="387.50" y1="651.50" x2="387.50" y2="655.50" stroke="#3a3a3a" stroke-width="1.50"/>
<rect x="359.45" y="649.20" width="19.45" height="8.60" fill="#d6d6d6" stroke="#444" stroke-width="1.40"/>
<line x1="457.50" y1="677.65" x2="461.30" y2="677.65" stroke="#3a3a3a" stroke-width="1.20"/>
<line x1="461.30" y1="675.65" x2="461.30" y2="679.65" stroke="#3a3a3a" stroke-width="1.50"/>
<rect x="358.75" y="672.80" width="98.75" height="9.70" fill="#0a0a0a"/>
<line x1="374.30" y1="701.25" x2="379.30" y2="701.25" stroke="#3a3a3a" stroke-width="1.20"/>
<line x1="379.30" y1="699.25" x2="379.30" y2="703.25" stroke="#3a3a3a" stroke-width="1.50"/>
<rect x="359.45" y="697.00" width="14.15" height="8.50" fill="#d6d6d6" stroke="#444" stroke-width="1.40"/>
<line x1="380.00" y1="724.75" x2="392.50" y2="724.75" stroke="#3a3a3a" stroke-width="1.20"/>
<line x1="392.50" y1="722.75" x2="392.50" y2="726.75" stroke="#3a3a3a" stroke-width="1.50"/>
<rect x="358.75" y="720.00" width="21.25" height="9.50" fill="#0a0a0a"/>
<line x1="453.00" y1="748.15" x2="465.00" y2="748.15" stroke="#3a3a3a" stroke-width="1.20"/>
<line x1="465.00" y1="746.15" x2="465.00" y2="750.15" stroke="#3a3a3a" stroke-width="1.50"/>
<rect x="359.45" y="744.00" width="92.85" height="8.30" fill="#d6d6d6" stroke="#444" stroke-width="1.40"/>
<line x1="381.30" y1="771.85" x2="388.80" y2="771.85" stroke="#3a3a3a" stroke-width="1.20"/>
<line x1="388.80" y1="769.85" x2="388.80" y2="773.85" stroke="#3a3a3a" stroke-width="1.50"/>
<rect x="358.75" y="767.00" width="22.55" height="9.70" fill="#0a0a0a"/>
<line x1="451.30" y1="795.70" x2="458.80" y2="795.70" stroke="#3a3a3a" stroke-width="1.20"/>
<line x1="458.80" y1="793.70" x2="458.80" y2="797.70" stroke="#3a3a3a" stroke-width="1.50"/>
<rect x="359.45" y="791.60" width="91.15" height="8.20" fill="#d6d6d6" stroke="#444" stroke-width="1.40"/>
<text x="294.55" y="645.75" font-size="10.69" font-weight="700" textLength="53.20" lengthAdjust="spacingAndGlyphs" fill="#000">Control Ig</text>
<text x="293.76" y="689.90" font-size="11.03" font-weight="700" textLength="54.64" lengthAdjust="spacingAndGlyphs" fill="#000">Control Ig/</text>
<text x="293.47" y="703.40" font-size="10.48" font-weight="700" textLength="47.54" lengthAdjust="spacingAndGlyphs" fill="#000">Anti-IFN-</text>
<text x="340.66" y="703.15" font-size="11.41" font-family="Liberation Serif" font-style="italic" textLength="4.79" lengthAdjust="spacingAndGlyphs">γ</text>
<text x="320.97" y="742.50" font-size="11.43" font-weight="700" textLength="20.67" lengthAdjust="spacingAndGlyphs" fill="#000">3H3</text>
<text x="314.21" y="782.00" font-size="11.38" font-weight="700" textLength="24.63" lengthAdjust="spacingAndGlyphs" fill="#000">3H3/</text>
<text x="289.72" y="797.00" font-size="11.59" font-weight="700" textLength="46.77" lengthAdjust="spacingAndGlyphs" fill="#000">Anti-IFN-</text>
<text x="336.33" y="795.33" font-size="11.04" font-family="Liberation Serif" font-style="italic" textLength="5.29" lengthAdjust="spacingAndGlyphs">γ</text>
<text x="354.53" y="823.50" font-size="10.71" font-weight="700" textLength="5.96" lengthAdjust="spacingAndGlyphs" fill="#000">0</text>
<text x="374.33" y="823.50" font-size="10.71" font-weight="700" textLength="11.92" lengthAdjust="spacingAndGlyphs" fill="#000">20</text>
<text x="397.19" y="823.50" font-size="10.71" font-weight="700" textLength="11.92" lengthAdjust="spacingAndGlyphs" fill="#000">40</text>
<text x="419.83" y="823.50" font-size="10.71" font-weight="700" textLength="11.92" lengthAdjust="spacingAndGlyphs" fill="#000">60</text>
<text x="442.61" y="823.50" font-size="10.71" font-weight="700" textLength="11.92" lengthAdjust="spacingAndGlyphs" fill="#000">80</text>
<text x="462.20" y="823.50" font-size="10.71" font-weight="700" textLength="17.88" lengthAdjust="spacingAndGlyphs" fill="#000">100</text>
<text x="398.47" y="840.50" font-size="11.03" font-weight="700" textLength="37.48" lengthAdjust="spacingAndGlyphs" fill="#000">% cells</text>
</svg>
</body></html>
